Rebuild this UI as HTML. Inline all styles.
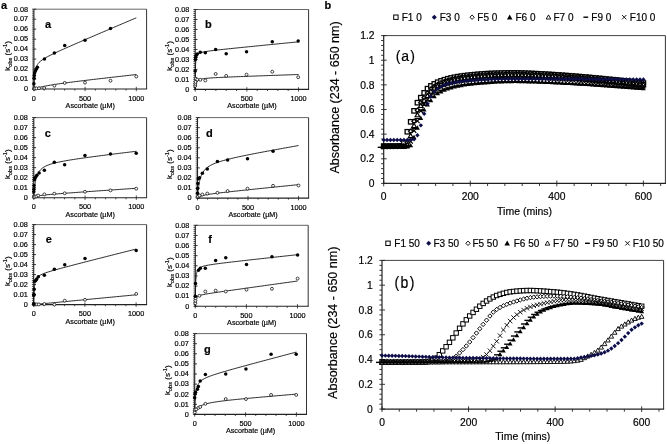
<!DOCTYPE html>
<html><head><meta charset="utf-8"><style>
html,body{margin:0;padding:0;background:#fff;}
svg{display:block;font-family:"Liberation Sans", sans-serif;filter:blur(0.35px);}
text{stroke:#000;stroke-width:0.18px;}
</style></head><body>
<svg width="667" height="444" viewBox="0 0 667 444">
<rect width="667" height="444" fill="#fff"/>
<line x1="33.9" y1="9.2" x2="146.6" y2="9.2" stroke="#666" stroke-width="1"/>
<line x1="146.6" y1="9.2" x2="146.6" y2="89" stroke="#333" stroke-width="1"/>
<line x1="32.1" y1="89" x2="36.2" y2="89" stroke="#222" stroke-width="0.9"/>
<line x1="32.1" y1="87" x2="33.9" y2="87" stroke="#333" stroke-width="0.85"/>
<line x1="32.1" y1="85.01" x2="33.9" y2="85.01" stroke="#333" stroke-width="0.85"/>
<line x1="32.1" y1="83.02" x2="33.9" y2="83.02" stroke="#333" stroke-width="0.85"/>
<line x1="32.1" y1="81.02" x2="33.9" y2="81.02" stroke="#333" stroke-width="0.85"/>
<line x1="32.1" y1="79.03" x2="36.2" y2="79.03" stroke="#222" stroke-width="0.9"/>
<line x1="32.1" y1="77.03" x2="33.9" y2="77.03" stroke="#333" stroke-width="0.85"/>
<line x1="32.1" y1="75.03" x2="33.9" y2="75.03" stroke="#333" stroke-width="0.85"/>
<line x1="32.1" y1="73.04" x2="33.9" y2="73.04" stroke="#333" stroke-width="0.85"/>
<line x1="32.1" y1="71.05" x2="33.9" y2="71.05" stroke="#333" stroke-width="0.85"/>
<line x1="32.1" y1="69.05" x2="36.2" y2="69.05" stroke="#222" stroke-width="0.9"/>
<line x1="32.1" y1="67.06" x2="33.9" y2="67.06" stroke="#333" stroke-width="0.85"/>
<line x1="32.1" y1="65.06" x2="33.9" y2="65.06" stroke="#333" stroke-width="0.85"/>
<line x1="32.1" y1="63.06" x2="33.9" y2="63.06" stroke="#333" stroke-width="0.85"/>
<line x1="32.1" y1="61.07" x2="33.9" y2="61.07" stroke="#333" stroke-width="0.85"/>
<line x1="32.1" y1="59.08" x2="36.2" y2="59.08" stroke="#222" stroke-width="0.9"/>
<line x1="32.1" y1="57.08" x2="33.9" y2="57.08" stroke="#333" stroke-width="0.85"/>
<line x1="32.1" y1="55.09" x2="33.9" y2="55.09" stroke="#333" stroke-width="0.85"/>
<line x1="32.1" y1="53.09" x2="33.9" y2="53.09" stroke="#333" stroke-width="0.85"/>
<line x1="32.1" y1="51.09" x2="33.9" y2="51.09" stroke="#333" stroke-width="0.85"/>
<line x1="32.1" y1="49.1" x2="36.2" y2="49.1" stroke="#222" stroke-width="0.9"/>
<line x1="32.1" y1="47.1" x2="33.9" y2="47.1" stroke="#333" stroke-width="0.85"/>
<line x1="32.1" y1="45.11" x2="33.9" y2="45.11" stroke="#333" stroke-width="0.85"/>
<line x1="32.1" y1="43.12" x2="33.9" y2="43.12" stroke="#333" stroke-width="0.85"/>
<line x1="32.1" y1="41.12" x2="33.9" y2="41.12" stroke="#333" stroke-width="0.85"/>
<line x1="32.1" y1="39.12" x2="36.2" y2="39.12" stroke="#222" stroke-width="0.9"/>
<line x1="32.1" y1="37.13" x2="33.9" y2="37.13" stroke="#333" stroke-width="0.85"/>
<line x1="32.1" y1="35.13" x2="33.9" y2="35.13" stroke="#333" stroke-width="0.85"/>
<line x1="32.1" y1="33.14" x2="33.9" y2="33.14" stroke="#333" stroke-width="0.85"/>
<line x1="32.1" y1="31.14" x2="33.9" y2="31.14" stroke="#333" stroke-width="0.85"/>
<line x1="32.1" y1="29.15" x2="36.2" y2="29.15" stroke="#222" stroke-width="0.9"/>
<line x1="32.1" y1="27.16" x2="33.9" y2="27.16" stroke="#333" stroke-width="0.85"/>
<line x1="32.1" y1="25.16" x2="33.9" y2="25.16" stroke="#333" stroke-width="0.85"/>
<line x1="32.1" y1="23.16" x2="33.9" y2="23.16" stroke="#333" stroke-width="0.85"/>
<line x1="32.1" y1="21.17" x2="33.9" y2="21.17" stroke="#333" stroke-width="0.85"/>
<line x1="32.1" y1="19.17" x2="36.2" y2="19.17" stroke="#222" stroke-width="0.9"/>
<line x1="32.1" y1="17.18" x2="33.9" y2="17.18" stroke="#333" stroke-width="0.85"/>
<line x1="32.1" y1="15.19" x2="33.9" y2="15.19" stroke="#333" stroke-width="0.85"/>
<line x1="32.1" y1="13.19" x2="33.9" y2="13.19" stroke="#333" stroke-width="0.85"/>
<line x1="32.1" y1="11.19" x2="33.9" y2="11.19" stroke="#333" stroke-width="0.85"/>
<line x1="32.1" y1="9.2" x2="36.2" y2="9.2" stroke="#222" stroke-width="0.9"/>
<line x1="33.9" y1="86.8" x2="33.9" y2="91.2" stroke="#222" stroke-width="0.8"/>
<line x1="44.14" y1="89" x2="44.14" y2="90.6" stroke="#222" stroke-width="0.8"/>
<line x1="54.38" y1="89" x2="54.38" y2="90.6" stroke="#222" stroke-width="0.8"/>
<line x1="64.62" y1="89" x2="64.62" y2="90.6" stroke="#222" stroke-width="0.8"/>
<line x1="74.86" y1="89" x2="74.86" y2="90.6" stroke="#222" stroke-width="0.8"/>
<line x1="85.1" y1="86.8" x2="85.1" y2="91.2" stroke="#222" stroke-width="0.8"/>
<line x1="95.34" y1="89" x2="95.34" y2="90.6" stroke="#222" stroke-width="0.8"/>
<line x1="105.58" y1="89" x2="105.58" y2="90.6" stroke="#222" stroke-width="0.8"/>
<line x1="115.82" y1="89" x2="115.82" y2="90.6" stroke="#222" stroke-width="0.8"/>
<line x1="126.06" y1="89" x2="126.06" y2="90.6" stroke="#222" stroke-width="0.8"/>
<line x1="136.3" y1="86.8" x2="136.3" y2="91.2" stroke="#222" stroke-width="0.8"/>
<line x1="33.9" y1="9.2" x2="33.9" y2="89.5" stroke="#222" stroke-width="1.1"/>
<line x1="33.4" y1="89" x2="147.1" y2="89" stroke="#222" stroke-width="1.1"/>
<text x="28" y="91.3" font-size="7.3" text-anchor="end" font-weight="normal" fill="#000">0</text>
<text x="28" y="81.33" font-size="7.3" text-anchor="end" font-weight="normal" fill="#000">0.01</text>
<text x="28" y="71.35" font-size="7.3" text-anchor="end" font-weight="normal" fill="#000">0.02</text>
<text x="28" y="61.38" font-size="7.3" text-anchor="end" font-weight="normal" fill="#000">0.03</text>
<text x="28" y="51.4" font-size="7.3" text-anchor="end" font-weight="normal" fill="#000">0.04</text>
<text x="28" y="41.42" font-size="7.3" text-anchor="end" font-weight="normal" fill="#000">0.05</text>
<text x="28" y="31.45" font-size="7.3" text-anchor="end" font-weight="normal" fill="#000">0.06</text>
<text x="28" y="21.47" font-size="7.3" text-anchor="end" font-weight="normal" fill="#000">0.07</text>
<text x="28" y="11.5" font-size="7.3" text-anchor="end" font-weight="normal" fill="#000">0.08</text>
<text x="33.9" y="100.7" font-size="7.3" text-anchor="middle" font-weight="normal" fill="#000">0</text>
<text x="85.1" y="100.7" font-size="7.3" text-anchor="middle" font-weight="normal" fill="#000">500</text>
<text x="136.3" y="100.7" font-size="7.3" text-anchor="middle" font-weight="normal" fill="#000">1000</text>
<text x="90.25" y="108" font-size="7.2" text-anchor="middle" font-weight="normal" fill="#000">Ascorbate (µM)</text>
<text transform="translate(10.3 70.7) rotate(-90)" font-size="8" fill="#000">k<tspan font-size="5.6" dy="1.8">obs</tspan><tspan dy="-1.8"> (s</tspan><tspan font-size="5.6" dy="-3">-1</tspan><tspan dy="3">)</tspan></text>
<text x="44.9" y="27.8" font-size="11" text-anchor="start" font-weight="bold" fill="#000">a</text>
<path d="M33.9 89 L33.99 86.27 L34.07 84.01 L34.16 82.11 L34.25 80.48 L34.33 79.08 L34.42 77.85 L34.51 76.77 L34.59 75.8 L34.68 74.94 L34.77 74.16 L34.85 73.46 L34.94 72.82 L35.03 72.23 L35.11 71.69 L35.2 71.19 L35.29 70.72 L35.38 70.29 L35.46 69.89 L35.55 69.51 L35.64 69.16 L35.72 68.82 L35.81 68.51 L35.9 68.21 L35.98 67.93 L36.07 67.66 L36.16 67.41 L36.24 67.17 L36.33 66.94 L36.42 66.71 L36.5 66.5 L36.59 66.3 L36.68 66.1 L36.76 65.92 L36.85 65.74 L36.94 65.56 L37.02 65.39 L37.11 65.23 L37.2 65.07 L37.28 64.92 L37.37 64.77 L37.46 64.63 L37.54 64.49 L37.63 64.36 L37.72 64.23 L37.81 64.1 L37.89 63.97 L37.98 63.85 L38.07 63.73 L38.15 63.62 L38.24 63.5 L38.33 63.39 L38.41 63.28 L38.5 63.18 L38.59 63.08 L38.67 62.97 L38.76 62.87 L38.85 62.78 L38.93 62.68 L39.02 62.59 L39.02 62.59 L40.67 61.05 L42.32 59.81 L43.97 58.73 L45.62 57.76 L47.26 56.85 L48.91 55.98 L50.56 55.14 L52.21 54.33 L53.86 53.54 L55.51 52.76 L57.16 52 L58.81 51.24 L60.45 50.49 L62.1 49.74 L63.75 49 L65.4 48.27 L67.05 47.53 L68.7 46.81 L70.35 46.08 L72 45.36 L73.65 44.64 L75.29 43.92 L76.94 43.2 L78.59 42.48 L80.24 41.77 L81.89 41.05 L83.54 40.34 L85.19 39.63 L86.84 38.92 L88.48 38.21 L90.13 37.5 L91.78 36.79 L93.43 36.08 L95.08 35.38 L96.73 34.67 L98.38 33.96 L100.03 33.26 L101.67 32.55 L103.32 31.85 L104.97 31.14 L106.62 30.44 L108.27 29.74 L109.92 29.03 L111.57 28.33 L113.22 27.63 L114.87 26.92 L116.51 26.22 L118.16 25.52 L119.81 24.82 L121.46 24.11 L123.11 23.41 L124.76 22.71 L126.41 22.01 L128.06 21.31 L129.7 20.61 L131.35 19.9 L133 19.2 L134.65 18.5 L136.3 17.8" stroke="#111" stroke-width="0.9" fill="none"/>
<path d="M33.9 89 L33.99 88.97 L34.07 88.94 L34.16 88.91 L34.25 88.87 L34.33 88.84 L34.42 88.81 L34.51 88.78 L34.59 88.75 L34.68 88.72 L34.77 88.69 L34.85 88.66 L34.94 88.64 L35.03 88.61 L35.11 88.58 L35.2 88.55 L35.29 88.52 L35.38 88.49 L35.46 88.46 L35.55 88.44 L35.64 88.41 L35.72 88.38 L35.81 88.35 L35.9 88.33 L35.98 88.3 L36.07 88.27 L36.16 88.25 L36.24 88.22 L36.33 88.19 L36.42 88.17 L36.5 88.14 L36.59 88.12 L36.68 88.09 L36.76 88.07 L36.85 88.04 L36.94 88.02 L37.02 87.99 L37.11 87.97 L37.2 87.94 L37.28 87.92 L37.37 87.89 L37.46 87.87 L37.54 87.84 L37.63 87.82 L37.72 87.8 L37.81 87.77 L37.89 87.75 L37.98 87.73 L38.07 87.7 L38.15 87.68 L38.24 87.66 L38.33 87.63 L38.41 87.61 L38.5 87.59 L38.59 87.57 L38.67 87.54 L38.76 87.52 L38.85 87.5 L38.93 87.48 L39.02 87.45 L39.02 87.45 L40.67 87.05 L42.32 86.69 L43.97 86.34 L45.62 86.02 L47.26 85.71 L48.91 85.42 L50.56 85.14 L52.21 84.87 L53.86 84.61 L55.51 84.35 L57.16 84.1 L58.81 83.86 L60.45 83.63 L62.1 83.39 L63.75 83.17 L65.4 82.94 L67.05 82.72 L68.7 82.5 L70.35 82.29 L72 82.07 L73.65 81.86 L75.29 81.65 L76.94 81.45 L78.59 81.24 L80.24 81.04 L81.89 80.84 L83.54 80.63 L85.19 80.43 L86.84 80.24 L88.48 80.04 L90.13 79.84 L91.78 79.64 L93.43 79.45 L95.08 79.26 L96.73 79.06 L98.38 78.87 L100.03 78.68 L101.67 78.48 L103.32 78.29 L104.97 78.1 L106.62 77.91 L108.27 77.72 L109.92 77.53 L111.57 77.35 L113.22 77.16 L114.87 76.97 L116.51 76.78 L118.16 76.6 L119.81 76.41 L121.46 76.22 L123.11 76.04 L124.76 75.85 L126.41 75.67 L128.06 75.48 L129.7 75.3 L131.35 75.11 L133 74.93 L134.65 74.74 L136.3 74.56" stroke="#111" stroke-width="0.9" fill="none"/>
<circle cx="33.9" cy="88.7" r="1.45" fill="#fff" stroke="#111" stroke-width="0.8"/>
<circle cx="34.41" cy="88.6" r="1.45" fill="#fff" stroke="#111" stroke-width="0.8"/>
<circle cx="34.92" cy="88.5" r="1.45" fill="#fff" stroke="#111" stroke-width="0.8"/>
<circle cx="36.46" cy="88.4" r="1.45" fill="#fff" stroke="#111" stroke-width="0.8"/>
<circle cx="39.02" cy="88.2" r="1.45" fill="#fff" stroke="#111" stroke-width="0.8"/>
<circle cx="44.14" cy="88" r="1.45" fill="#fff" stroke="#111" stroke-width="0.8"/>
<circle cx="54.38" cy="85.71" r="1.45" fill="#fff" stroke="#111" stroke-width="0.8"/>
<circle cx="64.72" cy="82.92" r="1.45" fill="#fff" stroke="#111" stroke-width="0.8"/>
<circle cx="85" cy="82.62" r="1.45" fill="#fff" stroke="#111" stroke-width="0.8"/>
<circle cx="110.5" cy="80.72" r="1.45" fill="#fff" stroke="#111" stroke-width="0.8"/>
<circle cx="136.3" cy="76.53" r="1.45" fill="#fff" stroke="#111" stroke-width="0.8"/>
<circle cx="33.9" cy="83.81" r="1.75" fill="#000"/>
<circle cx="34.1" cy="78.33" r="1.75" fill="#000"/>
<circle cx="34.31" cy="75.53" r="1.75" fill="#000"/>
<circle cx="34.72" cy="72.84" r="1.75" fill="#000"/>
<circle cx="35.44" cy="70.65" r="1.75" fill="#000"/>
<circle cx="36.46" cy="69.05" r="1.75" fill="#000"/>
<circle cx="37.38" cy="67.25" r="1.75" fill="#000"/>
<circle cx="44.45" cy="58.98" r="1.75" fill="#000"/>
<circle cx="54.38" cy="52.89" r="1.75" fill="#000"/>
<circle cx="64.72" cy="45.51" r="1.75" fill="#000"/>
<circle cx="85" cy="40.22" r="1.75" fill="#000"/>
<circle cx="110.5" cy="28.45" r="1.75" fill="#000"/>
<line x1="195.2" y1="9.5" x2="308.6" y2="9.5" stroke="#666" stroke-width="1"/>
<line x1="308.6" y1="9.5" x2="308.6" y2="89.4" stroke="#333" stroke-width="1"/>
<line x1="193.4" y1="89.4" x2="197.5" y2="89.4" stroke="#222" stroke-width="0.9"/>
<line x1="193.4" y1="87.4" x2="195.2" y2="87.4" stroke="#333" stroke-width="0.85"/>
<line x1="193.4" y1="85.41" x2="195.2" y2="85.41" stroke="#333" stroke-width="0.85"/>
<line x1="193.4" y1="83.41" x2="195.2" y2="83.41" stroke="#333" stroke-width="0.85"/>
<line x1="193.4" y1="81.41" x2="195.2" y2="81.41" stroke="#333" stroke-width="0.85"/>
<line x1="193.4" y1="79.41" x2="197.5" y2="79.41" stroke="#222" stroke-width="0.9"/>
<line x1="193.4" y1="77.42" x2="195.2" y2="77.42" stroke="#333" stroke-width="0.85"/>
<line x1="193.4" y1="75.42" x2="195.2" y2="75.42" stroke="#333" stroke-width="0.85"/>
<line x1="193.4" y1="73.42" x2="195.2" y2="73.42" stroke="#333" stroke-width="0.85"/>
<line x1="193.4" y1="71.42" x2="195.2" y2="71.42" stroke="#333" stroke-width="0.85"/>
<line x1="193.4" y1="69.43" x2="197.5" y2="69.43" stroke="#222" stroke-width="0.9"/>
<line x1="193.4" y1="67.43" x2="195.2" y2="67.43" stroke="#333" stroke-width="0.85"/>
<line x1="193.4" y1="65.43" x2="195.2" y2="65.43" stroke="#333" stroke-width="0.85"/>
<line x1="193.4" y1="63.43" x2="195.2" y2="63.43" stroke="#333" stroke-width="0.85"/>
<line x1="193.4" y1="61.44" x2="195.2" y2="61.44" stroke="#333" stroke-width="0.85"/>
<line x1="193.4" y1="59.44" x2="197.5" y2="59.44" stroke="#222" stroke-width="0.9"/>
<line x1="193.4" y1="57.44" x2="195.2" y2="57.44" stroke="#333" stroke-width="0.85"/>
<line x1="193.4" y1="55.44" x2="195.2" y2="55.44" stroke="#333" stroke-width="0.85"/>
<line x1="193.4" y1="53.45" x2="195.2" y2="53.45" stroke="#333" stroke-width="0.85"/>
<line x1="193.4" y1="51.45" x2="195.2" y2="51.45" stroke="#333" stroke-width="0.85"/>
<line x1="193.4" y1="49.45" x2="197.5" y2="49.45" stroke="#222" stroke-width="0.9"/>
<line x1="193.4" y1="47.45" x2="195.2" y2="47.45" stroke="#333" stroke-width="0.85"/>
<line x1="193.4" y1="45.46" x2="195.2" y2="45.46" stroke="#333" stroke-width="0.85"/>
<line x1="193.4" y1="43.46" x2="195.2" y2="43.46" stroke="#333" stroke-width="0.85"/>
<line x1="193.4" y1="41.46" x2="195.2" y2="41.46" stroke="#333" stroke-width="0.85"/>
<line x1="193.4" y1="39.46" x2="197.5" y2="39.46" stroke="#222" stroke-width="0.9"/>
<line x1="193.4" y1="37.47" x2="195.2" y2="37.47" stroke="#333" stroke-width="0.85"/>
<line x1="193.4" y1="35.47" x2="195.2" y2="35.47" stroke="#333" stroke-width="0.85"/>
<line x1="193.4" y1="33.47" x2="195.2" y2="33.47" stroke="#333" stroke-width="0.85"/>
<line x1="193.4" y1="31.47" x2="195.2" y2="31.47" stroke="#333" stroke-width="0.85"/>
<line x1="193.4" y1="29.48" x2="197.5" y2="29.48" stroke="#222" stroke-width="0.9"/>
<line x1="193.4" y1="27.48" x2="195.2" y2="27.48" stroke="#333" stroke-width="0.85"/>
<line x1="193.4" y1="25.48" x2="195.2" y2="25.48" stroke="#333" stroke-width="0.85"/>
<line x1="193.4" y1="23.48" x2="195.2" y2="23.48" stroke="#333" stroke-width="0.85"/>
<line x1="193.4" y1="21.48" x2="195.2" y2="21.48" stroke="#333" stroke-width="0.85"/>
<line x1="193.4" y1="19.49" x2="197.5" y2="19.49" stroke="#222" stroke-width="0.9"/>
<line x1="193.4" y1="17.49" x2="195.2" y2="17.49" stroke="#333" stroke-width="0.85"/>
<line x1="193.4" y1="15.49" x2="195.2" y2="15.49" stroke="#333" stroke-width="0.85"/>
<line x1="193.4" y1="13.5" x2="195.2" y2="13.5" stroke="#333" stroke-width="0.85"/>
<line x1="193.4" y1="11.5" x2="195.2" y2="11.5" stroke="#333" stroke-width="0.85"/>
<line x1="193.4" y1="9.5" x2="197.5" y2="9.5" stroke="#222" stroke-width="0.9"/>
<line x1="195.2" y1="87.2" x2="195.2" y2="91.6" stroke="#222" stroke-width="0.8"/>
<line x1="205.53" y1="89.4" x2="205.53" y2="91" stroke="#222" stroke-width="0.8"/>
<line x1="215.86" y1="89.4" x2="215.86" y2="91" stroke="#222" stroke-width="0.8"/>
<line x1="226.19" y1="89.4" x2="226.19" y2="91" stroke="#222" stroke-width="0.8"/>
<line x1="236.52" y1="89.4" x2="236.52" y2="91" stroke="#222" stroke-width="0.8"/>
<line x1="246.85" y1="87.2" x2="246.85" y2="91.6" stroke="#222" stroke-width="0.8"/>
<line x1="257.18" y1="89.4" x2="257.18" y2="91" stroke="#222" stroke-width="0.8"/>
<line x1="267.51" y1="89.4" x2="267.51" y2="91" stroke="#222" stroke-width="0.8"/>
<line x1="277.84" y1="89.4" x2="277.84" y2="91" stroke="#222" stroke-width="0.8"/>
<line x1="288.17" y1="89.4" x2="288.17" y2="91" stroke="#222" stroke-width="0.8"/>
<line x1="298.5" y1="87.2" x2="298.5" y2="91.6" stroke="#222" stroke-width="0.8"/>
<line x1="195.2" y1="9.5" x2="195.2" y2="89.9" stroke="#222" stroke-width="1.1"/>
<line x1="194.7" y1="89.4" x2="309.1" y2="89.4" stroke="#222" stroke-width="1.1"/>
<text x="189.3" y="91.7" font-size="7.3" text-anchor="end" font-weight="normal" fill="#000">0</text>
<text x="189.3" y="81.71" font-size="7.3" text-anchor="end" font-weight="normal" fill="#000">0.01</text>
<text x="189.3" y="71.73" font-size="7.3" text-anchor="end" font-weight="normal" fill="#000">0.02</text>
<text x="189.3" y="61.74" font-size="7.3" text-anchor="end" font-weight="normal" fill="#000">0.03</text>
<text x="189.3" y="51.75" font-size="7.3" text-anchor="end" font-weight="normal" fill="#000">0.04</text>
<text x="189.3" y="41.76" font-size="7.3" text-anchor="end" font-weight="normal" fill="#000">0.05</text>
<text x="189.3" y="31.78" font-size="7.3" text-anchor="end" font-weight="normal" fill="#000">0.06</text>
<text x="189.3" y="21.79" font-size="7.3" text-anchor="end" font-weight="normal" fill="#000">0.07</text>
<text x="189.3" y="11.8" font-size="7.3" text-anchor="end" font-weight="normal" fill="#000">0.08</text>
<text x="195.2" y="101.1" font-size="7.3" text-anchor="middle" font-weight="normal" fill="#000">0</text>
<text x="246.85" y="101.1" font-size="7.3" text-anchor="middle" font-weight="normal" fill="#000">500</text>
<text x="298.5" y="101.1" font-size="7.3" text-anchor="middle" font-weight="normal" fill="#000">1000</text>
<text x="251.9" y="108.4" font-size="7.2" text-anchor="middle" font-weight="normal" fill="#000">Ascorbate (µM)</text>
<text transform="translate(172 70.7) rotate(-90)" font-size="8" fill="#000">k<tspan font-size="5.6" dy="1.8">obs</tspan><tspan dy="-1.8"> (s</tspan><tspan font-size="5.6" dy="-3">-1</tspan><tspan dy="3">)</tspan></text>
<text x="204.9" y="28.1" font-size="11" text-anchor="start" font-weight="bold" fill="#000">b</text>
<path d="M195.2 89.4 L195.29 78.21 L195.38 72.16 L195.46 68.36 L195.55 65.75 L195.64 63.85 L195.73 62.4 L195.81 61.26 L195.9 60.33 L195.99 59.57 L196.08 58.93 L196.16 58.39 L196.25 57.92 L196.34 57.51 L196.43 57.14 L196.51 56.82 L196.6 56.54 L196.69 56.28 L196.78 56.05 L196.86 55.83 L196.95 55.64 L197.04 55.46 L197.13 55.3 L197.21 55.15 L197.3 55 L197.39 54.87 L197.48 54.75 L197.56 54.63 L197.65 54.53 L197.74 54.43 L197.83 54.33 L197.91 54.24 L198 54.15 L198.09 54.07 L198.18 53.99 L198.26 53.92 L198.35 53.85 L198.44 53.78 L198.53 53.72 L198.61 53.66 L198.7 53.6 L198.79 53.54 L198.88 53.49 L198.96 53.43 L199.05 53.38 L199.14 53.33 L199.23 53.29 L199.31 53.24 L199.4 53.2 L199.49 53.15 L199.58 53.11 L199.66 53.07 L199.75 53.03 L199.84 52.99 L199.93 52.96 L200.01 52.92 L200.1 52.89 L200.19 52.85 L200.28 52.82 L200.36 52.79 L200.36 52.79 L202.03 52.28 L203.69 51.91 L205.35 51.6 L207.02 51.34 L208.68 51.1 L210.34 50.87 L212.01 50.66 L213.67 50.46 L215.33 50.26 L217 50.07 L218.66 49.88 L220.32 49.7 L221.99 49.52 L223.65 49.34 L225.31 49.16 L226.98 48.99 L228.64 48.81 L230.3 48.64 L231.97 48.47 L233.63 48.29 L235.29 48.12 L236.96 47.95 L238.62 47.78 L240.28 47.62 L241.95 47.45 L243.61 47.28 L245.27 47.11 L246.94 46.94 L248.6 46.78 L250.26 46.61 L251.93 46.44 L253.59 46.28 L255.25 46.11 L256.92 45.95 L258.58 45.78 L260.24 45.61 L261.91 45.45 L263.57 45.28 L265.23 45.12 L266.9 44.95 L268.56 44.79 L270.22 44.62 L271.89 44.46 L273.55 44.29 L275.21 44.13 L276.88 43.97 L278.54 43.8 L280.2 43.64 L281.87 43.47 L283.53 43.31 L285.19 43.15 L286.86 42.98 L288.52 42.82 L290.18 42.65 L291.85 42.49 L293.51 42.33 L295.17 42.16 L296.84 42 L298.5 41.83" stroke="#111" stroke-width="0.9" fill="none"/>
<path d="M195.2 89.4 L195.29 88.3 L195.38 87.39 L195.46 86.62 L195.55 85.97 L195.64 85.41 L195.73 84.92 L195.81 84.49 L195.9 84.11 L195.99 83.77 L196.08 83.46 L196.16 83.19 L196.25 82.94 L196.34 82.71 L196.43 82.5 L196.51 82.31 L196.6 82.13 L196.69 81.96 L196.78 81.81 L196.86 81.67 L196.95 81.54 L197.04 81.41 L197.13 81.3 L197.21 81.19 L197.3 81.09 L197.39 80.99 L197.48 80.9 L197.56 80.81 L197.65 80.73 L197.74 80.65 L197.83 80.57 L197.91 80.5 L198 80.44 L198.09 80.37 L198.18 80.31 L198.26 80.25 L198.35 80.19 L198.44 80.14 L198.53 80.09 L198.61 80.04 L198.7 79.99 L198.79 79.94 L198.88 79.9 L198.96 79.85 L199.05 79.81 L199.14 79.77 L199.23 79.73 L199.31 79.7 L199.4 79.66 L199.49 79.62 L199.58 79.59 L199.66 79.56 L199.75 79.53 L199.84 79.49 L199.93 79.46 L200.01 79.43 L200.1 79.41 L200.19 79.38 L200.28 79.35 L200.36 79.32 L200.36 79.32 L202.03 78.92 L203.69 78.65 L205.35 78.44 L207.02 78.27 L208.68 78.12 L210.34 78 L212.01 77.88 L213.67 77.78 L215.33 77.69 L217 77.6 L218.66 77.51 L220.32 77.43 L221.99 77.35 L223.65 77.28 L225.31 77.2 L226.98 77.13 L228.64 77.06 L230.3 76.99 L231.97 76.92 L233.63 76.86 L235.29 76.79 L236.96 76.72 L238.62 76.66 L240.28 76.6 L241.95 76.53 L243.61 76.47 L245.27 76.41 L246.94 76.34 L248.6 76.28 L250.26 76.22 L251.93 76.16 L253.59 76.1 L255.25 76.04 L256.92 75.98 L258.58 75.92 L260.24 75.86 L261.91 75.8 L263.57 75.74 L265.23 75.68 L266.9 75.62 L268.56 75.56 L270.22 75.5 L271.89 75.44 L273.55 75.38 L275.21 75.32 L276.88 75.27 L278.54 75.21 L280.2 75.15 L281.87 75.09 L283.53 75.03 L285.19 74.97 L286.86 74.92 L288.52 74.86 L290.18 74.8 L291.85 74.74 L293.51 74.68 L295.17 74.63 L296.84 74.57 L298.5 74.51" stroke="#111" stroke-width="0.9" fill="none"/>
<circle cx="195.2" cy="85.9" r="1.45" fill="#fff" stroke="#111" stroke-width="0.8"/>
<circle cx="195.3" cy="83.81" r="1.45" fill="#fff" stroke="#111" stroke-width="0.8"/>
<circle cx="195.51" cy="81.91" r="1.45" fill="#fff" stroke="#111" stroke-width="0.8"/>
<circle cx="195.82" cy="78.71" r="1.45" fill="#fff" stroke="#111" stroke-width="0.8"/>
<circle cx="197.27" cy="79.61" r="1.45" fill="#fff" stroke="#111" stroke-width="0.8"/>
<circle cx="200.26" cy="79.81" r="1.45" fill="#fff" stroke="#111" stroke-width="0.8"/>
<circle cx="205.32" cy="80.51" r="1.45" fill="#fff" stroke="#111" stroke-width="0.8"/>
<circle cx="215.65" cy="73.92" r="1.45" fill="#fff" stroke="#111" stroke-width="0.8"/>
<circle cx="226.19" cy="75.92" r="1.45" fill="#fff" stroke="#111" stroke-width="0.8"/>
<circle cx="246.54" cy="74.62" r="1.45" fill="#fff" stroke="#111" stroke-width="0.8"/>
<circle cx="272.26" cy="71.72" r="1.45" fill="#fff" stroke="#111" stroke-width="0.8"/>
<circle cx="298.19" cy="77.22" r="1.45" fill="#fff" stroke="#111" stroke-width="0.8"/>
<circle cx="195.2" cy="70.92" r="1.75" fill="#000"/>
<circle cx="195.41" cy="59.54" r="1.75" fill="#000"/>
<circle cx="195.72" cy="57.14" r="1.75" fill="#000"/>
<circle cx="196.23" cy="55.24" r="1.75" fill="#000"/>
<circle cx="197.27" cy="53.94" r="1.75" fill="#000"/>
<circle cx="200.26" cy="52.15" r="1.75" fill="#000"/>
<circle cx="205.32" cy="52.85" r="1.75" fill="#000"/>
<circle cx="215.65" cy="49.55" r="1.75" fill="#000"/>
<circle cx="226.19" cy="53.84" r="1.75" fill="#000"/>
<circle cx="246.54" cy="51.75" r="1.75" fill="#000"/>
<circle cx="272.26" cy="41.86" r="1.75" fill="#000"/>
<circle cx="298.19" cy="41.06" r="1.75" fill="#000"/>
<line x1="33.8" y1="117.6" x2="146.6" y2="117.6" stroke="#666" stroke-width="1"/>
<line x1="146.6" y1="117.6" x2="146.6" y2="197.7" stroke="#333" stroke-width="1"/>
<line x1="32" y1="197.7" x2="36.1" y2="197.7" stroke="#222" stroke-width="0.9"/>
<line x1="32" y1="195.7" x2="33.8" y2="195.7" stroke="#333" stroke-width="0.85"/>
<line x1="32" y1="193.69" x2="33.8" y2="193.69" stroke="#333" stroke-width="0.85"/>
<line x1="32" y1="191.69" x2="33.8" y2="191.69" stroke="#333" stroke-width="0.85"/>
<line x1="32" y1="189.69" x2="33.8" y2="189.69" stroke="#333" stroke-width="0.85"/>
<line x1="32" y1="187.69" x2="36.1" y2="187.69" stroke="#222" stroke-width="0.9"/>
<line x1="32" y1="185.69" x2="33.8" y2="185.69" stroke="#333" stroke-width="0.85"/>
<line x1="32" y1="183.68" x2="33.8" y2="183.68" stroke="#333" stroke-width="0.85"/>
<line x1="32" y1="181.68" x2="33.8" y2="181.68" stroke="#333" stroke-width="0.85"/>
<line x1="32" y1="179.68" x2="33.8" y2="179.68" stroke="#333" stroke-width="0.85"/>
<line x1="32" y1="177.67" x2="36.1" y2="177.67" stroke="#222" stroke-width="0.9"/>
<line x1="32" y1="175.67" x2="33.8" y2="175.67" stroke="#333" stroke-width="0.85"/>
<line x1="32" y1="173.67" x2="33.8" y2="173.67" stroke="#333" stroke-width="0.85"/>
<line x1="32" y1="171.67" x2="33.8" y2="171.67" stroke="#333" stroke-width="0.85"/>
<line x1="32" y1="169.66" x2="33.8" y2="169.66" stroke="#333" stroke-width="0.85"/>
<line x1="32" y1="167.66" x2="36.1" y2="167.66" stroke="#222" stroke-width="0.9"/>
<line x1="32" y1="165.66" x2="33.8" y2="165.66" stroke="#333" stroke-width="0.85"/>
<line x1="32" y1="163.66" x2="33.8" y2="163.66" stroke="#333" stroke-width="0.85"/>
<line x1="32" y1="161.65" x2="33.8" y2="161.65" stroke="#333" stroke-width="0.85"/>
<line x1="32" y1="159.65" x2="33.8" y2="159.65" stroke="#333" stroke-width="0.85"/>
<line x1="32" y1="157.65" x2="36.1" y2="157.65" stroke="#222" stroke-width="0.9"/>
<line x1="32" y1="155.65" x2="33.8" y2="155.65" stroke="#333" stroke-width="0.85"/>
<line x1="32" y1="153.64" x2="33.8" y2="153.64" stroke="#333" stroke-width="0.85"/>
<line x1="32" y1="151.64" x2="33.8" y2="151.64" stroke="#333" stroke-width="0.85"/>
<line x1="32" y1="149.64" x2="33.8" y2="149.64" stroke="#333" stroke-width="0.85"/>
<line x1="32" y1="147.64" x2="36.1" y2="147.64" stroke="#222" stroke-width="0.9"/>
<line x1="32" y1="145.63" x2="33.8" y2="145.63" stroke="#333" stroke-width="0.85"/>
<line x1="32" y1="143.63" x2="33.8" y2="143.63" stroke="#333" stroke-width="0.85"/>
<line x1="32" y1="141.63" x2="33.8" y2="141.63" stroke="#333" stroke-width="0.85"/>
<line x1="32" y1="139.63" x2="33.8" y2="139.63" stroke="#333" stroke-width="0.85"/>
<line x1="32" y1="137.62" x2="36.1" y2="137.62" stroke="#222" stroke-width="0.9"/>
<line x1="32" y1="135.62" x2="33.8" y2="135.62" stroke="#333" stroke-width="0.85"/>
<line x1="32" y1="133.62" x2="33.8" y2="133.62" stroke="#333" stroke-width="0.85"/>
<line x1="32" y1="131.62" x2="33.8" y2="131.62" stroke="#333" stroke-width="0.85"/>
<line x1="32" y1="129.62" x2="33.8" y2="129.62" stroke="#333" stroke-width="0.85"/>
<line x1="32" y1="127.61" x2="36.1" y2="127.61" stroke="#222" stroke-width="0.9"/>
<line x1="32" y1="125.61" x2="33.8" y2="125.61" stroke="#333" stroke-width="0.85"/>
<line x1="32" y1="123.61" x2="33.8" y2="123.61" stroke="#333" stroke-width="0.85"/>
<line x1="32" y1="121.61" x2="33.8" y2="121.61" stroke="#333" stroke-width="0.85"/>
<line x1="32" y1="119.6" x2="33.8" y2="119.6" stroke="#333" stroke-width="0.85"/>
<line x1="32" y1="117.6" x2="36.1" y2="117.6" stroke="#222" stroke-width="0.9"/>
<line x1="33.8" y1="195.5" x2="33.8" y2="199.9" stroke="#222" stroke-width="0.8"/>
<line x1="44.05" y1="197.7" x2="44.05" y2="199.3" stroke="#222" stroke-width="0.8"/>
<line x1="54.3" y1="197.7" x2="54.3" y2="199.3" stroke="#222" stroke-width="0.8"/>
<line x1="64.55" y1="197.7" x2="64.55" y2="199.3" stroke="#222" stroke-width="0.8"/>
<line x1="74.8" y1="197.7" x2="74.8" y2="199.3" stroke="#222" stroke-width="0.8"/>
<line x1="85.05" y1="195.5" x2="85.05" y2="199.9" stroke="#222" stroke-width="0.8"/>
<line x1="95.3" y1="197.7" x2="95.3" y2="199.3" stroke="#222" stroke-width="0.8"/>
<line x1="105.55" y1="197.7" x2="105.55" y2="199.3" stroke="#222" stroke-width="0.8"/>
<line x1="115.8" y1="197.7" x2="115.8" y2="199.3" stroke="#222" stroke-width="0.8"/>
<line x1="126.05" y1="197.7" x2="126.05" y2="199.3" stroke="#222" stroke-width="0.8"/>
<line x1="136.3" y1="195.5" x2="136.3" y2="199.9" stroke="#222" stroke-width="0.8"/>
<line x1="33.8" y1="117.6" x2="33.8" y2="198.2" stroke="#222" stroke-width="1.1"/>
<line x1="33.3" y1="197.7" x2="147.1" y2="197.7" stroke="#222" stroke-width="1.1"/>
<text x="27.9" y="200" font-size="7.3" text-anchor="end" font-weight="normal" fill="#000">0</text>
<text x="27.9" y="189.99" font-size="7.3" text-anchor="end" font-weight="normal" fill="#000">0.01</text>
<text x="27.9" y="179.97" font-size="7.3" text-anchor="end" font-weight="normal" fill="#000">0.02</text>
<text x="27.9" y="169.96" font-size="7.3" text-anchor="end" font-weight="normal" fill="#000">0.03</text>
<text x="27.9" y="159.95" font-size="7.3" text-anchor="end" font-weight="normal" fill="#000">0.04</text>
<text x="27.9" y="149.94" font-size="7.3" text-anchor="end" font-weight="normal" fill="#000">0.05</text>
<text x="27.9" y="139.93" font-size="7.3" text-anchor="end" font-weight="normal" fill="#000">0.06</text>
<text x="27.9" y="129.91" font-size="7.3" text-anchor="end" font-weight="normal" fill="#000">0.07</text>
<text x="27.9" y="119.9" font-size="7.3" text-anchor="end" font-weight="normal" fill="#000">0.08</text>
<text x="33.8" y="209.4" font-size="7.3" text-anchor="middle" font-weight="normal" fill="#000">0</text>
<text x="85.05" y="209.4" font-size="7.3" text-anchor="middle" font-weight="normal" fill="#000">500</text>
<text x="136.3" y="209.4" font-size="7.3" text-anchor="middle" font-weight="normal" fill="#000">1000</text>
<text x="90.2" y="216.7" font-size="7.2" text-anchor="middle" font-weight="normal" fill="#000">Ascorbate (µM)</text>
<text transform="translate(10.4 179) rotate(-90)" font-size="8" fill="#000">k<tspan font-size="5.6" dy="1.8">obs</tspan><tspan dy="-1.8"> (s</tspan><tspan font-size="5.6" dy="-3">-1</tspan><tspan dy="3">)</tspan></text>
<text x="44.7" y="137.4" font-size="11" text-anchor="start" font-weight="bold" fill="#000">c</text>
<path d="M33.8 197.7 L33.89 196.25 L33.97 194.91 L34.06 193.67 L34.15 192.52 L34.23 191.45 L34.32 190.46 L34.41 189.52 L34.49 188.65 L34.58 187.83 L34.67 187.05 L34.76 186.32 L34.84 185.63 L34.93 184.98 L35.02 184.36 L35.1 183.78 L35.19 183.22 L35.28 182.69 L35.36 182.19 L35.45 181.7 L35.54 181.24 L35.62 180.8 L35.71 180.38 L35.8 179.98 L35.88 179.59 L35.97 179.22 L36.06 178.86 L36.15 178.52 L36.23 178.19 L36.32 177.87 L36.41 177.57 L36.49 177.27 L36.58 176.98 L36.67 176.71 L36.75 176.44 L36.84 176.18 L36.93 175.93 L37.01 175.69 L37.1 175.46 L37.19 175.23 L37.27 175.01 L37.36 174.8 L37.45 174.59 L37.54 174.39 L37.62 174.19 L37.71 174 L37.8 173.82 L37.88 173.64 L37.97 173.46 L38.06 173.29 L38.14 173.13 L38.23 172.96 L38.32 172.81 L38.4 172.65 L38.49 172.5 L38.58 172.35 L38.66 172.21 L38.75 172.07 L38.84 171.93 L38.92 171.8 L38.92 171.8 L40.58 169.72 L42.23 168.23 L43.88 167.1 L45.53 166.2 L47.18 165.44 L48.83 164.8 L50.48 164.24 L52.13 163.74 L53.78 163.28 L55.43 162.86 L57.08 162.48 L58.73 162.11 L60.38 161.77 L62.03 161.44 L63.68 161.13 L65.33 160.83 L66.98 160.54 L68.63 160.26 L70.28 159.99 L71.93 159.72 L73.58 159.47 L75.23 159.21 L76.88 158.96 L78.54 158.72 L80.19 158.48 L81.84 158.24 L83.49 158.01 L85.14 157.77 L86.79 157.55 L88.44 157.32 L90.09 157.1 L91.74 156.87 L93.39 156.65 L95.04 156.43 L96.69 156.22 L98.34 156 L99.99 155.79 L101.64 155.58 L103.29 155.36 L104.94 155.15 L106.59 154.94 L108.24 154.73 L109.89 154.53 L111.54 154.32 L113.19 154.11 L114.84 153.91 L116.49 153.7 L118.15 153.5 L119.8 153.29 L121.45 153.09 L123.1 152.89 L124.75 152.69 L126.4 152.49 L128.05 152.28 L129.7 152.08 L131.35 151.88 L133 151.68 L134.65 151.49 L136.3 151.29" stroke="#111" stroke-width="0.9" fill="none"/>
<path d="M33.8 197.7 L33.89 197.63 L33.97 197.55 L34.06 197.49 L34.15 197.42 L34.23 197.36 L34.32 197.3 L34.41 197.25 L34.49 197.19 L34.58 197.14 L34.67 197.09 L34.76 197.04 L34.84 197 L34.93 196.95 L35.02 196.91 L35.1 196.87 L35.19 196.83 L35.28 196.79 L35.36 196.75 L35.45 196.71 L35.54 196.68 L35.62 196.64 L35.71 196.61 L35.8 196.58 L35.88 196.55 L35.97 196.52 L36.06 196.49 L36.15 196.46 L36.23 196.43 L36.32 196.4 L36.41 196.37 L36.49 196.35 L36.58 196.32 L36.67 196.3 L36.75 196.27 L36.84 196.25 L36.93 196.22 L37.01 196.2 L37.1 196.18 L37.19 196.16 L37.27 196.13 L37.36 196.11 L37.45 196.09 L37.54 196.07 L37.62 196.05 L37.71 196.03 L37.8 196.01 L37.88 195.99 L37.97 195.97 L38.06 195.96 L38.14 195.94 L38.23 195.92 L38.32 195.9 L38.4 195.88 L38.49 195.87 L38.58 195.85 L38.66 195.83 L38.75 195.82 L38.84 195.8 L38.92 195.79 L38.92 195.79 L40.58 195.51 L42.23 195.29 L43.88 195.09 L45.53 194.92 L47.18 194.75 L48.83 194.59 L50.48 194.45 L52.13 194.3 L53.78 194.16 L55.43 194.03 L57.08 193.9 L58.73 193.77 L60.38 193.64 L62.03 193.51 L63.68 193.39 L65.33 193.26 L66.98 193.14 L68.63 193.02 L70.28 192.9 L71.93 192.78 L73.58 192.66 L75.23 192.54 L76.88 192.42 L78.54 192.3 L80.19 192.18 L81.84 192.06 L83.49 191.95 L85.14 191.83 L86.79 191.71 L88.44 191.59 L90.09 191.48 L91.74 191.36 L93.39 191.25 L95.04 191.13 L96.69 191.01 L98.34 190.9 L99.99 190.78 L101.64 190.67 L103.29 190.55 L104.94 190.44 L106.59 190.32 L108.24 190.21 L109.89 190.09 L111.54 189.98 L113.19 189.86 L114.84 189.75 L116.49 189.63 L118.15 189.52 L119.8 189.4 L121.45 189.29 L123.1 189.17 L124.75 189.06 L126.4 188.95 L128.05 188.83 L129.7 188.72 L131.35 188.6 L133 188.49 L134.65 188.38 L136.3 188.26" stroke="#111" stroke-width="0.9" fill="none"/>
<circle cx="33.8" cy="197.2" r="1.45" fill="#fff" stroke="#111" stroke-width="0.8"/>
<circle cx="34.82" cy="196.7" r="1.45" fill="#fff" stroke="#111" stroke-width="0.8"/>
<circle cx="36.36" cy="196.2" r="1.45" fill="#fff" stroke="#111" stroke-width="0.8"/>
<circle cx="38.21" cy="195.5" r="1.45" fill="#fff" stroke="#111" stroke-width="0.8"/>
<circle cx="44.36" cy="194.4" r="1.45" fill="#fff" stroke="#111" stroke-width="0.8"/>
<circle cx="54.3" cy="193.69" r="1.45" fill="#fff" stroke="#111" stroke-width="0.8"/>
<circle cx="64.65" cy="193.29" r="1.45" fill="#fff" stroke="#111" stroke-width="0.8"/>
<circle cx="84.95" cy="191.79" r="1.45" fill="#fff" stroke="#111" stroke-width="0.8"/>
<circle cx="110.47" cy="190.39" r="1.45" fill="#fff" stroke="#111" stroke-width="0.8"/>
<circle cx="136.2" cy="188.69" r="1.45" fill="#fff" stroke="#111" stroke-width="0.8"/>
<circle cx="33.8" cy="191.79" r="1.75" fill="#000"/>
<circle cx="33.9" cy="189.19" r="1.75" fill="#000"/>
<circle cx="34" cy="185.38" r="1.75" fill="#000"/>
<circle cx="34.31" cy="179.78" r="1.75" fill="#000"/>
<circle cx="34.82" cy="177.98" r="1.75" fill="#000"/>
<circle cx="35.85" cy="176.67" r="1.75" fill="#000"/>
<circle cx="36.88" cy="175.27" r="1.75" fill="#000"/>
<circle cx="39.13" cy="173.07" r="1.75" fill="#000"/>
<circle cx="44.36" cy="170.27" r="1.75" fill="#000"/>
<circle cx="54.3" cy="162.36" r="1.75" fill="#000"/>
<circle cx="64.65" cy="164.76" r="1.75" fill="#000"/>
<circle cx="84.95" cy="155.55" r="1.75" fill="#000"/>
<circle cx="110.47" cy="154.05" r="1.75" fill="#000"/>
<circle cx="136.2" cy="153.14" r="1.75" fill="#000"/>
<line x1="197.5" y1="117.6" x2="308.6" y2="117.6" stroke="#666" stroke-width="1"/>
<line x1="308.6" y1="117.6" x2="308.6" y2="198.1" stroke="#333" stroke-width="1"/>
<line x1="195.7" y1="198.1" x2="199.8" y2="198.1" stroke="#222" stroke-width="0.9"/>
<line x1="195.7" y1="196.09" x2="197.5" y2="196.09" stroke="#333" stroke-width="0.85"/>
<line x1="195.7" y1="194.07" x2="197.5" y2="194.07" stroke="#333" stroke-width="0.85"/>
<line x1="195.7" y1="192.06" x2="197.5" y2="192.06" stroke="#333" stroke-width="0.85"/>
<line x1="195.7" y1="190.05" x2="197.5" y2="190.05" stroke="#333" stroke-width="0.85"/>
<line x1="195.7" y1="188.04" x2="199.8" y2="188.04" stroke="#222" stroke-width="0.9"/>
<line x1="195.7" y1="186.03" x2="197.5" y2="186.03" stroke="#333" stroke-width="0.85"/>
<line x1="195.7" y1="184.01" x2="197.5" y2="184.01" stroke="#333" stroke-width="0.85"/>
<line x1="195.7" y1="182" x2="197.5" y2="182" stroke="#333" stroke-width="0.85"/>
<line x1="195.7" y1="179.99" x2="197.5" y2="179.99" stroke="#333" stroke-width="0.85"/>
<line x1="195.7" y1="177.97" x2="199.8" y2="177.97" stroke="#222" stroke-width="0.9"/>
<line x1="195.7" y1="175.96" x2="197.5" y2="175.96" stroke="#333" stroke-width="0.85"/>
<line x1="195.7" y1="173.95" x2="197.5" y2="173.95" stroke="#333" stroke-width="0.85"/>
<line x1="195.7" y1="171.94" x2="197.5" y2="171.94" stroke="#333" stroke-width="0.85"/>
<line x1="195.7" y1="169.92" x2="197.5" y2="169.92" stroke="#333" stroke-width="0.85"/>
<line x1="195.7" y1="167.91" x2="199.8" y2="167.91" stroke="#222" stroke-width="0.9"/>
<line x1="195.7" y1="165.9" x2="197.5" y2="165.9" stroke="#333" stroke-width="0.85"/>
<line x1="195.7" y1="163.89" x2="197.5" y2="163.89" stroke="#333" stroke-width="0.85"/>
<line x1="195.7" y1="161.88" x2="197.5" y2="161.88" stroke="#333" stroke-width="0.85"/>
<line x1="195.7" y1="159.86" x2="197.5" y2="159.86" stroke="#333" stroke-width="0.85"/>
<line x1="195.7" y1="157.85" x2="199.8" y2="157.85" stroke="#222" stroke-width="0.9"/>
<line x1="195.7" y1="155.84" x2="197.5" y2="155.84" stroke="#333" stroke-width="0.85"/>
<line x1="195.7" y1="153.82" x2="197.5" y2="153.82" stroke="#333" stroke-width="0.85"/>
<line x1="195.7" y1="151.81" x2="197.5" y2="151.81" stroke="#333" stroke-width="0.85"/>
<line x1="195.7" y1="149.8" x2="197.5" y2="149.8" stroke="#333" stroke-width="0.85"/>
<line x1="195.7" y1="147.79" x2="199.8" y2="147.79" stroke="#222" stroke-width="0.9"/>
<line x1="195.7" y1="145.77" x2="197.5" y2="145.77" stroke="#333" stroke-width="0.85"/>
<line x1="195.7" y1="143.76" x2="197.5" y2="143.76" stroke="#333" stroke-width="0.85"/>
<line x1="195.7" y1="141.75" x2="197.5" y2="141.75" stroke="#333" stroke-width="0.85"/>
<line x1="195.7" y1="139.74" x2="197.5" y2="139.74" stroke="#333" stroke-width="0.85"/>
<line x1="195.7" y1="137.72" x2="199.8" y2="137.72" stroke="#222" stroke-width="0.9"/>
<line x1="195.7" y1="135.71" x2="197.5" y2="135.71" stroke="#333" stroke-width="0.85"/>
<line x1="195.7" y1="133.7" x2="197.5" y2="133.7" stroke="#333" stroke-width="0.85"/>
<line x1="195.7" y1="131.69" x2="197.5" y2="131.69" stroke="#333" stroke-width="0.85"/>
<line x1="195.7" y1="129.67" x2="197.5" y2="129.67" stroke="#333" stroke-width="0.85"/>
<line x1="195.7" y1="127.66" x2="199.8" y2="127.66" stroke="#222" stroke-width="0.9"/>
<line x1="195.7" y1="125.65" x2="197.5" y2="125.65" stroke="#333" stroke-width="0.85"/>
<line x1="195.7" y1="123.64" x2="197.5" y2="123.64" stroke="#333" stroke-width="0.85"/>
<line x1="195.7" y1="121.62" x2="197.5" y2="121.62" stroke="#333" stroke-width="0.85"/>
<line x1="195.7" y1="119.61" x2="197.5" y2="119.61" stroke="#333" stroke-width="0.85"/>
<line x1="195.7" y1="117.6" x2="199.8" y2="117.6" stroke="#222" stroke-width="0.9"/>
<line x1="197.5" y1="195.9" x2="197.5" y2="200.3" stroke="#222" stroke-width="0.8"/>
<line x1="207.6" y1="198.1" x2="207.6" y2="199.7" stroke="#222" stroke-width="0.8"/>
<line x1="217.7" y1="198.1" x2="217.7" y2="199.7" stroke="#222" stroke-width="0.8"/>
<line x1="227.8" y1="198.1" x2="227.8" y2="199.7" stroke="#222" stroke-width="0.8"/>
<line x1="237.9" y1="198.1" x2="237.9" y2="199.7" stroke="#222" stroke-width="0.8"/>
<line x1="248" y1="195.9" x2="248" y2="200.3" stroke="#222" stroke-width="0.8"/>
<line x1="258.1" y1="198.1" x2="258.1" y2="199.7" stroke="#222" stroke-width="0.8"/>
<line x1="268.2" y1="198.1" x2="268.2" y2="199.7" stroke="#222" stroke-width="0.8"/>
<line x1="278.3" y1="198.1" x2="278.3" y2="199.7" stroke="#222" stroke-width="0.8"/>
<line x1="288.4" y1="198.1" x2="288.4" y2="199.7" stroke="#222" stroke-width="0.8"/>
<line x1="298.5" y1="195.9" x2="298.5" y2="200.3" stroke="#222" stroke-width="0.8"/>
<line x1="197.5" y1="117.6" x2="197.5" y2="198.6" stroke="#222" stroke-width="1.1"/>
<line x1="197" y1="198.1" x2="309.1" y2="198.1" stroke="#222" stroke-width="1.1"/>
<text x="191.6" y="200.4" font-size="7.3" text-anchor="end" font-weight="normal" fill="#000">0</text>
<text x="191.6" y="190.34" font-size="7.3" text-anchor="end" font-weight="normal" fill="#000">0.01</text>
<text x="191.6" y="180.28" font-size="7.3" text-anchor="end" font-weight="normal" fill="#000">0.02</text>
<text x="191.6" y="170.21" font-size="7.3" text-anchor="end" font-weight="normal" fill="#000">0.03</text>
<text x="191.6" y="160.15" font-size="7.3" text-anchor="end" font-weight="normal" fill="#000">0.04</text>
<text x="191.6" y="150.09" font-size="7.3" text-anchor="end" font-weight="normal" fill="#000">0.05</text>
<text x="191.6" y="140.03" font-size="7.3" text-anchor="end" font-weight="normal" fill="#000">0.06</text>
<text x="191.6" y="129.96" font-size="7.3" text-anchor="end" font-weight="normal" fill="#000">0.07</text>
<text x="191.6" y="119.9" font-size="7.3" text-anchor="end" font-weight="normal" fill="#000">0.08</text>
<text x="197.5" y="209.8" font-size="7.3" text-anchor="middle" font-weight="normal" fill="#000">0</text>
<text x="248" y="209.8" font-size="7.3" text-anchor="middle" font-weight="normal" fill="#000">500</text>
<text x="298.5" y="209.8" font-size="7.3" text-anchor="middle" font-weight="normal" fill="#000">1000</text>
<text x="253.05" y="217.1" font-size="7.2" text-anchor="middle" font-weight="normal" fill="#000">Ascorbate (µM)</text>
<text transform="translate(172 179) rotate(-90)" font-size="8" fill="#000">k<tspan font-size="5.6" dy="1.8">obs</tspan><tspan dy="-1.8"> (s</tspan><tspan font-size="5.6" dy="-3">-1</tspan><tspan dy="3">)</tspan></text>
<text x="206" y="137.4" font-size="11" text-anchor="start" font-weight="bold" fill="#000">d</text>
<path d="M197.5 198.1 L197.59 196.89 L197.67 195.76 L197.76 194.69 L197.84 193.69 L197.93 192.75 L198.01 191.86 L198.1 191.01 L198.18 190.21 L198.27 189.46 L198.36 188.73 L198.44 188.05 L198.53 187.39 L198.61 186.77 L198.7 186.17 L198.78 185.61 L198.87 185.06 L198.96 184.54 L199.04 184.04 L199.13 183.56 L199.21 183.09 L199.3 182.65 L199.38 182.22 L199.47 181.81 L199.55 181.41 L199.64 181.03 L199.73 180.66 L199.81 180.3 L199.9 179.96 L199.98 179.62 L200.07 179.3 L200.15 178.99 L200.24 178.69 L200.32 178.39 L200.41 178.11 L200.5 177.83 L200.58 177.56 L200.67 177.3 L200.75 177.05 L200.84 176.8 L200.92 176.56 L201.01 176.33 L201.09 176.1 L201.18 175.88 L201.27 175.66 L201.35 175.45 L201.44 175.24 L201.52 175.04 L201.61 174.85 L201.69 174.66 L201.78 174.47 L201.87 174.29 L201.95 174.11 L202.04 173.94 L202.12 173.76 L202.21 173.6 L202.29 173.43 L202.38 173.28 L202.46 173.12 L202.55 172.97 L202.55 172.97 L204.18 170.55 L205.8 168.77 L207.43 167.39 L209.06 166.26 L210.68 165.31 L212.31 164.49 L213.93 163.76 L215.56 163.1 L217.19 162.5 L218.81 161.94 L220.44 161.42 L222.07 160.93 L223.69 160.47 L225.32 160.02 L226.94 159.59 L228.57 159.18 L230.2 158.78 L231.82 158.39 L233.45 158.01 L235.08 157.64 L236.7 157.28 L238.33 156.92 L239.95 156.57 L241.58 156.23 L243.21 155.88 L244.83 155.55 L246.46 155.22 L248.09 154.89 L249.71 154.56 L251.34 154.24 L252.96 153.92 L254.59 153.6 L256.22 153.29 L257.84 152.98 L259.47 152.67 L261.1 152.36 L262.72 152.05 L264.35 151.74 L265.97 151.44 L267.6 151.14 L269.23 150.84 L270.85 150.54 L272.48 150.24 L274.11 149.94 L275.73 149.64 L277.36 149.34 L278.98 149.05 L280.61 148.75 L282.24 148.46 L283.86 148.17 L285.49 147.87 L287.12 147.58 L288.74 147.29 L290.37 147 L291.99 146.71 L293.62 146.42 L295.25 146.13 L296.87 145.84 L298.5 145.56" stroke="#111" stroke-width="0.9" fill="none"/>
<path d="M197.5 198.1 L197.59 198.02 L197.67 197.94 L197.76 197.86 L197.84 197.79 L197.93 197.72 L198.01 197.65 L198.1 197.59 L198.18 197.52 L198.27 197.46 L198.36 197.4 L198.44 197.34 L198.53 197.28 L198.61 197.23 L198.7 197.17 L198.78 197.12 L198.87 197.07 L198.96 197.02 L199.04 196.97 L199.13 196.93 L199.21 196.88 L199.3 196.84 L199.38 196.79 L199.47 196.75 L199.55 196.71 L199.64 196.67 L199.73 196.63 L199.81 196.59 L199.9 196.55 L199.98 196.51 L200.07 196.48 L200.15 196.44 L200.24 196.4 L200.32 196.37 L200.41 196.34 L200.5 196.3 L200.58 196.27 L200.67 196.24 L200.75 196.21 L200.84 196.17 L200.92 196.14 L201.01 196.11 L201.09 196.08 L201.18 196.05 L201.27 196.03 L201.35 196 L201.44 195.97 L201.52 195.94 L201.61 195.91 L201.69 195.89 L201.78 195.86 L201.87 195.84 L201.95 195.81 L202.04 195.79 L202.12 195.76 L202.21 195.74 L202.29 195.71 L202.38 195.69 L202.46 195.66 L202.55 195.64 L202.55 195.64 L204.18 195.24 L205.8 194.9 L207.43 194.61 L209.06 194.34 L210.68 194.09 L212.31 193.86 L213.93 193.64 L215.56 193.42 L217.19 193.22 L218.81 193.02 L220.44 192.82 L222.07 192.63 L223.69 192.44 L225.32 192.25 L226.94 192.07 L228.57 191.89 L230.2 191.71 L231.82 191.53 L233.45 191.35 L235.08 191.18 L236.7 191 L238.33 190.83 L239.95 190.65 L241.58 190.48 L243.21 190.31 L244.83 190.14 L246.46 189.97 L248.09 189.8 L249.71 189.63 L251.34 189.46 L252.96 189.29 L254.59 189.12 L256.22 188.95 L257.84 188.79 L259.47 188.62 L261.1 188.45 L262.72 188.29 L264.35 188.12 L265.97 187.95 L267.6 187.79 L269.23 187.62 L270.85 187.45 L272.48 187.29 L274.11 187.12 L275.73 186.96 L277.36 186.79 L278.98 186.63 L280.61 186.46 L282.24 186.3 L283.86 186.13 L285.49 185.97 L287.12 185.8 L288.74 185.64 L290.37 185.47 L291.99 185.31 L293.62 185.14 L295.25 184.98 L296.87 184.82 L298.5 184.65" stroke="#111" stroke-width="0.9" fill="none"/>
<circle cx="197.5" cy="197.09" r="1.45" fill="#fff" stroke="#111" stroke-width="0.8"/>
<circle cx="198" cy="196.59" r="1.45" fill="#fff" stroke="#111" stroke-width="0.8"/>
<circle cx="199.52" cy="195.58" r="1.45" fill="#fff" stroke="#111" stroke-width="0.8"/>
<circle cx="202.35" cy="194.48" r="1.45" fill="#fff" stroke="#111" stroke-width="0.8"/>
<circle cx="207.3" cy="193.57" r="1.45" fill="#fff" stroke="#111" stroke-width="0.8"/>
<circle cx="217.4" cy="192.77" r="1.45" fill="#fff" stroke="#111" stroke-width="0.8"/>
<circle cx="227.6" cy="191.06" r="1.45" fill="#fff" stroke="#111" stroke-width="0.8"/>
<circle cx="247.5" cy="188.64" r="1.45" fill="#fff" stroke="#111" stroke-width="0.8"/>
<circle cx="273.05" cy="185.82" r="1.45" fill="#fff" stroke="#111" stroke-width="0.8"/>
<circle cx="298.5" cy="185.52" r="1.45" fill="#fff" stroke="#111" stroke-width="0.8"/>
<circle cx="197.5" cy="193.27" r="1.75" fill="#000"/>
<circle cx="197.6" cy="188.44" r="1.75" fill="#000"/>
<circle cx="197.8" cy="183.41" r="1.75" fill="#000"/>
<circle cx="198.31" cy="178.78" r="1.75" fill="#000"/>
<circle cx="199.52" cy="177.87" r="1.75" fill="#000"/>
<circle cx="202.35" cy="173.35" r="1.75" fill="#000"/>
<circle cx="207.3" cy="169.02" r="1.75" fill="#000"/>
<circle cx="217.4" cy="161.47" r="1.75" fill="#000"/>
<circle cx="227.6" cy="159.96" r="1.75" fill="#000"/>
<circle cx="247.5" cy="158.86" r="1.75" fill="#000"/>
<circle cx="273.05" cy="151.31" r="1.75" fill="#000"/>
<line x1="33.7" y1="224.6" x2="146.6" y2="224.6" stroke="#666" stroke-width="1"/>
<line x1="146.6" y1="224.6" x2="146.6" y2="304.6" stroke="#333" stroke-width="1"/>
<line x1="31.9" y1="304.6" x2="36" y2="304.6" stroke="#222" stroke-width="0.9"/>
<line x1="31.9" y1="302.6" x2="33.7" y2="302.6" stroke="#333" stroke-width="0.85"/>
<line x1="31.9" y1="300.6" x2="33.7" y2="300.6" stroke="#333" stroke-width="0.85"/>
<line x1="31.9" y1="298.6" x2="33.7" y2="298.6" stroke="#333" stroke-width="0.85"/>
<line x1="31.9" y1="296.6" x2="33.7" y2="296.6" stroke="#333" stroke-width="0.85"/>
<line x1="31.9" y1="294.6" x2="36" y2="294.6" stroke="#222" stroke-width="0.9"/>
<line x1="31.9" y1="292.6" x2="33.7" y2="292.6" stroke="#333" stroke-width="0.85"/>
<line x1="31.9" y1="290.6" x2="33.7" y2="290.6" stroke="#333" stroke-width="0.85"/>
<line x1="31.9" y1="288.6" x2="33.7" y2="288.6" stroke="#333" stroke-width="0.85"/>
<line x1="31.9" y1="286.6" x2="33.7" y2="286.6" stroke="#333" stroke-width="0.85"/>
<line x1="31.9" y1="284.6" x2="36" y2="284.6" stroke="#222" stroke-width="0.9"/>
<line x1="31.9" y1="282.6" x2="33.7" y2="282.6" stroke="#333" stroke-width="0.85"/>
<line x1="31.9" y1="280.6" x2="33.7" y2="280.6" stroke="#333" stroke-width="0.85"/>
<line x1="31.9" y1="278.6" x2="33.7" y2="278.6" stroke="#333" stroke-width="0.85"/>
<line x1="31.9" y1="276.6" x2="33.7" y2="276.6" stroke="#333" stroke-width="0.85"/>
<line x1="31.9" y1="274.6" x2="36" y2="274.6" stroke="#222" stroke-width="0.9"/>
<line x1="31.9" y1="272.6" x2="33.7" y2="272.6" stroke="#333" stroke-width="0.85"/>
<line x1="31.9" y1="270.6" x2="33.7" y2="270.6" stroke="#333" stroke-width="0.85"/>
<line x1="31.9" y1="268.6" x2="33.7" y2="268.6" stroke="#333" stroke-width="0.85"/>
<line x1="31.9" y1="266.6" x2="33.7" y2="266.6" stroke="#333" stroke-width="0.85"/>
<line x1="31.9" y1="264.6" x2="36" y2="264.6" stroke="#222" stroke-width="0.9"/>
<line x1="31.9" y1="262.6" x2="33.7" y2="262.6" stroke="#333" stroke-width="0.85"/>
<line x1="31.9" y1="260.6" x2="33.7" y2="260.6" stroke="#333" stroke-width="0.85"/>
<line x1="31.9" y1="258.6" x2="33.7" y2="258.6" stroke="#333" stroke-width="0.85"/>
<line x1="31.9" y1="256.6" x2="33.7" y2="256.6" stroke="#333" stroke-width="0.85"/>
<line x1="31.9" y1="254.6" x2="36" y2="254.6" stroke="#222" stroke-width="0.9"/>
<line x1="31.9" y1="252.6" x2="33.7" y2="252.6" stroke="#333" stroke-width="0.85"/>
<line x1="31.9" y1="250.6" x2="33.7" y2="250.6" stroke="#333" stroke-width="0.85"/>
<line x1="31.9" y1="248.6" x2="33.7" y2="248.6" stroke="#333" stroke-width="0.85"/>
<line x1="31.9" y1="246.6" x2="33.7" y2="246.6" stroke="#333" stroke-width="0.85"/>
<line x1="31.9" y1="244.6" x2="36" y2="244.6" stroke="#222" stroke-width="0.9"/>
<line x1="31.9" y1="242.6" x2="33.7" y2="242.6" stroke="#333" stroke-width="0.85"/>
<line x1="31.9" y1="240.6" x2="33.7" y2="240.6" stroke="#333" stroke-width="0.85"/>
<line x1="31.9" y1="238.6" x2="33.7" y2="238.6" stroke="#333" stroke-width="0.85"/>
<line x1="31.9" y1="236.6" x2="33.7" y2="236.6" stroke="#333" stroke-width="0.85"/>
<line x1="31.9" y1="234.6" x2="36" y2="234.6" stroke="#222" stroke-width="0.9"/>
<line x1="31.9" y1="232.6" x2="33.7" y2="232.6" stroke="#333" stroke-width="0.85"/>
<line x1="31.9" y1="230.6" x2="33.7" y2="230.6" stroke="#333" stroke-width="0.85"/>
<line x1="31.9" y1="228.6" x2="33.7" y2="228.6" stroke="#333" stroke-width="0.85"/>
<line x1="31.9" y1="226.6" x2="33.7" y2="226.6" stroke="#333" stroke-width="0.85"/>
<line x1="31.9" y1="224.6" x2="36" y2="224.6" stroke="#222" stroke-width="0.9"/>
<line x1="33.7" y1="302.4" x2="33.7" y2="306.8" stroke="#222" stroke-width="0.8"/>
<line x1="43.94" y1="304.6" x2="43.94" y2="306.2" stroke="#222" stroke-width="0.8"/>
<line x1="54.18" y1="304.6" x2="54.18" y2="306.2" stroke="#222" stroke-width="0.8"/>
<line x1="64.42" y1="304.6" x2="64.42" y2="306.2" stroke="#222" stroke-width="0.8"/>
<line x1="74.66" y1="304.6" x2="74.66" y2="306.2" stroke="#222" stroke-width="0.8"/>
<line x1="84.9" y1="302.4" x2="84.9" y2="306.8" stroke="#222" stroke-width="0.8"/>
<line x1="95.14" y1="304.6" x2="95.14" y2="306.2" stroke="#222" stroke-width="0.8"/>
<line x1="105.38" y1="304.6" x2="105.38" y2="306.2" stroke="#222" stroke-width="0.8"/>
<line x1="115.62" y1="304.6" x2="115.62" y2="306.2" stroke="#222" stroke-width="0.8"/>
<line x1="125.86" y1="304.6" x2="125.86" y2="306.2" stroke="#222" stroke-width="0.8"/>
<line x1="136.1" y1="302.4" x2="136.1" y2="306.8" stroke="#222" stroke-width="0.8"/>
<line x1="33.7" y1="224.6" x2="33.7" y2="305.1" stroke="#222" stroke-width="1.1"/>
<line x1="33.2" y1="304.6" x2="147.1" y2="304.6" stroke="#222" stroke-width="1.1"/>
<text x="27.8" y="306.9" font-size="7.3" text-anchor="end" font-weight="normal" fill="#000">0</text>
<text x="27.8" y="296.9" font-size="7.3" text-anchor="end" font-weight="normal" fill="#000">0.01</text>
<text x="27.8" y="286.9" font-size="7.3" text-anchor="end" font-weight="normal" fill="#000">0.02</text>
<text x="27.8" y="276.9" font-size="7.3" text-anchor="end" font-weight="normal" fill="#000">0.03</text>
<text x="27.8" y="266.9" font-size="7.3" text-anchor="end" font-weight="normal" fill="#000">0.04</text>
<text x="27.8" y="256.9" font-size="7.3" text-anchor="end" font-weight="normal" fill="#000">0.05</text>
<text x="27.8" y="246.9" font-size="7.3" text-anchor="end" font-weight="normal" fill="#000">0.06</text>
<text x="27.8" y="236.9" font-size="7.3" text-anchor="end" font-weight="normal" fill="#000">0.07</text>
<text x="27.8" y="226.9" font-size="7.3" text-anchor="end" font-weight="normal" fill="#000">0.08</text>
<text x="33.7" y="316.3" font-size="7.3" text-anchor="middle" font-weight="normal" fill="#000">0</text>
<text x="84.9" y="316.3" font-size="7.3" text-anchor="middle" font-weight="normal" fill="#000">500</text>
<text x="136.1" y="316.3" font-size="7.3" text-anchor="middle" font-weight="normal" fill="#000">1000</text>
<text x="90.15" y="323.6" font-size="7.2" text-anchor="middle" font-weight="normal" fill="#000">Ascorbate (µM)</text>
<text transform="translate(9.8 286) rotate(-90)" font-size="8" fill="#000">k<tspan font-size="5.6" dy="1.8">obs</tspan><tspan dy="-1.8"> (s</tspan><tspan font-size="5.6" dy="-3">-1</tspan><tspan dy="3">)</tspan></text>
<text x="45.7" y="243.1" font-size="11" text-anchor="start" font-weight="bold" fill="#000">e</text>
<path d="M33.7 304.6 L33.79 300.23 L33.87 296.96 L33.96 294.42 L34.05 292.39 L34.13 290.73 L34.22 289.34 L34.31 288.17 L34.39 287.16 L34.48 286.28 L34.57 285.51 L34.65 284.83 L34.74 284.23 L34.83 283.68 L34.91 283.19 L35 282.74 L35.09 282.33 L35.18 281.96 L35.26 281.61 L35.35 281.29 L35.44 281 L35.52 280.72 L35.61 280.46 L35.7 280.22 L35.78 280 L35.87 279.78 L35.96 279.58 L36.04 279.39 L36.13 279.21 L36.22 279.04 L36.3 278.88 L36.39 278.72 L36.48 278.57 L36.56 278.43 L36.65 278.3 L36.74 278.17 L36.82 278.04 L36.91 277.92 L37 277.8 L37.08 277.69 L37.17 277.59 L37.26 277.48 L37.34 277.38 L37.43 277.28 L37.52 277.19 L37.61 277.1 L37.69 277.01 L37.78 276.92 L37.87 276.84 L37.95 276.76 L38.04 276.68 L38.13 276.6 L38.21 276.52 L38.3 276.45 L38.39 276.38 L38.47 276.31 L38.56 276.24 L38.65 276.17 L38.73 276.11 L38.82 276.04 L38.82 276.04 L40.47 275.01 L42.12 274.21 L43.77 273.53 L45.42 272.92 L47.06 272.35 L48.71 271.82 L50.36 271.31 L52.01 270.82 L53.66 270.34 L55.31 269.87 L56.96 269.41 L58.61 268.95 L60.25 268.5 L61.9 268.06 L63.55 267.61 L65.2 267.17 L66.85 266.74 L68.5 266.3 L70.15 265.87 L71.8 265.44 L73.45 265.01 L75.09 264.58 L76.74 264.15 L78.39 263.72 L80.04 263.3 L81.69 262.87 L83.34 262.45 L84.99 262.02 L86.64 261.6 L88.28 261.18 L89.93 260.76 L91.58 260.34 L93.23 259.91 L94.88 259.49 L96.53 259.07 L98.18 258.65 L99.83 258.23 L101.47 257.82 L103.12 257.4 L104.77 256.98 L106.42 256.56 L108.07 256.14 L109.72 255.72 L111.37 255.3 L113.02 254.89 L114.67 254.47 L116.31 254.05 L117.96 253.63 L119.61 253.22 L121.26 252.8 L122.91 252.38 L124.56 251.96 L126.21 251.55 L127.86 251.13 L129.5 250.71 L131.15 250.3 L132.8 249.88 L134.45 249.47 L136.1 249.05" stroke="#111" stroke-width="0.9" fill="none"/>
<path d="M33.7 304.6 L33.79 304.59 L33.87 304.58 L33.96 304.58 L34.05 304.57 L34.13 304.56 L34.22 304.55 L34.31 304.54 L34.39 304.53 L34.48 304.53 L34.57 304.52 L34.65 304.51 L34.74 304.5 L34.83 304.49 L34.91 304.48 L35 304.48 L35.09 304.47 L35.18 304.46 L35.26 304.45 L35.35 304.44 L35.44 304.43 L35.52 304.43 L35.61 304.42 L35.7 304.41 L35.78 304.4 L35.87 304.39 L35.96 304.38 L36.04 304.38 L36.13 304.37 L36.22 304.36 L36.3 304.35 L36.39 304.34 L36.48 304.33 L36.56 304.33 L36.65 304.32 L36.74 304.31 L36.82 304.3 L36.91 304.29 L37 304.28 L37.08 304.28 L37.17 304.27 L37.26 304.26 L37.34 304.25 L37.43 304.24 L37.52 304.23 L37.61 304.23 L37.69 304.22 L37.78 304.21 L37.87 304.2 L37.95 304.19 L38.04 304.18 L38.13 304.18 L38.21 304.17 L38.3 304.16 L38.39 304.15 L38.47 304.14 L38.56 304.13 L38.65 304.13 L38.73 304.12 L38.82 304.11 L38.82 304.11 L40.47 303.95 L42.12 303.79 L43.77 303.64 L45.42 303.48 L47.06 303.32 L48.71 303.16 L50.36 303.01 L52.01 302.85 L53.66 302.69 L55.31 302.53 L56.96 302.37 L58.61 302.22 L60.25 302.06 L61.9 301.9 L63.55 301.74 L65.2 301.59 L66.85 301.43 L68.5 301.27 L70.15 301.11 L71.8 300.95 L73.45 300.8 L75.09 300.64 L76.74 300.48 L78.39 300.32 L80.04 300.17 L81.69 300.01 L83.34 299.85 L84.99 299.69 L86.64 299.53 L88.28 299.38 L89.93 299.22 L91.58 299.06 L93.23 298.9 L94.88 298.74 L96.53 298.59 L98.18 298.43 L99.83 298.27 L101.47 298.11 L103.12 297.96 L104.77 297.8 L106.42 297.64 L108.07 297.48 L109.72 297.32 L111.37 297.17 L113.02 297.01 L114.67 296.85 L116.31 296.69 L117.96 296.54 L119.61 296.38 L121.26 296.22 L122.91 296.06 L124.56 295.9 L126.21 295.75 L127.86 295.59 L129.5 295.43 L131.15 295.27 L132.8 295.12 L134.45 294.96 L136.1 294.8" stroke="#111" stroke-width="0.9" fill="none"/>
<circle cx="33.7" cy="304.4" r="1.45" fill="#fff" stroke="#111" stroke-width="0.8"/>
<circle cx="34.21" cy="304.4" r="1.45" fill="#fff" stroke="#111" stroke-width="0.8"/>
<circle cx="35.24" cy="304.4" r="1.45" fill="#fff" stroke="#111" stroke-width="0.8"/>
<circle cx="36.77" cy="304.4" r="1.45" fill="#fff" stroke="#111" stroke-width="0.8"/>
<circle cx="38.82" cy="304.4" r="1.45" fill="#fff" stroke="#111" stroke-width="0.8"/>
<circle cx="44.35" cy="304" r="1.45" fill="#fff" stroke="#111" stroke-width="0.8"/>
<circle cx="54.38" cy="304.6" r="1.45" fill="#fff" stroke="#111" stroke-width="0.8"/>
<circle cx="64.73" cy="300.7" r="1.45" fill="#fff" stroke="#111" stroke-width="0.8"/>
<circle cx="85" cy="299.8" r="1.45" fill="#fff" stroke="#111" stroke-width="0.8"/>
<circle cx="136.2" cy="293.9" r="1.45" fill="#fff" stroke="#111" stroke-width="0.8"/>
<circle cx="33.7" cy="304" r="1.75" fill="#000"/>
<circle cx="33.8" cy="295.2" r="1.75" fill="#000"/>
<circle cx="33.9" cy="294.2" r="1.75" fill="#000"/>
<circle cx="34.21" cy="289.2" r="1.75" fill="#000"/>
<circle cx="34.72" cy="281.3" r="1.75" fill="#000"/>
<circle cx="35.75" cy="280.4" r="1.75" fill="#000"/>
<circle cx="36.77" cy="278.9" r="1.75" fill="#000"/>
<circle cx="38.31" cy="276.7" r="1.75" fill="#000"/>
<circle cx="44.35" cy="275.2" r="1.75" fill="#000"/>
<circle cx="54.38" cy="269.3" r="1.75" fill="#000"/>
<circle cx="64.73" cy="264.7" r="1.75" fill="#000"/>
<circle cx="85" cy="258.6" r="1.75" fill="#000"/>
<circle cx="136.2" cy="250.5" r="1.75" fill="#000"/>
<line x1="195.3" y1="225.3" x2="308.2" y2="225.3" stroke="#666" stroke-width="1"/>
<line x1="308.2" y1="225.3" x2="308.2" y2="306.3" stroke="#333" stroke-width="1"/>
<line x1="193.5" y1="306.3" x2="197.6" y2="306.3" stroke="#222" stroke-width="0.9"/>
<line x1="193.5" y1="304.28" x2="195.3" y2="304.28" stroke="#333" stroke-width="0.85"/>
<line x1="193.5" y1="302.25" x2="195.3" y2="302.25" stroke="#333" stroke-width="0.85"/>
<line x1="193.5" y1="300.23" x2="195.3" y2="300.23" stroke="#333" stroke-width="0.85"/>
<line x1="193.5" y1="298.2" x2="195.3" y2="298.2" stroke="#333" stroke-width="0.85"/>
<line x1="193.5" y1="296.18" x2="197.6" y2="296.18" stroke="#222" stroke-width="0.9"/>
<line x1="193.5" y1="294.15" x2="195.3" y2="294.15" stroke="#333" stroke-width="0.85"/>
<line x1="193.5" y1="292.12" x2="195.3" y2="292.12" stroke="#333" stroke-width="0.85"/>
<line x1="193.5" y1="290.1" x2="195.3" y2="290.1" stroke="#333" stroke-width="0.85"/>
<line x1="193.5" y1="288.07" x2="195.3" y2="288.07" stroke="#333" stroke-width="0.85"/>
<line x1="193.5" y1="286.05" x2="197.6" y2="286.05" stroke="#222" stroke-width="0.9"/>
<line x1="193.5" y1="284.03" x2="195.3" y2="284.03" stroke="#333" stroke-width="0.85"/>
<line x1="193.5" y1="282" x2="195.3" y2="282" stroke="#333" stroke-width="0.85"/>
<line x1="193.5" y1="279.98" x2="195.3" y2="279.98" stroke="#333" stroke-width="0.85"/>
<line x1="193.5" y1="277.95" x2="195.3" y2="277.95" stroke="#333" stroke-width="0.85"/>
<line x1="193.5" y1="275.93" x2="197.6" y2="275.93" stroke="#222" stroke-width="0.9"/>
<line x1="193.5" y1="273.9" x2="195.3" y2="273.9" stroke="#333" stroke-width="0.85"/>
<line x1="193.5" y1="271.88" x2="195.3" y2="271.88" stroke="#333" stroke-width="0.85"/>
<line x1="193.5" y1="269.85" x2="195.3" y2="269.85" stroke="#333" stroke-width="0.85"/>
<line x1="193.5" y1="267.82" x2="195.3" y2="267.82" stroke="#333" stroke-width="0.85"/>
<line x1="193.5" y1="265.8" x2="197.6" y2="265.8" stroke="#222" stroke-width="0.9"/>
<line x1="193.5" y1="263.77" x2="195.3" y2="263.77" stroke="#333" stroke-width="0.85"/>
<line x1="193.5" y1="261.75" x2="195.3" y2="261.75" stroke="#333" stroke-width="0.85"/>
<line x1="193.5" y1="259.73" x2="195.3" y2="259.73" stroke="#333" stroke-width="0.85"/>
<line x1="193.5" y1="257.7" x2="195.3" y2="257.7" stroke="#333" stroke-width="0.85"/>
<line x1="193.5" y1="255.68" x2="197.6" y2="255.68" stroke="#222" stroke-width="0.9"/>
<line x1="193.5" y1="253.65" x2="195.3" y2="253.65" stroke="#333" stroke-width="0.85"/>
<line x1="193.5" y1="251.62" x2="195.3" y2="251.62" stroke="#333" stroke-width="0.85"/>
<line x1="193.5" y1="249.6" x2="195.3" y2="249.6" stroke="#333" stroke-width="0.85"/>
<line x1="193.5" y1="247.58" x2="195.3" y2="247.58" stroke="#333" stroke-width="0.85"/>
<line x1="193.5" y1="245.55" x2="197.6" y2="245.55" stroke="#222" stroke-width="0.9"/>
<line x1="193.5" y1="243.53" x2="195.3" y2="243.53" stroke="#333" stroke-width="0.85"/>
<line x1="193.5" y1="241.5" x2="195.3" y2="241.5" stroke="#333" stroke-width="0.85"/>
<line x1="193.5" y1="239.48" x2="195.3" y2="239.48" stroke="#333" stroke-width="0.85"/>
<line x1="193.5" y1="237.45" x2="195.3" y2="237.45" stroke="#333" stroke-width="0.85"/>
<line x1="193.5" y1="235.43" x2="197.6" y2="235.43" stroke="#222" stroke-width="0.9"/>
<line x1="193.5" y1="233.4" x2="195.3" y2="233.4" stroke="#333" stroke-width="0.85"/>
<line x1="193.5" y1="231.38" x2="195.3" y2="231.38" stroke="#333" stroke-width="0.85"/>
<line x1="193.5" y1="229.35" x2="195.3" y2="229.35" stroke="#333" stroke-width="0.85"/>
<line x1="193.5" y1="227.33" x2="195.3" y2="227.33" stroke="#333" stroke-width="0.85"/>
<line x1="193.5" y1="225.3" x2="197.6" y2="225.3" stroke="#222" stroke-width="0.9"/>
<line x1="195.3" y1="304.1" x2="195.3" y2="308.5" stroke="#222" stroke-width="0.8"/>
<line x1="205.52" y1="306.3" x2="205.52" y2="307.9" stroke="#222" stroke-width="0.8"/>
<line x1="215.74" y1="306.3" x2="215.74" y2="307.9" stroke="#222" stroke-width="0.8"/>
<line x1="225.96" y1="306.3" x2="225.96" y2="307.9" stroke="#222" stroke-width="0.8"/>
<line x1="236.18" y1="306.3" x2="236.18" y2="307.9" stroke="#222" stroke-width="0.8"/>
<line x1="246.4" y1="304.1" x2="246.4" y2="308.5" stroke="#222" stroke-width="0.8"/>
<line x1="256.62" y1="306.3" x2="256.62" y2="307.9" stroke="#222" stroke-width="0.8"/>
<line x1="266.84" y1="306.3" x2="266.84" y2="307.9" stroke="#222" stroke-width="0.8"/>
<line x1="277.06" y1="306.3" x2="277.06" y2="307.9" stroke="#222" stroke-width="0.8"/>
<line x1="287.28" y1="306.3" x2="287.28" y2="307.9" stroke="#222" stroke-width="0.8"/>
<line x1="297.5" y1="304.1" x2="297.5" y2="308.5" stroke="#222" stroke-width="0.8"/>
<line x1="195.3" y1="225.3" x2="195.3" y2="306.8" stroke="#222" stroke-width="1.1"/>
<line x1="194.8" y1="306.3" x2="308.7" y2="306.3" stroke="#222" stroke-width="1.1"/>
<text x="189.4" y="308.6" font-size="7.3" text-anchor="end" font-weight="normal" fill="#000">0</text>
<text x="189.4" y="298.48" font-size="7.3" text-anchor="end" font-weight="normal" fill="#000">0.01</text>
<text x="189.4" y="288.35" font-size="7.3" text-anchor="end" font-weight="normal" fill="#000">0.02</text>
<text x="189.4" y="278.23" font-size="7.3" text-anchor="end" font-weight="normal" fill="#000">0.03</text>
<text x="189.4" y="268.1" font-size="7.3" text-anchor="end" font-weight="normal" fill="#000">0.04</text>
<text x="189.4" y="257.98" font-size="7.3" text-anchor="end" font-weight="normal" fill="#000">0.05</text>
<text x="189.4" y="247.85" font-size="7.3" text-anchor="end" font-weight="normal" fill="#000">0.06</text>
<text x="189.4" y="237.73" font-size="7.3" text-anchor="end" font-weight="normal" fill="#000">0.07</text>
<text x="189.4" y="227.6" font-size="7.3" text-anchor="end" font-weight="normal" fill="#000">0.08</text>
<text x="195.3" y="318" font-size="7.3" text-anchor="middle" font-weight="normal" fill="#000">0</text>
<text x="246.4" y="318" font-size="7.3" text-anchor="middle" font-weight="normal" fill="#000">500</text>
<text x="297.5" y="318" font-size="7.3" text-anchor="middle" font-weight="normal" fill="#000">1000</text>
<text x="251.75" y="325.3" font-size="7.2" text-anchor="middle" font-weight="normal" fill="#000">Ascorbate (µM)</text>
<text transform="translate(172 287) rotate(-90)" font-size="8" fill="#000">k<tspan font-size="5.6" dy="1.8">obs</tspan><tspan dy="-1.8"> (s</tspan><tspan font-size="5.6" dy="-3">-1</tspan><tspan dy="3">)</tspan></text>
<text x="208.2" y="243" font-size="11" text-anchor="start" font-weight="bold" fill="#000">f</text>
<path d="M195.3 306.3 L195.39 297.33 L195.47 291.59 L195.56 287.6 L195.65 284.67 L195.73 282.42 L195.82 280.64 L195.91 279.2 L195.99 278.01 L196.08 277 L196.17 276.15 L196.25 275.4 L196.34 274.76 L196.43 274.19 L196.51 273.68 L196.6 273.23 L196.69 272.82 L196.77 272.45 L196.86 272.12 L196.95 271.81 L197.03 271.53 L197.12 271.27 L197.21 271.03 L197.29 270.81 L197.38 270.6 L197.47 270.41 L197.55 270.23 L197.64 270.06 L197.73 269.9 L197.81 269.75 L197.9 269.61 L197.98 269.48 L198.07 269.35 L198.16 269.23 L198.24 269.12 L198.33 269.01 L198.42 268.9 L198.5 268.81 L198.59 268.71 L198.68 268.62 L198.76 268.53 L198.85 268.45 L198.94 268.37 L199.02 268.29 L199.11 268.22 L199.2 268.15 L199.28 268.08 L199.37 268.01 L199.46 267.94 L199.54 267.88 L199.63 267.82 L199.72 267.76 L199.8 267.71 L199.89 267.65 L199.98 267.6 L200.06 267.54 L200.15 267.49 L200.24 267.44 L200.32 267.4 L200.41 267.35 L200.41 267.35 L202.06 266.64 L203.7 266.12 L205.35 265.72 L206.99 265.37 L208.64 265.07 L210.28 264.8 L211.93 264.54 L213.57 264.3 L215.22 264.06 L216.87 263.84 L218.51 263.62 L220.16 263.41 L221.8 263.2 L223.45 263 L225.09 262.79 L226.74 262.6 L228.39 262.4 L230.03 262.2 L231.68 262.01 L233.32 261.82 L234.97 261.63 L236.61 261.44 L238.26 261.25 L239.9 261.06 L241.55 260.87 L243.2 260.68 L244.84 260.5 L246.49 260.31 L248.13 260.13 L249.78 259.94 L251.42 259.76 L253.07 259.57 L254.71 259.39 L256.36 259.21 L258.01 259.02 L259.65 258.84 L261.3 258.66 L262.94 258.48 L264.59 258.29 L266.23 258.11 L267.88 257.93 L269.52 257.75 L271.17 257.57 L272.82 257.39 L274.46 257.21 L276.11 257.03 L277.75 256.84 L279.4 256.66 L281.04 256.48 L282.69 256.3 L284.34 256.12 L285.98 255.94 L287.63 255.76 L289.27 255.58 L290.92 255.4 L292.56 255.22 L294.21 255.04 L295.85 254.86 L297.5 254.68" stroke="#111" stroke-width="0.9" fill="none"/>
<path d="M195.3 306.3 L195.39 304.34 L195.47 302.96 L195.56 301.94 L195.65 301.14 L195.73 300.51 L195.82 299.99 L195.91 299.56 L195.99 299.2 L196.08 298.89 L196.17 298.61 L196.25 298.37 L196.34 298.16 L196.43 297.97 L196.51 297.8 L196.6 297.65 L196.69 297.51 L196.77 297.38 L196.86 297.26 L196.95 297.15 L197.03 297.05 L197.12 296.95 L197.21 296.87 L197.29 296.78 L197.38 296.7 L197.47 296.63 L197.55 296.56 L197.64 296.5 L197.73 296.43 L197.81 296.37 L197.9 296.32 L197.98 296.26 L198.07 296.21 L198.16 296.16 L198.24 296.11 L198.33 296.07 L198.42 296.02 L198.5 295.98 L198.59 295.94 L198.68 295.9 L198.76 295.86 L198.85 295.82 L198.94 295.78 L199.02 295.75 L199.11 295.71 L199.2 295.68 L199.28 295.65 L199.37 295.61 L199.46 295.58 L199.54 295.55 L199.63 295.52 L199.72 295.49 L199.8 295.46 L199.89 295.44 L199.98 295.41 L200.06 295.38 L200.15 295.36 L200.24 295.33 L200.32 295.3 L200.41 295.28 L200.41 295.28 L202.06 294.86 L203.7 294.51 L205.35 294.2 L206.99 293.92 L208.64 293.64 L210.28 293.38 L211.93 293.12 L213.57 292.87 L215.22 292.62 L216.87 292.38 L218.51 292.14 L220.16 291.9 L221.8 291.66 L223.45 291.42 L225.09 291.18 L226.74 290.94 L228.39 290.71 L230.03 290.47 L231.68 290.24 L233.32 290.01 L234.97 289.77 L236.61 289.54 L238.26 289.31 L239.9 289.08 L241.55 288.85 L243.2 288.61 L244.84 288.38 L246.49 288.15 L248.13 287.92 L249.78 287.69 L251.42 287.46 L253.07 287.23 L254.71 287 L256.36 286.77 L258.01 286.54 L259.65 286.31 L261.3 286.08 L262.94 285.85 L264.59 285.62 L266.23 285.39 L267.88 285.16 L269.52 284.93 L271.17 284.7 L272.82 284.47 L274.46 284.24 L276.11 284.01 L277.75 283.78 L279.4 283.55 L281.04 283.32 L282.69 283.09 L284.34 282.86 L285.98 282.64 L287.63 282.41 L289.27 282.18 L290.92 281.95 L292.56 281.72 L294.21 281.49 L295.85 281.26 L297.5 281.03" stroke="#111" stroke-width="0.9" fill="none"/>
<circle cx="195.3" cy="303.26" r="1.45" fill="#fff" stroke="#111" stroke-width="0.8"/>
<circle cx="195.4" cy="300.73" r="1.45" fill="#fff" stroke="#111" stroke-width="0.8"/>
<circle cx="195.61" cy="298.2" r="1.45" fill="#fff" stroke="#111" stroke-width="0.8"/>
<circle cx="199.39" cy="295.77" r="1.45" fill="#fff" stroke="#111" stroke-width="0.8"/>
<circle cx="205.32" cy="291.52" r="1.45" fill="#fff" stroke="#111" stroke-width="0.8"/>
<circle cx="215.64" cy="290.61" r="1.45" fill="#fff" stroke="#111" stroke-width="0.8"/>
<circle cx="225.76" cy="291.52" r="1.45" fill="#fff" stroke="#111" stroke-width="0.8"/>
<circle cx="246.5" cy="289.69" r="1.45" fill="#fff" stroke="#111" stroke-width="0.8"/>
<circle cx="271.95" cy="288.78" r="1.45" fill="#fff" stroke="#111" stroke-width="0.8"/>
<circle cx="297.6" cy="278.56" r="1.45" fill="#fff" stroke="#111" stroke-width="0.8"/>
<circle cx="195.3" cy="296.18" r="1.75" fill="#000"/>
<circle cx="195.5" cy="283.62" r="1.75" fill="#000"/>
<circle cx="198.47" cy="270.25" r="1.75" fill="#000"/>
<circle cx="200.31" cy="268.13" r="1.75" fill="#000"/>
<circle cx="205.32" cy="268.13" r="1.75" fill="#000"/>
<circle cx="215.64" cy="260.54" r="1.75" fill="#000"/>
<circle cx="225.76" cy="257.7" r="1.75" fill="#000"/>
<circle cx="246.5" cy="264.38" r="1.75" fill="#000"/>
<circle cx="271.95" cy="256.79" r="1.75" fill="#000"/>
<circle cx="297.6" cy="254.97" r="1.75" fill="#000"/>
<line x1="194.7" y1="333.6" x2="306.5" y2="333.6" stroke="#666" stroke-width="1"/>
<line x1="306.5" y1="333.6" x2="306.5" y2="414.4" stroke="#333" stroke-width="1"/>
<line x1="192.9" y1="414.4" x2="197" y2="414.4" stroke="#222" stroke-width="0.9"/>
<line x1="192.9" y1="412.38" x2="194.7" y2="412.38" stroke="#333" stroke-width="0.85"/>
<line x1="192.9" y1="410.36" x2="194.7" y2="410.36" stroke="#333" stroke-width="0.85"/>
<line x1="192.9" y1="408.34" x2="194.7" y2="408.34" stroke="#333" stroke-width="0.85"/>
<line x1="192.9" y1="406.32" x2="194.7" y2="406.32" stroke="#333" stroke-width="0.85"/>
<line x1="192.9" y1="404.3" x2="197" y2="404.3" stroke="#222" stroke-width="0.9"/>
<line x1="192.9" y1="402.28" x2="194.7" y2="402.28" stroke="#333" stroke-width="0.85"/>
<line x1="192.9" y1="400.26" x2="194.7" y2="400.26" stroke="#333" stroke-width="0.85"/>
<line x1="192.9" y1="398.24" x2="194.7" y2="398.24" stroke="#333" stroke-width="0.85"/>
<line x1="192.9" y1="396.22" x2="194.7" y2="396.22" stroke="#333" stroke-width="0.85"/>
<line x1="192.9" y1="394.2" x2="197" y2="394.2" stroke="#222" stroke-width="0.9"/>
<line x1="192.9" y1="392.18" x2="194.7" y2="392.18" stroke="#333" stroke-width="0.85"/>
<line x1="192.9" y1="390.16" x2="194.7" y2="390.16" stroke="#333" stroke-width="0.85"/>
<line x1="192.9" y1="388.14" x2="194.7" y2="388.14" stroke="#333" stroke-width="0.85"/>
<line x1="192.9" y1="386.12" x2="194.7" y2="386.12" stroke="#333" stroke-width="0.85"/>
<line x1="192.9" y1="384.1" x2="197" y2="384.1" stroke="#222" stroke-width="0.9"/>
<line x1="192.9" y1="382.08" x2="194.7" y2="382.08" stroke="#333" stroke-width="0.85"/>
<line x1="192.9" y1="380.06" x2="194.7" y2="380.06" stroke="#333" stroke-width="0.85"/>
<line x1="192.9" y1="378.04" x2="194.7" y2="378.04" stroke="#333" stroke-width="0.85"/>
<line x1="192.9" y1="376.02" x2="194.7" y2="376.02" stroke="#333" stroke-width="0.85"/>
<line x1="192.9" y1="374" x2="197" y2="374" stroke="#222" stroke-width="0.9"/>
<line x1="192.9" y1="371.98" x2="194.7" y2="371.98" stroke="#333" stroke-width="0.85"/>
<line x1="192.9" y1="369.96" x2="194.7" y2="369.96" stroke="#333" stroke-width="0.85"/>
<line x1="192.9" y1="367.94" x2="194.7" y2="367.94" stroke="#333" stroke-width="0.85"/>
<line x1="192.9" y1="365.92" x2="194.7" y2="365.92" stroke="#333" stroke-width="0.85"/>
<line x1="192.9" y1="363.9" x2="197" y2="363.9" stroke="#222" stroke-width="0.9"/>
<line x1="192.9" y1="361.88" x2="194.7" y2="361.88" stroke="#333" stroke-width="0.85"/>
<line x1="192.9" y1="359.86" x2="194.7" y2="359.86" stroke="#333" stroke-width="0.85"/>
<line x1="192.9" y1="357.84" x2="194.7" y2="357.84" stroke="#333" stroke-width="0.85"/>
<line x1="192.9" y1="355.82" x2="194.7" y2="355.82" stroke="#333" stroke-width="0.85"/>
<line x1="192.9" y1="353.8" x2="197" y2="353.8" stroke="#222" stroke-width="0.9"/>
<line x1="192.9" y1="351.78" x2="194.7" y2="351.78" stroke="#333" stroke-width="0.85"/>
<line x1="192.9" y1="349.76" x2="194.7" y2="349.76" stroke="#333" stroke-width="0.85"/>
<line x1="192.9" y1="347.74" x2="194.7" y2="347.74" stroke="#333" stroke-width="0.85"/>
<line x1="192.9" y1="345.72" x2="194.7" y2="345.72" stroke="#333" stroke-width="0.85"/>
<line x1="192.9" y1="343.7" x2="197" y2="343.7" stroke="#222" stroke-width="0.9"/>
<line x1="192.9" y1="341.68" x2="194.7" y2="341.68" stroke="#333" stroke-width="0.85"/>
<line x1="192.9" y1="339.66" x2="194.7" y2="339.66" stroke="#333" stroke-width="0.85"/>
<line x1="192.9" y1="337.64" x2="194.7" y2="337.64" stroke="#333" stroke-width="0.85"/>
<line x1="192.9" y1="335.62" x2="194.7" y2="335.62" stroke="#333" stroke-width="0.85"/>
<line x1="192.9" y1="333.6" x2="197" y2="333.6" stroke="#222" stroke-width="0.9"/>
<line x1="194.7" y1="412.2" x2="194.7" y2="416.6" stroke="#222" stroke-width="0.8"/>
<line x1="204.87" y1="414.4" x2="204.87" y2="416" stroke="#222" stroke-width="0.8"/>
<line x1="215.04" y1="414.4" x2="215.04" y2="416" stroke="#222" stroke-width="0.8"/>
<line x1="225.21" y1="414.4" x2="225.21" y2="416" stroke="#222" stroke-width="0.8"/>
<line x1="235.38" y1="414.4" x2="235.38" y2="416" stroke="#222" stroke-width="0.8"/>
<line x1="245.55" y1="412.2" x2="245.55" y2="416.6" stroke="#222" stroke-width="0.8"/>
<line x1="255.72" y1="414.4" x2="255.72" y2="416" stroke="#222" stroke-width="0.8"/>
<line x1="265.89" y1="414.4" x2="265.89" y2="416" stroke="#222" stroke-width="0.8"/>
<line x1="276.06" y1="414.4" x2="276.06" y2="416" stroke="#222" stroke-width="0.8"/>
<line x1="286.23" y1="414.4" x2="286.23" y2="416" stroke="#222" stroke-width="0.8"/>
<line x1="296.4" y1="412.2" x2="296.4" y2="416.6" stroke="#222" stroke-width="0.8"/>
<line x1="194.7" y1="333.6" x2="194.7" y2="414.9" stroke="#222" stroke-width="1.1"/>
<line x1="194.2" y1="414.4" x2="307" y2="414.4" stroke="#222" stroke-width="1.1"/>
<text x="188.8" y="416.7" font-size="7.3" text-anchor="end" font-weight="normal" fill="#000">0</text>
<text x="188.8" y="406.6" font-size="7.3" text-anchor="end" font-weight="normal" fill="#000">0.01</text>
<text x="188.8" y="396.5" font-size="7.3" text-anchor="end" font-weight="normal" fill="#000">0.02</text>
<text x="188.8" y="386.4" font-size="7.3" text-anchor="end" font-weight="normal" fill="#000">0.03</text>
<text x="188.8" y="376.3" font-size="7.3" text-anchor="end" font-weight="normal" fill="#000">0.04</text>
<text x="188.8" y="366.2" font-size="7.3" text-anchor="end" font-weight="normal" fill="#000">0.05</text>
<text x="188.8" y="356.1" font-size="7.3" text-anchor="end" font-weight="normal" fill="#000">0.06</text>
<text x="188.8" y="346" font-size="7.3" text-anchor="end" font-weight="normal" fill="#000">0.07</text>
<text x="188.8" y="335.9" font-size="7.3" text-anchor="end" font-weight="normal" fill="#000">0.08</text>
<text x="194.7" y="426.1" font-size="7.3" text-anchor="middle" font-weight="normal" fill="#000">0</text>
<text x="245.55" y="426.1" font-size="7.3" text-anchor="middle" font-weight="normal" fill="#000">500</text>
<text x="296.4" y="426.1" font-size="7.3" text-anchor="middle" font-weight="normal" fill="#000">1000</text>
<text x="250.6" y="433.4" font-size="7.2" text-anchor="middle" font-weight="normal" fill="#000">Ascorbate (µM)</text>
<text transform="translate(170.2 395) rotate(-90)" font-size="8" fill="#000">k<tspan font-size="5.6" dy="1.8">obs</tspan><tspan dy="-1.8"> (s</tspan><tspan font-size="5.6" dy="-3">-1</tspan><tspan dy="3">)</tspan></text>
<text x="203.9" y="352.9" font-size="11" text-anchor="start" font-weight="bold" fill="#000">g</text>
<path d="M194.7 414.4 L194.79 410.92 L194.87 408.05 L194.96 405.64 L195.04 403.58 L195.13 401.8 L195.22 400.25 L195.3 398.89 L195.39 397.68 L195.48 396.6 L195.56 395.63 L195.65 394.75 L195.73 393.95 L195.82 393.22 L195.91 392.55 L195.99 391.93 L196.08 391.36 L196.17 390.83 L196.25 390.34 L196.34 389.88 L196.42 389.45 L196.51 389.05 L196.6 388.67 L196.68 388.32 L196.77 387.98 L196.85 387.66 L196.94 387.36 L197.03 387.08 L197.11 386.8 L197.2 386.54 L197.29 386.3 L197.37 386.06 L197.46 385.84 L197.54 385.62 L197.63 385.41 L197.72 385.21 L197.8 385.02 L197.89 384.84 L197.98 384.66 L198.06 384.49 L198.15 384.33 L198.23 384.17 L198.32 384.01 L198.41 383.87 L198.49 383.72 L198.58 383.58 L198.66 383.45 L198.75 383.32 L198.84 383.19 L198.92 383.06 L199.01 382.94 L199.1 382.83 L199.18 382.71 L199.27 382.6 L199.35 382.49 L199.44 382.39 L199.53 382.28 L199.61 382.18 L199.7 382.08 L199.78 381.99 L199.78 381.99 L201.42 380.48 L203.06 379.36 L204.7 378.45 L206.34 377.66 L207.97 376.96 L209.61 376.31 L211.25 375.71 L212.89 375.14 L214.52 374.59 L216.16 374.05 L217.8 373.54 L219.44 373.03 L221.07 372.53 L222.71 372.04 L224.35 371.56 L225.99 371.09 L227.62 370.61 L229.26 370.15 L230.9 369.68 L232.54 369.22 L234.17 368.76 L235.81 368.3 L237.45 367.85 L239.09 367.4 L240.72 366.95 L242.36 366.5 L244 366.05 L245.64 365.61 L247.27 365.16 L248.91 364.72 L250.55 364.27 L252.19 363.83 L253.82 363.39 L255.46 362.95 L257.1 362.51 L258.74 362.07 L260.37 361.63 L262.01 361.19 L263.65 360.75 L265.29 360.32 L266.92 359.88 L268.56 359.44 L270.2 359.01 L271.84 358.57 L273.47 358.14 L275.11 357.7 L276.75 357.27 L278.39 356.83 L280.02 356.4 L281.66 355.96 L283.3 355.53 L284.94 355.1 L286.57 354.66 L288.21 354.23 L289.85 353.8 L291.49 353.36 L293.12 352.93 L294.76 352.5 L296.4 352.07" stroke="#111" stroke-width="0.9" fill="none"/>
<path d="M194.7 414.4 L194.79 414.09 L194.87 413.8 L194.96 413.52 L195.04 413.26 L195.13 413 L195.22 412.76 L195.3 412.52 L195.39 412.3 L195.48 412.08 L195.56 411.87 L195.65 411.67 L195.73 411.48 L195.82 411.29 L195.91 411.11 L195.99 410.93 L196.08 410.77 L196.17 410.6 L196.25 410.44 L196.34 410.29 L196.42 410.14 L196.51 410 L196.6 409.86 L196.68 409.73 L196.77 409.6 L196.85 409.47 L196.94 409.34 L197.03 409.22 L197.11 409.11 L197.2 408.99 L197.29 408.88 L197.37 408.77 L197.46 408.67 L197.54 408.57 L197.63 408.47 L197.72 408.37 L197.8 408.27 L197.89 408.18 L197.98 408.09 L198.06 408 L198.15 407.91 L198.23 407.83 L198.32 407.75 L198.41 407.67 L198.49 407.59 L198.58 407.51 L198.66 407.43 L198.75 407.36 L198.84 407.29 L198.92 407.21 L199.01 407.14 L199.1 407.07 L199.18 407.01 L199.27 406.94 L199.35 406.88 L199.44 406.81 L199.53 406.75 L199.61 406.69 L199.7 406.63 L199.78 406.57 L199.78 406.57 L201.42 405.61 L203.06 404.88 L204.7 404.3 L206.34 403.81 L207.97 403.39 L209.61 403.02 L211.25 402.7 L212.89 402.4 L214.52 402.12 L216.16 401.87 L217.8 401.63 L219.44 401.4 L221.07 401.18 L222.71 400.97 L224.35 400.77 L225.99 400.58 L227.62 400.39 L229.26 400.21 L230.9 400.03 L232.54 399.85 L234.17 399.68 L235.81 399.51 L237.45 399.35 L239.09 399.19 L240.72 399.02 L242.36 398.87 L244 398.71 L245.64 398.55 L247.27 398.4 L248.91 398.25 L250.55 398.09 L252.19 397.94 L253.82 397.79 L255.46 397.65 L257.1 397.5 L258.74 397.35 L260.37 397.21 L262.01 397.06 L263.65 396.92 L265.29 396.77 L266.92 396.63 L268.56 396.49 L270.2 396.35 L271.84 396.2 L273.47 396.06 L275.11 395.92 L276.75 395.78 L278.39 395.64 L280.02 395.5 L281.66 395.36 L283.3 395.22 L284.94 395.08 L286.57 394.95 L288.21 394.81 L289.85 394.67 L291.49 394.53 L293.12 394.4 L294.76 394.26 L296.4 394.12" stroke="#111" stroke-width="0.9" fill="none"/>
<circle cx="194.7" cy="412.38" r="1.45" fill="#fff" stroke="#111" stroke-width="0.8"/>
<circle cx="195.01" cy="409.65" r="1.45" fill="#fff" stroke="#111" stroke-width="0.8"/>
<circle cx="196.23" cy="409.35" r="1.45" fill="#fff" stroke="#111" stroke-width="0.8"/>
<circle cx="198.36" cy="407.83" r="1.45" fill="#fff" stroke="#111" stroke-width="0.8"/>
<circle cx="200.19" cy="406.93" r="1.45" fill="#fff" stroke="#111" stroke-width="0.8"/>
<circle cx="205.38" cy="403.79" r="1.45" fill="#fff" stroke="#111" stroke-width="0.8"/>
<circle cx="225.72" cy="399.05" r="1.45" fill="#fff" stroke="#111" stroke-width="0.8"/>
<circle cx="245.96" cy="399.05" r="1.45" fill="#fff" stroke="#111" stroke-width="0.8"/>
<circle cx="271.08" cy="394.91" r="1.45" fill="#fff" stroke="#111" stroke-width="0.8"/>
<circle cx="296.2" cy="394.91" r="1.45" fill="#fff" stroke="#111" stroke-width="0.8"/>
<circle cx="194.7" cy="397.74" r="1.75" fill="#000"/>
<circle cx="195.01" cy="394" r="1.75" fill="#000"/>
<circle cx="195.51" cy="392.18" r="1.75" fill="#000"/>
<circle cx="197.45" cy="389.35" r="1.75" fill="#000"/>
<circle cx="198.36" cy="386.62" r="1.75" fill="#000"/>
<circle cx="200.19" cy="381.07" r="1.75" fill="#000"/>
<circle cx="205.38" cy="374.61" r="1.75" fill="#000"/>
<circle cx="225.72" cy="374.1" r="1.75" fill="#000"/>
<circle cx="245.96" cy="369.05" r="1.75" fill="#000"/>
<circle cx="271.08" cy="354.31" r="1.75" fill="#000"/>
<circle cx="296.2" cy="354.31" r="1.75" fill="#000"/>
<text x="1" y="8.6" font-size="11" text-anchor="start" font-weight="bold" fill="#000">a</text>
<text x="324.6" y="9.3" font-size="11" text-anchor="start" font-weight="bold" fill="#000">b</text>
<line x1="383.7" y1="35.6" x2="665.4" y2="35.6" stroke="#444" stroke-width="1"/>
<line x1="665.4" y1="35.6" x2="665.4" y2="183.4" stroke="#333" stroke-width="1"/>
<line x1="381.1" y1="183.4" x2="386.7" y2="183.4" stroke="#222" stroke-width="0.9"/>
<line x1="381.1" y1="178.47" x2="383.7" y2="178.47" stroke="#222" stroke-width="0.9"/>
<line x1="381.1" y1="173.55" x2="383.7" y2="173.55" stroke="#222" stroke-width="0.9"/>
<line x1="381.1" y1="168.62" x2="383.7" y2="168.62" stroke="#222" stroke-width="0.9"/>
<line x1="381.1" y1="163.69" x2="383.7" y2="163.69" stroke="#222" stroke-width="0.9"/>
<line x1="381.1" y1="158.77" x2="386.7" y2="158.77" stroke="#222" stroke-width="0.9"/>
<line x1="381.1" y1="153.84" x2="383.7" y2="153.84" stroke="#222" stroke-width="0.9"/>
<line x1="381.1" y1="148.91" x2="383.7" y2="148.91" stroke="#222" stroke-width="0.9"/>
<line x1="381.1" y1="143.99" x2="383.7" y2="143.99" stroke="#222" stroke-width="0.9"/>
<line x1="381.1" y1="139.06" x2="383.7" y2="139.06" stroke="#222" stroke-width="0.9"/>
<line x1="381.1" y1="134.13" x2="386.7" y2="134.13" stroke="#222" stroke-width="0.9"/>
<line x1="381.1" y1="129.21" x2="383.7" y2="129.21" stroke="#222" stroke-width="0.9"/>
<line x1="381.1" y1="124.28" x2="383.7" y2="124.28" stroke="#222" stroke-width="0.9"/>
<line x1="381.1" y1="119.35" x2="383.7" y2="119.35" stroke="#222" stroke-width="0.9"/>
<line x1="381.1" y1="114.43" x2="383.7" y2="114.43" stroke="#222" stroke-width="0.9"/>
<line x1="381.1" y1="109.5" x2="386.7" y2="109.5" stroke="#222" stroke-width="0.9"/>
<line x1="381.1" y1="104.57" x2="383.7" y2="104.57" stroke="#222" stroke-width="0.9"/>
<line x1="381.1" y1="99.65" x2="383.7" y2="99.65" stroke="#222" stroke-width="0.9"/>
<line x1="381.1" y1="94.72" x2="383.7" y2="94.72" stroke="#222" stroke-width="0.9"/>
<line x1="381.1" y1="89.79" x2="383.7" y2="89.79" stroke="#222" stroke-width="0.9"/>
<line x1="381.1" y1="84.87" x2="386.7" y2="84.87" stroke="#222" stroke-width="0.9"/>
<line x1="381.1" y1="79.94" x2="383.7" y2="79.94" stroke="#222" stroke-width="0.9"/>
<line x1="381.1" y1="75.01" x2="383.7" y2="75.01" stroke="#222" stroke-width="0.9"/>
<line x1="381.1" y1="70.09" x2="383.7" y2="70.09" stroke="#222" stroke-width="0.9"/>
<line x1="381.1" y1="65.16" x2="383.7" y2="65.16" stroke="#222" stroke-width="0.9"/>
<line x1="381.1" y1="60.23" x2="386.7" y2="60.23" stroke="#222" stroke-width="0.9"/>
<line x1="381.1" y1="55.31" x2="383.7" y2="55.31" stroke="#222" stroke-width="0.9"/>
<line x1="381.1" y1="50.38" x2="383.7" y2="50.38" stroke="#222" stroke-width="0.9"/>
<line x1="381.1" y1="45.45" x2="383.7" y2="45.45" stroke="#222" stroke-width="0.9"/>
<line x1="381.1" y1="40.53" x2="383.7" y2="40.53" stroke="#222" stroke-width="0.9"/>
<line x1="381.1" y1="35.6" x2="386.7" y2="35.6" stroke="#222" stroke-width="0.9"/>
<line x1="383.7" y1="180.6" x2="383.7" y2="186.3" stroke="#222" stroke-width="0.9"/>
<line x1="401.01" y1="183.4" x2="401.01" y2="186" stroke="#222" stroke-width="0.9"/>
<line x1="418.32" y1="183.4" x2="418.32" y2="186" stroke="#222" stroke-width="0.9"/>
<line x1="435.64" y1="183.4" x2="435.64" y2="186" stroke="#222" stroke-width="0.9"/>
<line x1="452.95" y1="183.4" x2="452.95" y2="186" stroke="#222" stroke-width="0.9"/>
<line x1="470.26" y1="180.6" x2="470.26" y2="186.3" stroke="#222" stroke-width="0.9"/>
<line x1="487.57" y1="183.4" x2="487.57" y2="186" stroke="#222" stroke-width="0.9"/>
<line x1="504.88" y1="183.4" x2="504.88" y2="186" stroke="#222" stroke-width="0.9"/>
<line x1="522.2" y1="183.4" x2="522.2" y2="186" stroke="#222" stroke-width="0.9"/>
<line x1="539.51" y1="183.4" x2="539.51" y2="186" stroke="#222" stroke-width="0.9"/>
<line x1="556.82" y1="180.6" x2="556.82" y2="186.3" stroke="#222" stroke-width="0.9"/>
<line x1="574.13" y1="183.4" x2="574.13" y2="186" stroke="#222" stroke-width="0.9"/>
<line x1="591.44" y1="183.4" x2="591.44" y2="186" stroke="#222" stroke-width="0.9"/>
<line x1="608.76" y1="183.4" x2="608.76" y2="186" stroke="#222" stroke-width="0.9"/>
<line x1="626.07" y1="183.4" x2="626.07" y2="186" stroke="#222" stroke-width="0.9"/>
<line x1="643.38" y1="180.6" x2="643.38" y2="186.3" stroke="#222" stroke-width="0.9"/>
<line x1="660.69" y1="183.4" x2="660.69" y2="186" stroke="#222" stroke-width="0.9"/>
<line x1="383.7" y1="35.1" x2="383.7" y2="183.9" stroke="#222" stroke-width="1.2"/>
<line x1="383.2" y1="183.4" x2="665.9" y2="183.4" stroke="#222" stroke-width="1.2"/>
<text x="374.5" y="187.1" font-size="10.3" text-anchor="end" font-weight="normal" fill="#000">0</text>
<text x="374.5" y="162.47" font-size="10.3" text-anchor="end" font-weight="normal" fill="#000">0.2</text>
<text x="374.5" y="137.83" font-size="10.3" text-anchor="end" font-weight="normal" fill="#000">0.4</text>
<text x="374.5" y="113.2" font-size="10.3" text-anchor="end" font-weight="normal" fill="#000">0.6</text>
<text x="374.5" y="88.57" font-size="10.3" text-anchor="end" font-weight="normal" fill="#000">0.8</text>
<text x="374.5" y="63.93" font-size="10.3" text-anchor="end" font-weight="normal" fill="#000">1</text>
<text x="374.5" y="39.3" font-size="10.3" text-anchor="end" font-weight="normal" fill="#000">1.2</text>
<text x="383.7" y="199.8" font-size="10.3" text-anchor="middle" font-weight="normal" fill="#000">0</text>
<text x="470.26" y="199.8" font-size="10.3" text-anchor="middle" font-weight="normal" fill="#000">200</text>
<text x="556.82" y="199.8" font-size="10.3" text-anchor="middle" font-weight="normal" fill="#000">400</text>
<text x="643.38" y="199.8" font-size="10.3" text-anchor="middle" font-weight="normal" fill="#000">600</text>
<text x="524.55" y="214.6" font-size="10.5" text-anchor="middle" font-weight="normal" fill="#000">Time (mins)</text>
<text transform="translate(338.9 97.5) rotate(-90)" font-size="12.5" text-anchor="middle" fill="#000">Absorbance (234 - 650 nm)</text>
<rect x="381.5" y="144" width="4.4" height="4.4" fill="#fff" stroke="#000" stroke-width="1.3"/>
<rect x="384.87" y="144" width="4.4" height="4.4" fill="#fff" stroke="#000" stroke-width="1.3"/>
<rect x="388.24" y="143.98" width="4.4" height="4.4" fill="#fff" stroke="#000" stroke-width="1.3"/>
<rect x="391.62" y="143.94" width="4.4" height="4.4" fill="#fff" stroke="#000" stroke-width="1.3"/>
<rect x="394.99" y="143.87" width="4.4" height="4.4" fill="#fff" stroke="#000" stroke-width="1.3"/>
<rect x="398.36" y="143.78" width="4.4" height="4.4" fill="#fff" stroke="#000" stroke-width="1.3"/>
<rect x="401.73" y="140.64" width="4.4" height="4.4" fill="#fff" stroke="#000" stroke-width="1.3"/>
<rect x="405.11" y="129.56" width="4.4" height="4.4" fill="#fff" stroke="#000" stroke-width="1.3"/>
<rect x="408.48" y="119.6" width="4.4" height="4.4" fill="#fff" stroke="#000" stroke-width="1.3"/>
<rect x="411.85" y="108.65" width="4.4" height="4.4" fill="#fff" stroke="#000" stroke-width="1.3"/>
<rect x="415.22" y="100.5" width="4.4" height="4.4" fill="#fff" stroke="#000" stroke-width="1.3"/>
<rect x="418.6" y="95.46" width="4.4" height="4.4" fill="#fff" stroke="#000" stroke-width="1.3"/>
<rect x="421.97" y="90.64" width="4.4" height="4.4" fill="#fff" stroke="#000" stroke-width="1.3"/>
<rect x="425.34" y="86.45" width="4.4" height="4.4" fill="#fff" stroke="#000" stroke-width="1.3"/>
<rect x="428.71" y="83.72" width="4.4" height="4.4" fill="#fff" stroke="#000" stroke-width="1.3"/>
<rect x="432.09" y="81.69" width="4.4" height="4.4" fill="#fff" stroke="#000" stroke-width="1.3"/>
<rect x="435.46" y="80.02" width="4.4" height="4.4" fill="#fff" stroke="#000" stroke-width="1.3"/>
<rect x="438.83" y="78.69" width="4.4" height="4.4" fill="#fff" stroke="#000" stroke-width="1.3"/>
<rect x="442.2" y="77.55" width="4.4" height="4.4" fill="#fff" stroke="#000" stroke-width="1.3"/>
<rect x="445.58" y="76.55" width="4.4" height="4.4" fill="#fff" stroke="#000" stroke-width="1.3"/>
<rect x="448.95" y="75.72" width="4.4" height="4.4" fill="#fff" stroke="#000" stroke-width="1.3"/>
<rect x="452.32" y="75.04" width="4.4" height="4.4" fill="#fff" stroke="#000" stroke-width="1.3"/>
<rect x="455.69" y="74.45" width="4.4" height="4.4" fill="#fff" stroke="#000" stroke-width="1.3"/>
<rect x="459.07" y="73.93" width="4.4" height="4.4" fill="#fff" stroke="#000" stroke-width="1.3"/>
<rect x="462.44" y="73.48" width="4.4" height="4.4" fill="#fff" stroke="#000" stroke-width="1.3"/>
<rect x="465.81" y="73.08" width="4.4" height="4.4" fill="#fff" stroke="#000" stroke-width="1.3"/>
<rect x="469.18" y="72.73" width="4.4" height="4.4" fill="#fff" stroke="#000" stroke-width="1.3"/>
<rect x="472.56" y="72.41" width="4.4" height="4.4" fill="#fff" stroke="#000" stroke-width="1.3"/>
<rect x="475.93" y="72.1" width="4.4" height="4.4" fill="#fff" stroke="#000" stroke-width="1.3"/>
<rect x="479.3" y="71.82" width="4.4" height="4.4" fill="#fff" stroke="#000" stroke-width="1.3"/>
<rect x="482.67" y="71.58" width="4.4" height="4.4" fill="#fff" stroke="#000" stroke-width="1.3"/>
<rect x="486.05" y="71.38" width="4.4" height="4.4" fill="#fff" stroke="#000" stroke-width="1.3"/>
<rect x="489.42" y="71.23" width="4.4" height="4.4" fill="#fff" stroke="#000" stroke-width="1.3"/>
<rect x="492.79" y="71.11" width="4.4" height="4.4" fill="#fff" stroke="#000" stroke-width="1.3"/>
<rect x="496.16" y="71" width="4.4" height="4.4" fill="#fff" stroke="#000" stroke-width="1.3"/>
<rect x="499.54" y="70.9" width="4.4" height="4.4" fill="#fff" stroke="#000" stroke-width="1.3"/>
<rect x="502.91" y="70.82" width="4.4" height="4.4" fill="#fff" stroke="#000" stroke-width="1.3"/>
<rect x="506.28" y="70.76" width="4.4" height="4.4" fill="#fff" stroke="#000" stroke-width="1.3"/>
<rect x="509.65" y="70.72" width="4.4" height="4.4" fill="#fff" stroke="#000" stroke-width="1.3"/>
<rect x="513.03" y="70.73" width="4.4" height="4.4" fill="#fff" stroke="#000" stroke-width="1.3"/>
<rect x="516.4" y="70.8" width="4.4" height="4.4" fill="#fff" stroke="#000" stroke-width="1.3"/>
<rect x="519.77" y="70.89" width="4.4" height="4.4" fill="#fff" stroke="#000" stroke-width="1.3"/>
<rect x="523.14" y="71" width="4.4" height="4.4" fill="#fff" stroke="#000" stroke-width="1.3"/>
<rect x="526.52" y="71.12" width="4.4" height="4.4" fill="#fff" stroke="#000" stroke-width="1.3"/>
<rect x="529.89" y="71.26" width="4.4" height="4.4" fill="#fff" stroke="#000" stroke-width="1.3"/>
<rect x="533.26" y="71.42" width="4.4" height="4.4" fill="#fff" stroke="#000" stroke-width="1.3"/>
<rect x="536.63" y="71.59" width="4.4" height="4.4" fill="#fff" stroke="#000" stroke-width="1.3"/>
<rect x="540.01" y="71.77" width="4.4" height="4.4" fill="#fff" stroke="#000" stroke-width="1.3"/>
<rect x="543.38" y="71.96" width="4.4" height="4.4" fill="#fff" stroke="#000" stroke-width="1.3"/>
<rect x="546.75" y="72.16" width="4.4" height="4.4" fill="#fff" stroke="#000" stroke-width="1.3"/>
<rect x="550.12" y="72.37" width="4.4" height="4.4" fill="#fff" stroke="#000" stroke-width="1.3"/>
<rect x="553.5" y="72.59" width="4.4" height="4.4" fill="#fff" stroke="#000" stroke-width="1.3"/>
<rect x="556.87" y="72.82" width="4.4" height="4.4" fill="#fff" stroke="#000" stroke-width="1.3"/>
<rect x="560.24" y="73.05" width="4.4" height="4.4" fill="#fff" stroke="#000" stroke-width="1.3"/>
<rect x="563.61" y="73.3" width="4.4" height="4.4" fill="#fff" stroke="#000" stroke-width="1.3"/>
<rect x="566.99" y="73.55" width="4.4" height="4.4" fill="#fff" stroke="#000" stroke-width="1.3"/>
<rect x="570.36" y="73.81" width="4.4" height="4.4" fill="#fff" stroke="#000" stroke-width="1.3"/>
<rect x="573.73" y="74.08" width="4.4" height="4.4" fill="#fff" stroke="#000" stroke-width="1.3"/>
<rect x="577.1" y="74.36" width="4.4" height="4.4" fill="#fff" stroke="#000" stroke-width="1.3"/>
<rect x="580.48" y="74.64" width="4.4" height="4.4" fill="#fff" stroke="#000" stroke-width="1.3"/>
<rect x="583.85" y="74.93" width="4.4" height="4.4" fill="#fff" stroke="#000" stroke-width="1.3"/>
<rect x="587.22" y="75.23" width="4.4" height="4.4" fill="#fff" stroke="#000" stroke-width="1.3"/>
<rect x="590.59" y="75.54" width="4.4" height="4.4" fill="#fff" stroke="#000" stroke-width="1.3"/>
<rect x="593.97" y="75.85" width="4.4" height="4.4" fill="#fff" stroke="#000" stroke-width="1.3"/>
<rect x="597.34" y="76.16" width="4.4" height="4.4" fill="#fff" stroke="#000" stroke-width="1.3"/>
<rect x="600.71" y="76.49" width="4.4" height="4.4" fill="#fff" stroke="#000" stroke-width="1.3"/>
<rect x="604.08" y="76.82" width="4.4" height="4.4" fill="#fff" stroke="#000" stroke-width="1.3"/>
<rect x="607.46" y="77.15" width="4.4" height="4.4" fill="#fff" stroke="#000" stroke-width="1.3"/>
<rect x="610.83" y="77.49" width="4.4" height="4.4" fill="#fff" stroke="#000" stroke-width="1.3"/>
<rect x="614.2" y="77.84" width="4.4" height="4.4" fill="#fff" stroke="#000" stroke-width="1.3"/>
<rect x="617.57" y="78.19" width="4.4" height="4.4" fill="#fff" stroke="#000" stroke-width="1.3"/>
<rect x="620.95" y="78.55" width="4.4" height="4.4" fill="#fff" stroke="#000" stroke-width="1.3"/>
<rect x="624.32" y="78.92" width="4.4" height="4.4" fill="#fff" stroke="#000" stroke-width="1.3"/>
<rect x="627.69" y="79.29" width="4.4" height="4.4" fill="#fff" stroke="#000" stroke-width="1.3"/>
<rect x="631.06" y="79.66" width="4.4" height="4.4" fill="#fff" stroke="#000" stroke-width="1.3"/>
<rect x="634.44" y="80.04" width="4.4" height="4.4" fill="#fff" stroke="#000" stroke-width="1.3"/>
<rect x="637.81" y="80.43" width="4.4" height="4.4" fill="#fff" stroke="#000" stroke-width="1.3"/>
<rect x="641.18" y="80.82" width="4.4" height="4.4" fill="#fff" stroke="#000" stroke-width="1.3"/>
<path d="M383.7 144.25L385.9 146.45L383.7 148.65L381.5 146.45Z" fill="#fff" stroke="#000" stroke-width="1.23"/>
<path d="M387.07 144.25L389.27 146.45L387.07 148.65L384.87 146.45Z" fill="#fff" stroke="#000" stroke-width="1.23"/>
<path d="M390.44 144.23L392.64 146.43L390.44 148.63L388.24 146.43Z" fill="#fff" stroke="#000" stroke-width="1.23"/>
<path d="M393.82 144.21L396.02 146.41L393.82 148.61L391.62 146.41Z" fill="#fff" stroke="#000" stroke-width="1.23"/>
<path d="M397.19 144.16L399.39 146.36L397.19 148.56L394.99 146.36Z" fill="#fff" stroke="#000" stroke-width="1.23"/>
<path d="M400.56 144.1L402.76 146.3L400.56 148.5L398.36 146.3Z" fill="#fff" stroke="#000" stroke-width="1.23"/>
<path d="M403.93 143.91L406.13 146.11L403.93 148.31L401.73 146.11Z" fill="#fff" stroke="#000" stroke-width="1.23"/>
<path d="M407.31 140.13L409.51 142.33L407.31 144.53L405.11 142.33Z" fill="#fff" stroke="#000" stroke-width="1.23"/>
<path d="M410.68 129.03L412.88 131.23L410.68 133.43L408.48 131.23Z" fill="#fff" stroke="#000" stroke-width="1.23"/>
<path d="M414.05 119.02L416.25 121.22L414.05 123.42L411.85 121.22Z" fill="#fff" stroke="#000" stroke-width="1.23"/>
<path d="M417.42 108.02L419.62 110.22L417.42 112.42L415.22 110.22Z" fill="#fff" stroke="#000" stroke-width="1.23"/>
<path d="M420.8 100.52L423 102.72L420.8 104.92L418.6 102.72Z" fill="#fff" stroke="#000" stroke-width="1.23"/>
<path d="M424.17 95.6L426.37 97.8L424.17 100L421.97 97.8Z" fill="#fff" stroke="#000" stroke-width="1.23"/>
<path d="M427.54 90.89L429.74 93.09L427.54 95.29L425.34 93.09Z" fill="#fff" stroke="#000" stroke-width="1.23"/>
<path d="M430.91 86.86L433.11 89.06L430.91 91.26L428.71 89.06Z" fill="#fff" stroke="#000" stroke-width="1.23"/>
<path d="M434.29 84.24L436.49 86.44L434.29 88.64L432.09 86.44Z" fill="#fff" stroke="#000" stroke-width="1.23"/>
<path d="M437.66 82.28L439.86 84.48L437.66 86.68L435.46 84.48Z" fill="#fff" stroke="#000" stroke-width="1.23"/>
<path d="M441.03 80.66L443.23 82.86L441.03 85.06L438.83 82.86Z" fill="#fff" stroke="#000" stroke-width="1.23"/>
<path d="M444.4 79.36L446.6 81.56L444.4 83.76L442.2 81.56Z" fill="#fff" stroke="#000" stroke-width="1.23"/>
<path d="M447.78 78.24L449.98 80.44L447.78 82.64L445.58 80.44Z" fill="#fff" stroke="#000" stroke-width="1.23"/>
<path d="M451.15 77.27L453.35 79.47L451.15 81.67L448.95 79.47Z" fill="#fff" stroke="#000" stroke-width="1.23"/>
<path d="M454.52 76.46L456.72 78.66L454.52 80.86L452.32 78.66Z" fill="#fff" stroke="#000" stroke-width="1.23"/>
<path d="M457.89 75.8L460.09 78L457.89 80.2L455.69 78Z" fill="#fff" stroke="#000" stroke-width="1.23"/>
<path d="M461.27 75.23L463.47 77.43L461.27 79.63L459.07 77.43Z" fill="#fff" stroke="#000" stroke-width="1.23"/>
<path d="M464.64 74.72L466.84 76.92L464.64 79.12L462.44 76.92Z" fill="#fff" stroke="#000" stroke-width="1.23"/>
<path d="M468.01 74.27L470.21 76.47L468.01 78.67L465.81 76.47Z" fill="#fff" stroke="#000" stroke-width="1.23"/>
<path d="M471.38 73.88L473.58 76.08L471.38 78.28L469.18 76.08Z" fill="#fff" stroke="#000" stroke-width="1.23"/>
<path d="M474.76 73.54L476.96 75.74L474.76 77.94L472.56 75.74Z" fill="#fff" stroke="#000" stroke-width="1.23"/>
<path d="M478.13 73.22L480.33 75.42L478.13 77.62L475.93 75.42Z" fill="#fff" stroke="#000" stroke-width="1.23"/>
<path d="M481.5 72.92L483.7 75.12L481.5 77.32L479.3 75.12Z" fill="#fff" stroke="#000" stroke-width="1.23"/>
<path d="M484.87 72.65L487.07 74.85L484.87 77.05L482.67 74.85Z" fill="#fff" stroke="#000" stroke-width="1.23"/>
<path d="M488.25 72.41L490.45 74.61L488.25 76.81L486.05 74.61Z" fill="#fff" stroke="#000" stroke-width="1.23"/>
<path d="M491.62 72.22L493.82 74.42L491.62 76.62L489.42 74.42Z" fill="#fff" stroke="#000" stroke-width="1.23"/>
<path d="M494.99 72.07L497.19 74.27L494.99 76.47L492.79 74.27Z" fill="#fff" stroke="#000" stroke-width="1.23"/>
<path d="M498.36 71.96L500.56 74.16L498.36 76.36L496.16 74.16Z" fill="#fff" stroke="#000" stroke-width="1.23"/>
<path d="M501.74 71.85L503.94 74.05L501.74 76.25L499.54 74.05Z" fill="#fff" stroke="#000" stroke-width="1.23"/>
<path d="M505.11 71.75L507.31 73.95L505.11 76.15L502.91 73.95Z" fill="#fff" stroke="#000" stroke-width="1.23"/>
<path d="M508.48 71.67L510.68 73.87L508.48 76.07L506.28 73.87Z" fill="#fff" stroke="#000" stroke-width="1.23"/>
<path d="M511.85 71.61L514.05 73.81L511.85 76.01L509.65 73.81Z" fill="#fff" stroke="#000" stroke-width="1.23"/>
<path d="M515.23 71.6L517.43 73.8L515.23 76L513.03 73.8Z" fill="#fff" stroke="#000" stroke-width="1.23"/>
<path d="M518.6 71.66L520.8 73.86L518.6 76.06L516.4 73.86Z" fill="#fff" stroke="#000" stroke-width="1.23"/>
<path d="M521.97 71.74L524.17 73.94L521.97 76.14L519.77 73.94Z" fill="#fff" stroke="#000" stroke-width="1.23"/>
<path d="M525.34 71.85L527.54 74.05L525.34 76.25L523.14 74.05Z" fill="#fff" stroke="#000" stroke-width="1.23"/>
<path d="M528.72 71.98L530.92 74.18L528.72 76.38L526.52 74.18Z" fill="#fff" stroke="#000" stroke-width="1.23"/>
<path d="M532.09 72.11L534.29 74.31L532.09 76.51L529.89 74.31Z" fill="#fff" stroke="#000" stroke-width="1.23"/>
<path d="M535.46 72.27L537.66 74.47L535.46 76.67L533.26 74.47Z" fill="#fff" stroke="#000" stroke-width="1.23"/>
<path d="M538.83 72.43L541.03 74.63L538.83 76.83L536.63 74.63Z" fill="#fff" stroke="#000" stroke-width="1.23"/>
<path d="M542.21 72.6L544.41 74.8L542.21 77L540.01 74.8Z" fill="#fff" stroke="#000" stroke-width="1.23"/>
<path d="M545.58 72.79L547.78 74.99L545.58 77.19L543.38 74.99Z" fill="#fff" stroke="#000" stroke-width="1.23"/>
<path d="M548.95 72.99L551.15 75.19L548.95 77.39L546.75 75.19Z" fill="#fff" stroke="#000" stroke-width="1.23"/>
<path d="M552.32 73.19L554.52 75.39L552.32 77.59L550.12 75.39Z" fill="#fff" stroke="#000" stroke-width="1.23"/>
<path d="M555.7 73.4L557.9 75.6L555.7 77.8L553.5 75.6Z" fill="#fff" stroke="#000" stroke-width="1.23"/>
<path d="M559.07 73.63L561.27 75.83L559.07 78.03L556.87 75.83Z" fill="#fff" stroke="#000" stroke-width="1.23"/>
<path d="M562.44 73.86L564.64 76.06L562.44 78.26L560.24 76.06Z" fill="#fff" stroke="#000" stroke-width="1.23"/>
<path d="M565.81 74.1L568.01 76.3L565.81 78.5L563.61 76.3Z" fill="#fff" stroke="#000" stroke-width="1.23"/>
<path d="M569.19 74.35L571.39 76.55L569.19 78.75L566.99 76.55Z" fill="#fff" stroke="#000" stroke-width="1.23"/>
<path d="M572.56 74.6L574.76 76.8L572.56 79L570.36 76.8Z" fill="#fff" stroke="#000" stroke-width="1.23"/>
<path d="M575.93 74.86L578.13 77.06L575.93 79.26L573.73 77.06Z" fill="#fff" stroke="#000" stroke-width="1.23"/>
<path d="M579.3 75.13L581.5 77.33L579.3 79.53L577.1 77.33Z" fill="#fff" stroke="#000" stroke-width="1.23"/>
<path d="M582.68 75.41L584.88 77.61L582.68 79.81L580.48 77.61Z" fill="#fff" stroke="#000" stroke-width="1.23"/>
<path d="M586.05 75.69L588.25 77.89L586.05 80.09L583.85 77.89Z" fill="#fff" stroke="#000" stroke-width="1.23"/>
<path d="M589.42 75.98L591.62 78.18L589.42 80.38L587.22 78.18Z" fill="#fff" stroke="#000" stroke-width="1.23"/>
<path d="M592.79 76.28L594.99 78.48L592.79 80.68L590.59 78.48Z" fill="#fff" stroke="#000" stroke-width="1.23"/>
<path d="M596.17 76.58L598.37 78.78L596.17 80.98L593.97 78.78Z" fill="#fff" stroke="#000" stroke-width="1.23"/>
<path d="M599.54 76.89L601.74 79.09L599.54 81.29L597.34 79.09Z" fill="#fff" stroke="#000" stroke-width="1.23"/>
<path d="M602.91 77.21L605.11 79.41L602.91 81.61L600.71 79.41Z" fill="#fff" stroke="#000" stroke-width="1.23"/>
<path d="M606.28 77.53L608.48 79.73L606.28 81.93L604.08 79.73Z" fill="#fff" stroke="#000" stroke-width="1.23"/>
<path d="M609.66 77.86L611.86 80.06L609.66 82.26L607.46 80.06Z" fill="#fff" stroke="#000" stroke-width="1.23"/>
<path d="M613.03 78.19L615.23 80.39L613.03 82.59L610.83 80.39Z" fill="#fff" stroke="#000" stroke-width="1.23"/>
<path d="M616.4 78.53L618.6 80.73L616.4 82.93L614.2 80.73Z" fill="#fff" stroke="#000" stroke-width="1.23"/>
<path d="M619.77 78.87L621.97 81.07L619.77 83.27L617.57 81.07Z" fill="#fff" stroke="#000" stroke-width="1.23"/>
<path d="M623.15 79.22L625.35 81.42L623.15 83.62L620.95 81.42Z" fill="#fff" stroke="#000" stroke-width="1.23"/>
<path d="M626.52 79.58L628.72 81.78L626.52 83.98L624.32 81.78Z" fill="#fff" stroke="#000" stroke-width="1.23"/>
<path d="M629.89 79.94L632.09 82.14L629.89 84.34L627.69 82.14Z" fill="#fff" stroke="#000" stroke-width="1.23"/>
<path d="M633.26 80.31L635.46 82.51L633.26 84.71L631.06 82.51Z" fill="#fff" stroke="#000" stroke-width="1.23"/>
<path d="M636.64 80.68L638.84 82.88L636.64 85.08L634.44 82.88Z" fill="#fff" stroke="#000" stroke-width="1.23"/>
<path d="M640.01 81.05L642.21 83.25L640.01 85.45L637.81 83.25Z" fill="#fff" stroke="#000" stroke-width="1.23"/>
<path d="M643.38 81.43L645.58 83.63L643.38 85.83L641.18 83.63Z" fill="#fff" stroke="#000" stroke-width="1.23"/>
<path d="M383.7 144.3L386.1 148.62L381.3 148.62Z" fill="#000"/>
<path d="M387.07 144.29L389.47 148.61L384.67 148.61Z" fill="#000"/>
<path d="M390.44 144.29L392.84 148.61L388.04 148.61Z" fill="#000"/>
<path d="M393.82 144.27L396.22 148.59L391.42 148.59Z" fill="#000"/>
<path d="M397.19 144.25L399.59 148.57L394.79 148.57Z" fill="#000"/>
<path d="M400.56 144.22L402.96 148.54L398.16 148.54Z" fill="#000"/>
<path d="M403.93 144.17L406.33 148.49L401.53 148.49Z" fill="#000"/>
<path d="M407.31 144.11L409.71 148.43L404.91 148.43Z" fill="#000"/>
<path d="M410.68 143L413.08 147.32L408.28 147.32Z" fill="#000"/>
<path d="M414.05 134.65L416.45 138.97L411.65 138.97Z" fill="#000"/>
<path d="M417.42 125.34L419.82 129.66L415.02 129.66Z" fill="#000"/>
<path d="M420.8 115.6L423.2 119.92L418.4 119.92Z" fill="#000"/>
<path d="M424.17 107.14L426.57 111.46L421.77 111.46Z" fill="#000"/>
<path d="M427.54 102.26L429.94 106.58L425.14 106.58Z" fill="#000"/>
<path d="M430.91 97.9L433.31 102.22L428.51 102.22Z" fill="#000"/>
<path d="M434.29 93.88L436.69 98.2L431.89 98.2Z" fill="#000"/>
<path d="M437.66 91.05L440.06 95.37L435.26 95.37Z" fill="#000"/>
<path d="M441.03 89.11L443.43 93.43L438.63 93.43Z" fill="#000"/>
<path d="M444.4 87.52L446.8 91.84L442 91.84Z" fill="#000"/>
<path d="M447.78 86.24L450.18 90.56L445.38 90.56Z" fill="#000"/>
<path d="M451.15 85.18L453.55 89.5L448.75 89.5Z" fill="#000"/>
<path d="M454.52 84.25L456.92 88.57L452.12 88.57Z" fill="#000"/>
<path d="M457.89 83.45L460.29 87.77L455.49 87.77Z" fill="#000"/>
<path d="M461.27 82.81L463.67 87.13L458.87 87.13Z" fill="#000"/>
<path d="M464.64 82.26L467.04 86.58L462.24 86.58Z" fill="#000"/>
<path d="M468.01 81.78L470.41 86.1L465.61 86.1Z" fill="#000"/>
<path d="M471.38 81.36L473.78 85.68L468.98 85.68Z" fill="#000"/>
<path d="M474.76 80.99L477.16 85.31L472.36 85.31Z" fill="#000"/>
<path d="M478.13 80.66L480.53 84.98L475.73 84.98Z" fill="#000"/>
<path d="M481.5 80.37L483.9 84.69L479.1 84.69Z" fill="#000"/>
<path d="M484.87 80.09L487.27 84.41L482.47 84.41Z" fill="#000"/>
<path d="M488.25 79.83L490.65 84.15L485.85 84.15Z" fill="#000"/>
<path d="M491.62 79.6L494.02 83.92L489.22 83.92Z" fill="#000"/>
<path d="M494.99 79.41L497.39 83.73L492.59 83.73Z" fill="#000"/>
<path d="M498.36 79.26L500.76 83.58L495.96 83.58Z" fill="#000"/>
<path d="M501.74 79.15L504.14 83.47L499.34 83.47Z" fill="#000"/>
<path d="M505.11 79.05L507.51 83.37L502.71 83.37Z" fill="#000"/>
<path d="M508.48 78.96L510.88 83.28L506.08 83.28Z" fill="#000"/>
<path d="M511.85 78.88L514.25 83.2L509.45 83.2Z" fill="#000"/>
<path d="M515.23 78.79L517.63 83.11L512.83 83.11Z" fill="#000"/>
<path d="M518.6 78.83L521 83.15L516.2 83.15Z" fill="#000"/>
<path d="M521.97 78.89L524.37 83.21L519.57 83.21Z" fill="#000"/>
<path d="M525.34 78.97L527.74 83.29L522.94 83.29Z" fill="#000"/>
<path d="M528.72 79.06L531.12 83.38L526.32 83.38Z" fill="#000"/>
<path d="M532.09 79.16L534.49 83.48L529.69 83.48Z" fill="#000"/>
<path d="M535.46 79.27L537.86 83.59L533.06 83.59Z" fill="#000"/>
<path d="M538.83 79.39L541.23 83.71L536.43 83.71Z" fill="#000"/>
<path d="M542.21 79.51L544.61 83.83L539.81 83.83Z" fill="#000"/>
<path d="M545.58 79.65L547.98 83.97L543.18 83.97Z" fill="#000"/>
<path d="M548.95 79.79L551.35 84.11L546.55 84.11Z" fill="#000"/>
<path d="M552.32 79.94L554.72 84.26L549.92 84.26Z" fill="#000"/>
<path d="M555.7 80.09L558.1 84.41L553.3 84.41Z" fill="#000"/>
<path d="M559.07 80.25L561.47 84.57L556.67 84.57Z" fill="#000"/>
<path d="M562.44 80.42L564.84 84.74L560.04 84.74Z" fill="#000"/>
<path d="M565.81 80.6L568.21 84.92L563.41 84.92Z" fill="#000"/>
<path d="M569.19 80.78L571.59 85.1L566.79 85.1Z" fill="#000"/>
<path d="M572.56 80.96L574.96 85.28L570.16 85.28Z" fill="#000"/>
<path d="M575.93 81.15L578.33 85.47L573.53 85.47Z" fill="#000"/>
<path d="M579.3 81.35L581.7 85.67L576.9 85.67Z" fill="#000"/>
<path d="M582.68 81.55L585.08 85.87L580.28 85.87Z" fill="#000"/>
<path d="M586.05 81.75L588.45 86.07L583.65 86.07Z" fill="#000"/>
<path d="M589.42 81.96L591.82 86.28L587.02 86.28Z" fill="#000"/>
<path d="M592.79 82.18L595.19 86.5L590.39 86.5Z" fill="#000"/>
<path d="M596.17 82.4L598.57 86.72L593.77 86.72Z" fill="#000"/>
<path d="M599.54 82.62L601.94 86.94L597.14 86.94Z" fill="#000"/>
<path d="M602.91 82.85L605.31 87.17L600.51 87.17Z" fill="#000"/>
<path d="M606.28 83.08L608.68 87.4L603.88 87.4Z" fill="#000"/>
<path d="M609.66 83.32L612.06 87.64L607.26 87.64Z" fill="#000"/>
<path d="M613.03 83.56L615.43 87.88L610.63 87.88Z" fill="#000"/>
<path d="M616.4 83.81L618.8 88.13L614 88.13Z" fill="#000"/>
<path d="M619.77 84.06L622.17 88.38L617.37 88.38Z" fill="#000"/>
<path d="M623.15 84.31L625.55 88.63L620.75 88.63Z" fill="#000"/>
<path d="M626.52 84.57L628.92 88.89L624.12 88.89Z" fill="#000"/>
<path d="M629.89 84.83L632.29 89.15L627.49 89.15Z" fill="#000"/>
<path d="M633.26 85.1L635.66 89.42L630.86 89.42Z" fill="#000"/>
<path d="M636.64 85.37L639.04 89.69L634.24 89.69Z" fill="#000"/>
<path d="M640.01 85.64L642.41 89.96L637.61 89.96Z" fill="#000"/>
<path d="M643.38 85.92L645.78 90.24L640.98 90.24Z" fill="#000"/>
<path d="M383.7 144.15L386 148.29L381.4 148.29Z" fill="#fff" stroke="#000" stroke-width="1.17"/>
<path d="M387.07 144.15L389.37 148.29L384.77 148.29Z" fill="#fff" stroke="#000" stroke-width="1.17"/>
<path d="M390.44 144.14L392.74 148.28L388.14 148.28Z" fill="#fff" stroke="#000" stroke-width="1.17"/>
<path d="M393.82 144.12L396.12 148.26L391.52 148.26Z" fill="#fff" stroke="#000" stroke-width="1.17"/>
<path d="M397.19 144.08L399.49 148.22L394.89 148.22Z" fill="#fff" stroke="#000" stroke-width="1.17"/>
<path d="M400.56 144.02L402.86 148.16L398.26 148.16Z" fill="#fff" stroke="#000" stroke-width="1.17"/>
<path d="M403.93 143.95L406.23 148.09L401.63 148.09Z" fill="#fff" stroke="#000" stroke-width="1.17"/>
<path d="M407.31 142.51L409.61 146.65L405.01 146.65Z" fill="#fff" stroke="#000" stroke-width="1.17"/>
<path d="M410.68 133.44L412.98 137.58L408.38 137.58Z" fill="#fff" stroke="#000" stroke-width="1.17"/>
<path d="M414.05 123.34L416.35 127.48L411.75 127.48Z" fill="#fff" stroke="#000" stroke-width="1.17"/>
<path d="M417.42 112.61L419.72 116.75L415.12 116.75Z" fill="#fff" stroke="#000" stroke-width="1.17"/>
<path d="M420.8 103.38L423.1 107.52L418.5 107.52Z" fill="#fff" stroke="#000" stroke-width="1.17"/>
<path d="M424.17 98.18L426.47 102.32L421.87 102.32Z" fill="#fff" stroke="#000" stroke-width="1.17"/>
<path d="M427.54 93.43L429.84 97.57L425.24 97.57Z" fill="#fff" stroke="#000" stroke-width="1.17"/>
<path d="M430.91 89.04L433.21 93.18L428.61 93.18Z" fill="#fff" stroke="#000" stroke-width="1.17"/>
<path d="M434.29 86.04L436.59 90.18L431.99 90.18Z" fill="#fff" stroke="#000" stroke-width="1.17"/>
<path d="M437.66 83.93L439.96 88.07L435.36 88.07Z" fill="#fff" stroke="#000" stroke-width="1.17"/>
<path d="M441.03 82.21L443.33 86.35L438.73 86.35Z" fill="#fff" stroke="#000" stroke-width="1.17"/>
<path d="M444.4 80.83L446.7 84.97L442.1 84.97Z" fill="#fff" stroke="#000" stroke-width="1.17"/>
<path d="M447.78 79.67L450.08 83.81L445.48 83.81Z" fill="#fff" stroke="#000" stroke-width="1.17"/>
<path d="M451.15 78.66L453.45 82.8L448.85 82.8Z" fill="#fff" stroke="#000" stroke-width="1.17"/>
<path d="M454.52 77.8L456.82 81.94L452.22 81.94Z" fill="#fff" stroke="#000" stroke-width="1.17"/>
<path d="M457.89 77.1L460.19 81.24L455.59 81.24Z" fill="#fff" stroke="#000" stroke-width="1.17"/>
<path d="M461.27 76.51L463.57 80.65L458.97 80.65Z" fill="#fff" stroke="#000" stroke-width="1.17"/>
<path d="M464.64 75.98L466.94 80.12L462.34 80.12Z" fill="#fff" stroke="#000" stroke-width="1.17"/>
<path d="M468.01 75.52L470.31 79.66L465.71 79.66Z" fill="#fff" stroke="#000" stroke-width="1.17"/>
<path d="M471.38 75.12L473.68 79.26L469.08 79.26Z" fill="#fff" stroke="#000" stroke-width="1.17"/>
<path d="M474.76 74.77L477.06 78.91L472.46 78.91Z" fill="#fff" stroke="#000" stroke-width="1.17"/>
<path d="M478.13 74.44L480.43 78.58L475.83 78.58Z" fill="#fff" stroke="#000" stroke-width="1.17"/>
<path d="M481.5 74.14L483.8 78.28L479.2 78.28Z" fill="#fff" stroke="#000" stroke-width="1.17"/>
<path d="M484.87 73.86L487.17 78L482.57 78Z" fill="#fff" stroke="#000" stroke-width="1.17"/>
<path d="M488.25 73.62L490.55 77.76L485.95 77.76Z" fill="#fff" stroke="#000" stroke-width="1.17"/>
<path d="M491.62 73.41L493.92 77.55L489.32 77.55Z" fill="#fff" stroke="#000" stroke-width="1.17"/>
<path d="M494.99 73.25L497.29 77.39L492.69 77.39Z" fill="#fff" stroke="#000" stroke-width="1.17"/>
<path d="M498.36 73.13L500.66 77.27L496.06 77.27Z" fill="#fff" stroke="#000" stroke-width="1.17"/>
<path d="M501.74 73.02L504.04 77.16L499.44 77.16Z" fill="#fff" stroke="#000" stroke-width="1.17"/>
<path d="M505.11 72.92L507.41 77.06L502.81 77.06Z" fill="#fff" stroke="#000" stroke-width="1.17"/>
<path d="M508.48 72.83L510.78 76.97L506.18 76.97Z" fill="#fff" stroke="#000" stroke-width="1.17"/>
<path d="M511.85 72.76L514.15 76.9L509.55 76.9Z" fill="#fff" stroke="#000" stroke-width="1.17"/>
<path d="M515.23 72.73L517.53 76.87L512.93 76.87Z" fill="#fff" stroke="#000" stroke-width="1.17"/>
<path d="M518.6 72.79L520.9 76.93L516.3 76.93Z" fill="#fff" stroke="#000" stroke-width="1.17"/>
<path d="M521.97 72.88L524.27 77.02L519.67 77.02Z" fill="#fff" stroke="#000" stroke-width="1.17"/>
<path d="M525.34 72.98L527.64 77.12L523.04 77.12Z" fill="#fff" stroke="#000" stroke-width="1.17"/>
<path d="M528.72 73.11L531.02 77.25L526.42 77.25Z" fill="#fff" stroke="#000" stroke-width="1.17"/>
<path d="M532.09 73.25L534.39 77.39L529.79 77.39Z" fill="#fff" stroke="#000" stroke-width="1.17"/>
<path d="M535.46 73.4L537.76 77.54L533.16 77.54Z" fill="#fff" stroke="#000" stroke-width="1.17"/>
<path d="M538.83 73.56L541.13 77.7L536.53 77.7Z" fill="#fff" stroke="#000" stroke-width="1.17"/>
<path d="M542.21 73.74L544.51 77.88L539.91 77.88Z" fill="#fff" stroke="#000" stroke-width="1.17"/>
<path d="M545.58 73.92L547.88 78.06L543.28 78.06Z" fill="#fff" stroke="#000" stroke-width="1.17"/>
<path d="M548.95 74.12L551.25 78.26L546.65 78.26Z" fill="#fff" stroke="#000" stroke-width="1.17"/>
<path d="M552.32 74.32L554.62 78.46L550.02 78.46Z" fill="#fff" stroke="#000" stroke-width="1.17"/>
<path d="M555.7 74.54L558 78.68L553.4 78.68Z" fill="#fff" stroke="#000" stroke-width="1.17"/>
<path d="M559.07 74.76L561.37 78.9L556.77 78.9Z" fill="#fff" stroke="#000" stroke-width="1.17"/>
<path d="M562.44 74.99L564.74 79.13L560.14 79.13Z" fill="#fff" stroke="#000" stroke-width="1.17"/>
<path d="M565.81 75.23L568.11 79.37L563.51 79.37Z" fill="#fff" stroke="#000" stroke-width="1.17"/>
<path d="M569.19 75.48L571.49 79.62L566.89 79.62Z" fill="#fff" stroke="#000" stroke-width="1.17"/>
<path d="M572.56 75.73L574.86 79.87L570.26 79.87Z" fill="#fff" stroke="#000" stroke-width="1.17"/>
<path d="M575.93 76L578.23 80.14L573.63 80.14Z" fill="#fff" stroke="#000" stroke-width="1.17"/>
<path d="M579.3 76.27L581.6 80.41L577 80.41Z" fill="#fff" stroke="#000" stroke-width="1.17"/>
<path d="M582.68 76.54L584.98 80.68L580.38 80.68Z" fill="#fff" stroke="#000" stroke-width="1.17"/>
<path d="M586.05 76.83L588.35 80.97L583.75 80.97Z" fill="#fff" stroke="#000" stroke-width="1.17"/>
<path d="M589.42 77.12L591.72 81.26L587.12 81.26Z" fill="#fff" stroke="#000" stroke-width="1.17"/>
<path d="M592.79 77.41L595.09 81.55L590.49 81.55Z" fill="#fff" stroke="#000" stroke-width="1.17"/>
<path d="M596.17 77.72L598.47 81.86L593.87 81.86Z" fill="#fff" stroke="#000" stroke-width="1.17"/>
<path d="M599.54 78.02L601.84 82.16L597.24 82.16Z" fill="#fff" stroke="#000" stroke-width="1.17"/>
<path d="M602.91 78.34L605.21 82.48L600.61 82.48Z" fill="#fff" stroke="#000" stroke-width="1.17"/>
<path d="M606.28 78.66L608.58 82.8L603.98 82.8Z" fill="#fff" stroke="#000" stroke-width="1.17"/>
<path d="M609.66 78.99L611.96 83.13L607.36 83.13Z" fill="#fff" stroke="#000" stroke-width="1.17"/>
<path d="M613.03 79.32L615.33 83.46L610.73 83.46Z" fill="#fff" stroke="#000" stroke-width="1.17"/>
<path d="M616.4 79.66L618.7 83.8L614.1 83.8Z" fill="#fff" stroke="#000" stroke-width="1.17"/>
<path d="M619.77 80.01L622.07 84.15L617.47 84.15Z" fill="#fff" stroke="#000" stroke-width="1.17"/>
<path d="M623.15 80.36L625.45 84.5L620.85 84.5Z" fill="#fff" stroke="#000" stroke-width="1.17"/>
<path d="M626.52 80.71L628.82 84.85L624.22 84.85Z" fill="#fff" stroke="#000" stroke-width="1.17"/>
<path d="M629.89 81.07L632.19 85.21L627.59 85.21Z" fill="#fff" stroke="#000" stroke-width="1.17"/>
<path d="M633.26 81.44L635.56 85.58L630.96 85.58Z" fill="#fff" stroke="#000" stroke-width="1.17"/>
<path d="M636.64 81.81L638.94 85.95L634.34 85.95Z" fill="#fff" stroke="#000" stroke-width="1.17"/>
<path d="M640.01 82.19L642.31 86.33L637.71 86.33Z" fill="#fff" stroke="#000" stroke-width="1.17"/>
<path d="M643.38 82.57L645.68 86.71L641.08 86.71Z" fill="#fff" stroke="#000" stroke-width="1.17"/>
<line x1="377.7" y1="147.3" x2="383.7" y2="147.3" stroke="#000" stroke-width="1.4"/>
<line x1="381.07" y1="147.29" x2="387.07" y2="147.29" stroke="#000" stroke-width="1.4"/>
<line x1="384.44" y1="147.29" x2="390.44" y2="147.29" stroke="#000" stroke-width="1.4"/>
<line x1="387.82" y1="147.27" x2="393.82" y2="147.27" stroke="#000" stroke-width="1.4"/>
<line x1="391.19" y1="147.25" x2="397.19" y2="147.25" stroke="#000" stroke-width="1.4"/>
<line x1="394.56" y1="147.22" x2="400.56" y2="147.22" stroke="#000" stroke-width="1.4"/>
<line x1="397.93" y1="147.17" x2="403.93" y2="147.17" stroke="#000" stroke-width="1.4"/>
<line x1="401.31" y1="147.11" x2="407.31" y2="147.11" stroke="#000" stroke-width="1.4"/>
<line x1="404.68" y1="146" x2="410.68" y2="146" stroke="#000" stroke-width="1.4"/>
<line x1="408.05" y1="137.65" x2="414.05" y2="137.65" stroke="#000" stroke-width="1.4"/>
<line x1="411.42" y1="128.34" x2="417.42" y2="128.34" stroke="#000" stroke-width="1.4"/>
<line x1="414.8" y1="118.6" x2="420.8" y2="118.6" stroke="#000" stroke-width="1.4"/>
<line x1="418.17" y1="110.14" x2="424.17" y2="110.14" stroke="#000" stroke-width="1.4"/>
<line x1="421.54" y1="105.26" x2="427.54" y2="105.26" stroke="#000" stroke-width="1.4"/>
<line x1="424.91" y1="100.9" x2="430.91" y2="100.9" stroke="#000" stroke-width="1.4"/>
<line x1="428.29" y1="96.88" x2="434.29" y2="96.88" stroke="#000" stroke-width="1.4"/>
<line x1="431.66" y1="94.05" x2="437.66" y2="94.05" stroke="#000" stroke-width="1.4"/>
<line x1="435.03" y1="92.11" x2="441.03" y2="92.11" stroke="#000" stroke-width="1.4"/>
<line x1="438.4" y1="90.52" x2="444.4" y2="90.52" stroke="#000" stroke-width="1.4"/>
<line x1="441.78" y1="89.24" x2="447.78" y2="89.24" stroke="#000" stroke-width="1.4"/>
<line x1="445.15" y1="88.18" x2="451.15" y2="88.18" stroke="#000" stroke-width="1.4"/>
<line x1="448.52" y1="87.25" x2="454.52" y2="87.25" stroke="#000" stroke-width="1.4"/>
<line x1="451.89" y1="86.45" x2="457.89" y2="86.45" stroke="#000" stroke-width="1.4"/>
<line x1="455.27" y1="85.81" x2="461.27" y2="85.81" stroke="#000" stroke-width="1.4"/>
<line x1="458.64" y1="85.26" x2="464.64" y2="85.26" stroke="#000" stroke-width="1.4"/>
<line x1="462.01" y1="84.78" x2="468.01" y2="84.78" stroke="#000" stroke-width="1.4"/>
<line x1="465.38" y1="84.36" x2="471.38" y2="84.36" stroke="#000" stroke-width="1.4"/>
<line x1="468.76" y1="83.99" x2="474.76" y2="83.99" stroke="#000" stroke-width="1.4"/>
<line x1="472.13" y1="83.66" x2="478.13" y2="83.66" stroke="#000" stroke-width="1.4"/>
<line x1="475.5" y1="83.37" x2="481.5" y2="83.37" stroke="#000" stroke-width="1.4"/>
<line x1="478.87" y1="83.09" x2="484.87" y2="83.09" stroke="#000" stroke-width="1.4"/>
<line x1="482.25" y1="82.83" x2="488.25" y2="82.83" stroke="#000" stroke-width="1.4"/>
<line x1="485.62" y1="82.6" x2="491.62" y2="82.6" stroke="#000" stroke-width="1.4"/>
<line x1="488.99" y1="82.41" x2="494.99" y2="82.41" stroke="#000" stroke-width="1.4"/>
<line x1="492.36" y1="82.26" x2="498.36" y2="82.26" stroke="#000" stroke-width="1.4"/>
<line x1="495.74" y1="82.15" x2="501.74" y2="82.15" stroke="#000" stroke-width="1.4"/>
<line x1="499.11" y1="82.05" x2="505.11" y2="82.05" stroke="#000" stroke-width="1.4"/>
<line x1="502.48" y1="81.96" x2="508.48" y2="81.96" stroke="#000" stroke-width="1.4"/>
<line x1="505.85" y1="81.88" x2="511.85" y2="81.88" stroke="#000" stroke-width="1.4"/>
<line x1="509.23" y1="81.79" x2="515.23" y2="81.79" stroke="#000" stroke-width="1.4"/>
<line x1="512.6" y1="81.83" x2="518.6" y2="81.83" stroke="#000" stroke-width="1.4"/>
<line x1="515.97" y1="81.89" x2="521.97" y2="81.89" stroke="#000" stroke-width="1.4"/>
<line x1="519.34" y1="81.97" x2="525.34" y2="81.97" stroke="#000" stroke-width="1.4"/>
<line x1="522.72" y1="82.06" x2="528.72" y2="82.06" stroke="#000" stroke-width="1.4"/>
<line x1="526.09" y1="82.16" x2="532.09" y2="82.16" stroke="#000" stroke-width="1.4"/>
<line x1="529.46" y1="82.27" x2="535.46" y2="82.27" stroke="#000" stroke-width="1.4"/>
<line x1="532.83" y1="82.39" x2="538.83" y2="82.39" stroke="#000" stroke-width="1.4"/>
<line x1="536.21" y1="82.51" x2="542.21" y2="82.51" stroke="#000" stroke-width="1.4"/>
<line x1="539.58" y1="82.65" x2="545.58" y2="82.65" stroke="#000" stroke-width="1.4"/>
<line x1="542.95" y1="82.79" x2="548.95" y2="82.79" stroke="#000" stroke-width="1.4"/>
<line x1="546.32" y1="82.94" x2="552.32" y2="82.94" stroke="#000" stroke-width="1.4"/>
<line x1="549.7" y1="83.09" x2="555.7" y2="83.09" stroke="#000" stroke-width="1.4"/>
<line x1="553.07" y1="83.25" x2="559.07" y2="83.25" stroke="#000" stroke-width="1.4"/>
<line x1="556.44" y1="83.42" x2="562.44" y2="83.42" stroke="#000" stroke-width="1.4"/>
<line x1="559.81" y1="83.6" x2="565.81" y2="83.6" stroke="#000" stroke-width="1.4"/>
<line x1="563.19" y1="83.78" x2="569.19" y2="83.78" stroke="#000" stroke-width="1.4"/>
<line x1="566.56" y1="83.96" x2="572.56" y2="83.96" stroke="#000" stroke-width="1.4"/>
<line x1="569.93" y1="84.15" x2="575.93" y2="84.15" stroke="#000" stroke-width="1.4"/>
<line x1="573.3" y1="84.35" x2="579.3" y2="84.35" stroke="#000" stroke-width="1.4"/>
<line x1="576.68" y1="84.55" x2="582.68" y2="84.55" stroke="#000" stroke-width="1.4"/>
<line x1="580.05" y1="84.75" x2="586.05" y2="84.75" stroke="#000" stroke-width="1.4"/>
<line x1="583.42" y1="84.96" x2="589.42" y2="84.96" stroke="#000" stroke-width="1.4"/>
<line x1="586.79" y1="85.18" x2="592.79" y2="85.18" stroke="#000" stroke-width="1.4"/>
<line x1="590.17" y1="85.4" x2="596.17" y2="85.4" stroke="#000" stroke-width="1.4"/>
<line x1="593.54" y1="85.62" x2="599.54" y2="85.62" stroke="#000" stroke-width="1.4"/>
<line x1="596.91" y1="85.85" x2="602.91" y2="85.85" stroke="#000" stroke-width="1.4"/>
<line x1="600.28" y1="86.08" x2="606.28" y2="86.08" stroke="#000" stroke-width="1.4"/>
<line x1="603.66" y1="86.32" x2="609.66" y2="86.32" stroke="#000" stroke-width="1.4"/>
<line x1="607.03" y1="86.56" x2="613.03" y2="86.56" stroke="#000" stroke-width="1.4"/>
<line x1="610.4" y1="86.81" x2="616.4" y2="86.81" stroke="#000" stroke-width="1.4"/>
<line x1="613.77" y1="87.06" x2="619.77" y2="87.06" stroke="#000" stroke-width="1.4"/>
<line x1="617.15" y1="87.31" x2="623.15" y2="87.31" stroke="#000" stroke-width="1.4"/>
<line x1="620.52" y1="87.57" x2="626.52" y2="87.57" stroke="#000" stroke-width="1.4"/>
<line x1="623.89" y1="87.83" x2="629.89" y2="87.83" stroke="#000" stroke-width="1.4"/>
<line x1="627.26" y1="88.1" x2="633.26" y2="88.1" stroke="#000" stroke-width="1.4"/>
<line x1="630.64" y1="88.37" x2="636.64" y2="88.37" stroke="#000" stroke-width="1.4"/>
<line x1="634.01" y1="88.64" x2="640.01" y2="88.64" stroke="#000" stroke-width="1.4"/>
<line x1="637.38" y1="88.92" x2="643.38" y2="88.92" stroke="#000" stroke-width="1.4"/>
<line x1="381.5" y1="144" x2="385.9" y2="148.4" stroke="#000" stroke-width="1.17"/>
<line x1="381.5" y1="148.4" x2="385.9" y2="144" stroke="#000" stroke-width="1.17"/>
<line x1="384.87" y1="144" x2="389.27" y2="148.4" stroke="#000" stroke-width="1.17"/>
<line x1="384.87" y1="148.4" x2="389.27" y2="144" stroke="#000" stroke-width="1.17"/>
<line x1="388.24" y1="143.99" x2="392.64" y2="148.39" stroke="#000" stroke-width="1.17"/>
<line x1="388.24" y1="148.39" x2="392.64" y2="143.99" stroke="#000" stroke-width="1.17"/>
<line x1="391.62" y1="143.98" x2="396.02" y2="148.38" stroke="#000" stroke-width="1.17"/>
<line x1="391.62" y1="148.38" x2="396.02" y2="143.98" stroke="#000" stroke-width="1.17"/>
<line x1="394.99" y1="143.95" x2="399.39" y2="148.35" stroke="#000" stroke-width="1.17"/>
<line x1="394.99" y1="148.35" x2="399.39" y2="143.95" stroke="#000" stroke-width="1.17"/>
<line x1="398.36" y1="143.9" x2="402.76" y2="148.3" stroke="#000" stroke-width="1.17"/>
<line x1="398.36" y1="148.3" x2="402.76" y2="143.9" stroke="#000" stroke-width="1.17"/>
<line x1="401.73" y1="143.84" x2="406.13" y2="148.24" stroke="#000" stroke-width="1.17"/>
<line x1="401.73" y1="148.24" x2="406.13" y2="143.84" stroke="#000" stroke-width="1.17"/>
<line x1="405.11" y1="143.7" x2="409.51" y2="148.1" stroke="#000" stroke-width="1.17"/>
<line x1="405.11" y1="148.1" x2="409.51" y2="143.7" stroke="#000" stroke-width="1.17"/>
<line x1="408.48" y1="139.22" x2="412.88" y2="143.62" stroke="#000" stroke-width="1.17"/>
<line x1="408.48" y1="143.62" x2="412.88" y2="139.22" stroke="#000" stroke-width="1.17"/>
<line x1="411.85" y1="128.37" x2="416.25" y2="132.77" stroke="#000" stroke-width="1.17"/>
<line x1="411.85" y1="132.77" x2="416.25" y2="128.37" stroke="#000" stroke-width="1.17"/>
<line x1="415.22" y1="118.8" x2="419.62" y2="123.2" stroke="#000" stroke-width="1.17"/>
<line x1="415.22" y1="123.2" x2="419.62" y2="118.8" stroke="#000" stroke-width="1.17"/>
<line x1="418.6" y1="108.6" x2="423" y2="113" stroke="#000" stroke-width="1.17"/>
<line x1="418.6" y1="113" x2="423" y2="108.6" stroke="#000" stroke-width="1.17"/>
<line x1="421.97" y1="101.82" x2="426.37" y2="106.22" stroke="#000" stroke-width="1.17"/>
<line x1="421.97" y1="106.22" x2="426.37" y2="101.82" stroke="#000" stroke-width="1.17"/>
<line x1="425.34" y1="97.11" x2="429.74" y2="101.51" stroke="#000" stroke-width="1.17"/>
<line x1="425.34" y1="101.51" x2="429.74" y2="97.11" stroke="#000" stroke-width="1.17"/>
<line x1="428.71" y1="92.62" x2="433.11" y2="97.02" stroke="#000" stroke-width="1.17"/>
<line x1="428.71" y1="97.02" x2="433.11" y2="92.62" stroke="#000" stroke-width="1.17"/>
<line x1="432.09" y1="88.93" x2="436.49" y2="93.33" stroke="#000" stroke-width="1.17"/>
<line x1="432.09" y1="93.33" x2="436.49" y2="88.93" stroke="#000" stroke-width="1.17"/>
<line x1="435.46" y1="86.54" x2="439.86" y2="90.94" stroke="#000" stroke-width="1.17"/>
<line x1="435.46" y1="90.94" x2="439.86" y2="86.54" stroke="#000" stroke-width="1.17"/>
<line x1="438.83" y1="84.7" x2="443.23" y2="89.1" stroke="#000" stroke-width="1.17"/>
<line x1="438.83" y1="89.1" x2="443.23" y2="84.7" stroke="#000" stroke-width="1.17"/>
<line x1="442.2" y1="83.19" x2="446.6" y2="87.59" stroke="#000" stroke-width="1.17"/>
<line x1="442.2" y1="87.59" x2="446.6" y2="83.19" stroke="#000" stroke-width="1.17"/>
<line x1="445.58" y1="81.97" x2="449.98" y2="86.37" stroke="#000" stroke-width="1.17"/>
<line x1="445.58" y1="86.37" x2="449.98" y2="81.97" stroke="#000" stroke-width="1.17"/>
<line x1="448.95" y1="80.92" x2="453.35" y2="85.32" stroke="#000" stroke-width="1.17"/>
<line x1="448.95" y1="85.32" x2="453.35" y2="80.92" stroke="#000" stroke-width="1.17"/>
<line x1="452.32" y1="80" x2="456.72" y2="84.4" stroke="#000" stroke-width="1.17"/>
<line x1="452.32" y1="84.4" x2="456.72" y2="80" stroke="#000" stroke-width="1.17"/>
<line x1="455.69" y1="79.25" x2="460.09" y2="83.65" stroke="#000" stroke-width="1.17"/>
<line x1="455.69" y1="83.65" x2="460.09" y2="79.25" stroke="#000" stroke-width="1.17"/>
<line x1="459.07" y1="78.63" x2="463.47" y2="83.03" stroke="#000" stroke-width="1.17"/>
<line x1="459.07" y1="83.03" x2="463.47" y2="78.63" stroke="#000" stroke-width="1.17"/>
<line x1="462.44" y1="78.09" x2="466.84" y2="82.49" stroke="#000" stroke-width="1.17"/>
<line x1="462.44" y1="82.49" x2="466.84" y2="78.09" stroke="#000" stroke-width="1.17"/>
<line x1="465.81" y1="77.61" x2="470.21" y2="82.01" stroke="#000" stroke-width="1.17"/>
<line x1="465.81" y1="82.01" x2="470.21" y2="77.61" stroke="#000" stroke-width="1.17"/>
<line x1="469.18" y1="77.19" x2="473.58" y2="81.59" stroke="#000" stroke-width="1.17"/>
<line x1="469.18" y1="81.59" x2="473.58" y2="77.19" stroke="#000" stroke-width="1.17"/>
<line x1="472.56" y1="76.82" x2="476.96" y2="81.22" stroke="#000" stroke-width="1.17"/>
<line x1="472.56" y1="81.22" x2="476.96" y2="76.82" stroke="#000" stroke-width="1.17"/>
<line x1="475.93" y1="76.5" x2="480.33" y2="80.9" stroke="#000" stroke-width="1.17"/>
<line x1="475.93" y1="80.9" x2="480.33" y2="76.5" stroke="#000" stroke-width="1.17"/>
<line x1="479.3" y1="76.2" x2="483.7" y2="80.6" stroke="#000" stroke-width="1.17"/>
<line x1="479.3" y1="80.6" x2="483.7" y2="76.2" stroke="#000" stroke-width="1.17"/>
<line x1="482.67" y1="75.91" x2="487.07" y2="80.31" stroke="#000" stroke-width="1.17"/>
<line x1="482.67" y1="80.31" x2="487.07" y2="75.91" stroke="#000" stroke-width="1.17"/>
<line x1="486.05" y1="75.66" x2="490.45" y2="80.06" stroke="#000" stroke-width="1.17"/>
<line x1="486.05" y1="80.06" x2="490.45" y2="75.66" stroke="#000" stroke-width="1.17"/>
<line x1="489.42" y1="75.43" x2="493.82" y2="79.83" stroke="#000" stroke-width="1.17"/>
<line x1="489.42" y1="79.83" x2="493.82" y2="75.43" stroke="#000" stroke-width="1.17"/>
<line x1="492.79" y1="75.25" x2="497.19" y2="79.65" stroke="#000" stroke-width="1.17"/>
<line x1="492.79" y1="79.65" x2="497.19" y2="75.25" stroke="#000" stroke-width="1.17"/>
<line x1="496.16" y1="75.12" x2="500.56" y2="79.52" stroke="#000" stroke-width="1.17"/>
<line x1="496.16" y1="79.52" x2="500.56" y2="75.12" stroke="#000" stroke-width="1.17"/>
<line x1="499.54" y1="75.01" x2="503.94" y2="79.41" stroke="#000" stroke-width="1.17"/>
<line x1="499.54" y1="79.41" x2="503.94" y2="75.01" stroke="#000" stroke-width="1.17"/>
<line x1="502.91" y1="74.91" x2="507.31" y2="79.31" stroke="#000" stroke-width="1.17"/>
<line x1="502.91" y1="79.31" x2="507.31" y2="74.91" stroke="#000" stroke-width="1.17"/>
<line x1="506.28" y1="74.81" x2="510.68" y2="79.21" stroke="#000" stroke-width="1.17"/>
<line x1="506.28" y1="79.21" x2="510.68" y2="74.81" stroke="#000" stroke-width="1.17"/>
<line x1="509.65" y1="74.74" x2="514.05" y2="79.14" stroke="#000" stroke-width="1.17"/>
<line x1="509.65" y1="79.14" x2="514.05" y2="74.74" stroke="#000" stroke-width="1.17"/>
<line x1="513.03" y1="74.68" x2="517.43" y2="79.08" stroke="#000" stroke-width="1.17"/>
<line x1="513.03" y1="79.08" x2="517.43" y2="74.68" stroke="#000" stroke-width="1.17"/>
<line x1="516.4" y1="74.73" x2="520.8" y2="79.13" stroke="#000" stroke-width="1.17"/>
<line x1="516.4" y1="79.13" x2="520.8" y2="74.73" stroke="#000" stroke-width="1.17"/>
<line x1="519.77" y1="74.81" x2="524.17" y2="79.21" stroke="#000" stroke-width="1.17"/>
<line x1="519.77" y1="79.21" x2="524.17" y2="74.81" stroke="#000" stroke-width="1.17"/>
<line x1="523.14" y1="74.91" x2="527.54" y2="79.31" stroke="#000" stroke-width="1.17"/>
<line x1="523.14" y1="79.31" x2="527.54" y2="74.91" stroke="#000" stroke-width="1.17"/>
<line x1="526.52" y1="75.03" x2="530.92" y2="79.43" stroke="#000" stroke-width="1.17"/>
<line x1="526.52" y1="79.43" x2="530.92" y2="75.03" stroke="#000" stroke-width="1.17"/>
<line x1="529.89" y1="75.16" x2="534.29" y2="79.56" stroke="#000" stroke-width="1.17"/>
<line x1="529.89" y1="79.56" x2="534.29" y2="75.16" stroke="#000" stroke-width="1.17"/>
<line x1="533.26" y1="75.3" x2="537.66" y2="79.7" stroke="#000" stroke-width="1.17"/>
<line x1="533.26" y1="79.7" x2="537.66" y2="75.3" stroke="#000" stroke-width="1.17"/>
<line x1="536.63" y1="75.46" x2="541.03" y2="79.86" stroke="#000" stroke-width="1.17"/>
<line x1="536.63" y1="79.86" x2="541.03" y2="75.46" stroke="#000" stroke-width="1.17"/>
<line x1="540.01" y1="75.62" x2="544.41" y2="80.02" stroke="#000" stroke-width="1.17"/>
<line x1="540.01" y1="80.02" x2="544.41" y2="75.62" stroke="#000" stroke-width="1.17"/>
<line x1="543.38" y1="75.79" x2="547.78" y2="80.19" stroke="#000" stroke-width="1.17"/>
<line x1="543.38" y1="80.19" x2="547.78" y2="75.79" stroke="#000" stroke-width="1.17"/>
<line x1="546.75" y1="75.98" x2="551.15" y2="80.38" stroke="#000" stroke-width="1.17"/>
<line x1="546.75" y1="80.38" x2="551.15" y2="75.98" stroke="#000" stroke-width="1.17"/>
<line x1="550.12" y1="76.17" x2="554.52" y2="80.57" stroke="#000" stroke-width="1.17"/>
<line x1="550.12" y1="80.57" x2="554.52" y2="76.17" stroke="#000" stroke-width="1.17"/>
<line x1="553.5" y1="76.37" x2="557.9" y2="80.77" stroke="#000" stroke-width="1.17"/>
<line x1="553.5" y1="80.77" x2="557.9" y2="76.37" stroke="#000" stroke-width="1.17"/>
<line x1="556.87" y1="76.58" x2="561.27" y2="80.98" stroke="#000" stroke-width="1.17"/>
<line x1="556.87" y1="80.98" x2="561.27" y2="76.58" stroke="#000" stroke-width="1.17"/>
<line x1="560.24" y1="76.8" x2="564.64" y2="81.2" stroke="#000" stroke-width="1.17"/>
<line x1="560.24" y1="81.2" x2="564.64" y2="76.8" stroke="#000" stroke-width="1.17"/>
<line x1="563.61" y1="77.02" x2="568.01" y2="81.42" stroke="#000" stroke-width="1.17"/>
<line x1="563.61" y1="81.42" x2="568.01" y2="77.02" stroke="#000" stroke-width="1.17"/>
<line x1="566.99" y1="77.25" x2="571.39" y2="81.65" stroke="#000" stroke-width="1.17"/>
<line x1="566.99" y1="81.65" x2="571.39" y2="77.25" stroke="#000" stroke-width="1.17"/>
<line x1="570.36" y1="77.49" x2="574.76" y2="81.89" stroke="#000" stroke-width="1.17"/>
<line x1="570.36" y1="81.89" x2="574.76" y2="77.49" stroke="#000" stroke-width="1.17"/>
<line x1="573.73" y1="77.74" x2="578.13" y2="82.14" stroke="#000" stroke-width="1.17"/>
<line x1="573.73" y1="82.14" x2="578.13" y2="77.74" stroke="#000" stroke-width="1.17"/>
<line x1="577.1" y1="77.99" x2="581.5" y2="82.39" stroke="#000" stroke-width="1.17"/>
<line x1="577.1" y1="82.39" x2="581.5" y2="77.99" stroke="#000" stroke-width="1.17"/>
<line x1="580.48" y1="78.25" x2="584.88" y2="82.65" stroke="#000" stroke-width="1.17"/>
<line x1="580.48" y1="82.65" x2="584.88" y2="78.25" stroke="#000" stroke-width="1.17"/>
<line x1="583.85" y1="78.52" x2="588.25" y2="82.92" stroke="#000" stroke-width="1.17"/>
<line x1="583.85" y1="82.92" x2="588.25" y2="78.52" stroke="#000" stroke-width="1.17"/>
<line x1="587.22" y1="78.79" x2="591.62" y2="83.19" stroke="#000" stroke-width="1.17"/>
<line x1="587.22" y1="83.19" x2="591.62" y2="78.79" stroke="#000" stroke-width="1.17"/>
<line x1="590.59" y1="79.07" x2="594.99" y2="83.47" stroke="#000" stroke-width="1.17"/>
<line x1="590.59" y1="83.47" x2="594.99" y2="79.07" stroke="#000" stroke-width="1.17"/>
<line x1="593.97" y1="79.35" x2="598.37" y2="83.75" stroke="#000" stroke-width="1.17"/>
<line x1="593.97" y1="83.75" x2="598.37" y2="79.35" stroke="#000" stroke-width="1.17"/>
<line x1="597.34" y1="79.64" x2="601.74" y2="84.04" stroke="#000" stroke-width="1.17"/>
<line x1="597.34" y1="84.04" x2="601.74" y2="79.64" stroke="#000" stroke-width="1.17"/>
<line x1="600.71" y1="79.94" x2="605.11" y2="84.34" stroke="#000" stroke-width="1.17"/>
<line x1="600.71" y1="84.34" x2="605.11" y2="79.94" stroke="#000" stroke-width="1.17"/>
<line x1="604.08" y1="80.24" x2="608.48" y2="84.64" stroke="#000" stroke-width="1.17"/>
<line x1="604.08" y1="84.64" x2="608.48" y2="80.24" stroke="#000" stroke-width="1.17"/>
<line x1="607.46" y1="80.54" x2="611.86" y2="84.94" stroke="#000" stroke-width="1.17"/>
<line x1="607.46" y1="84.94" x2="611.86" y2="80.54" stroke="#000" stroke-width="1.17"/>
<line x1="610.83" y1="80.86" x2="615.23" y2="85.26" stroke="#000" stroke-width="1.17"/>
<line x1="610.83" y1="85.26" x2="615.23" y2="80.86" stroke="#000" stroke-width="1.17"/>
<line x1="614.2" y1="81.17" x2="618.6" y2="85.57" stroke="#000" stroke-width="1.17"/>
<line x1="614.2" y1="85.57" x2="618.6" y2="81.17" stroke="#000" stroke-width="1.17"/>
<line x1="617.57" y1="81.5" x2="621.97" y2="85.9" stroke="#000" stroke-width="1.17"/>
<line x1="617.57" y1="85.9" x2="621.97" y2="81.5" stroke="#000" stroke-width="1.17"/>
<line x1="620.95" y1="81.83" x2="625.35" y2="86.23" stroke="#000" stroke-width="1.17"/>
<line x1="620.95" y1="86.23" x2="625.35" y2="81.83" stroke="#000" stroke-width="1.17"/>
<line x1="624.32" y1="82.16" x2="628.72" y2="86.56" stroke="#000" stroke-width="1.17"/>
<line x1="624.32" y1="86.56" x2="628.72" y2="82.16" stroke="#000" stroke-width="1.17"/>
<line x1="627.69" y1="82.5" x2="632.09" y2="86.9" stroke="#000" stroke-width="1.17"/>
<line x1="627.69" y1="86.9" x2="632.09" y2="82.5" stroke="#000" stroke-width="1.17"/>
<line x1="631.06" y1="82.84" x2="635.46" y2="87.24" stroke="#000" stroke-width="1.17"/>
<line x1="631.06" y1="87.24" x2="635.46" y2="82.84" stroke="#000" stroke-width="1.17"/>
<line x1="634.44" y1="83.19" x2="638.84" y2="87.59" stroke="#000" stroke-width="1.17"/>
<line x1="634.44" y1="87.59" x2="638.84" y2="83.19" stroke="#000" stroke-width="1.17"/>
<line x1="637.81" y1="83.54" x2="642.21" y2="87.94" stroke="#000" stroke-width="1.17"/>
<line x1="637.81" y1="87.94" x2="642.21" y2="83.54" stroke="#000" stroke-width="1.17"/>
<line x1="641.18" y1="83.9" x2="645.58" y2="88.3" stroke="#000" stroke-width="1.17"/>
<line x1="641.18" y1="88.3" x2="645.58" y2="83.9" stroke="#000" stroke-width="1.17"/>
<path d="M383.7 137.85L385.9 140.05L383.7 142.25L381.5 140.05Z" fill="#0d0d4a" stroke="none"/>
<path d="M387.07 137.85L389.27 140.05L387.07 142.25L384.87 140.05Z" fill="#0d0d4a" stroke="none"/>
<path d="M390.44 137.85L392.64 140.05L390.44 142.25L388.24 140.05Z" fill="#0d0d4a" stroke="none"/>
<path d="M393.82 137.85L396.02 140.05L393.82 142.25L391.62 140.05Z" fill="#0d0d4a" stroke="none"/>
<path d="M397.19 137.85L399.39 140.05L397.19 142.25L394.99 140.05Z" fill="#0d0d4a" stroke="none"/>
<path d="M400.56 137.85L402.76 140.05L400.56 142.25L398.36 140.05Z" fill="#0d0d4a" stroke="none"/>
<path d="M403.93 137.82L406.13 140.02L403.93 142.22L401.73 140.02Z" fill="#0d0d4a" stroke="none"/>
<path d="M407.31 137.73L409.51 139.93L407.31 142.13L405.11 139.93Z" fill="#0d0d4a" stroke="none"/>
<path d="M410.68 137.55L412.88 139.75L410.68 141.95L408.48 139.75Z" fill="#0d0d4a" stroke="none"/>
<path d="M414.05 137.06L416.25 139.26L414.05 141.46L411.85 139.26Z" fill="#0d0d4a" stroke="none"/>
<path d="M417.42 132.99L419.62 135.19L417.42 137.39L415.22 135.19Z" fill="#0d0d4a" stroke="none"/>
<path d="M420.8 123.14L423 125.34L420.8 127.54L418.6 125.34Z" fill="#0d0d4a" stroke="none"/>
<path d="M424.17 111.57L426.37 113.77L424.17 115.97L421.97 113.77Z" fill="#0d0d4a" stroke="none"/>
<path d="M427.54 101.6L429.74 103.8L427.54 106L425.34 103.8Z" fill="#0d0d4a" stroke="none"/>
<path d="M430.91 94.25L433.11 96.45L430.91 98.65L428.71 96.45Z" fill="#0d0d4a" stroke="none"/>
<path d="M434.29 89.62L436.49 91.82L434.29 94.02L432.09 91.82Z" fill="#0d0d4a" stroke="none"/>
<path d="M437.66 86.46L439.86 88.66L437.66 90.86L435.46 88.66Z" fill="#0d0d4a" stroke="none"/>
<path d="M441.03 84.39L443.23 86.59L441.03 88.79L438.83 86.59Z" fill="#0d0d4a" stroke="none"/>
<path d="M444.4 82.78L446.6 84.98L444.4 87.18L442.2 84.98Z" fill="#0d0d4a" stroke="none"/>
<path d="M447.78 81.64L449.98 83.84L447.78 86.04L445.58 83.84Z" fill="#0d0d4a" stroke="none"/>
<path d="M451.15 80.89L453.35 83.09L451.15 85.29L448.95 83.09Z" fill="#0d0d4a" stroke="none"/>
<path d="M454.52 80.25L456.72 82.45L454.52 84.65L452.32 82.45Z" fill="#0d0d4a" stroke="none"/>
<path d="M457.89 79.71L460.09 81.91L457.89 84.11L455.69 81.91Z" fill="#0d0d4a" stroke="none"/>
<path d="M461.27 79.26L463.47 81.46L461.27 83.66L459.07 81.46Z" fill="#0d0d4a" stroke="none"/>
<path d="M464.64 78.87L466.84 81.07L464.64 83.27L462.44 81.07Z" fill="#0d0d4a" stroke="none"/>
<path d="M468.01 78.55L470.21 80.75L468.01 82.95L465.81 80.75Z" fill="#0d0d4a" stroke="none"/>
<path d="M471.38 78.27L473.58 80.47L471.38 82.67L469.18 80.47Z" fill="#0d0d4a" stroke="none"/>
<path d="M474.76 78.01L476.96 80.21L474.76 82.41L472.56 80.21Z" fill="#0d0d4a" stroke="none"/>
<path d="M478.13 77.77L480.33 79.97L478.13 82.17L475.93 79.97Z" fill="#0d0d4a" stroke="none"/>
<path d="M481.5 77.57L483.7 79.77L481.5 81.97L479.3 79.77Z" fill="#0d0d4a" stroke="none"/>
<path d="M484.87 77.39L487.07 79.59L484.87 81.79L482.67 79.59Z" fill="#0d0d4a" stroke="none"/>
<path d="M488.25 77.24L490.45 79.44L488.25 81.64L486.05 79.44Z" fill="#0d0d4a" stroke="none"/>
<path d="M491.62 77.13L493.82 79.33L491.62 81.53L489.42 79.33Z" fill="#0d0d4a" stroke="none"/>
<path d="M494.99 77.04L497.19 79.24L494.99 81.44L492.79 79.24Z" fill="#0d0d4a" stroke="none"/>
<path d="M498.36 76.96L500.56 79.16L498.36 81.36L496.16 79.16Z" fill="#0d0d4a" stroke="none"/>
<path d="M501.74 76.89L503.94 79.09L501.74 81.29L499.54 79.09Z" fill="#0d0d4a" stroke="none"/>
<path d="M505.11 76.83L507.31 79.03L505.11 81.23L502.91 79.03Z" fill="#0d0d4a" stroke="none"/>
<path d="M508.48 76.78L510.68 78.98L508.48 81.18L506.28 78.98Z" fill="#0d0d4a" stroke="none"/>
<path d="M511.85 76.76L514.05 78.96L511.85 81.16L509.65 78.96Z" fill="#0d0d4a" stroke="none"/>
<path d="M515.23 76.75L517.43 78.95L515.23 81.15L513.03 78.95Z" fill="#0d0d4a" stroke="none"/>
<path d="M518.6 76.75L520.8 78.95L518.6 81.15L516.4 78.95Z" fill="#0d0d4a" stroke="none"/>
<path d="M521.97 76.75L524.17 78.95L521.97 81.15L519.77 78.95Z" fill="#0d0d4a" stroke="none"/>
<path d="M525.34 76.75L527.54 78.95L525.34 81.15L523.14 78.95Z" fill="#0d0d4a" stroke="none"/>
<path d="M528.72 76.75L530.92 78.95L528.72 81.15L526.52 78.95Z" fill="#0d0d4a" stroke="none"/>
<path d="M532.09 76.75L534.29 78.95L532.09 81.15L529.89 78.95Z" fill="#0d0d4a" stroke="none"/>
<path d="M535.46 76.75L537.66 78.95L535.46 81.15L533.26 78.95Z" fill="#0d0d4a" stroke="none"/>
<path d="M538.83 76.75L541.03 78.95L538.83 81.15L536.63 78.95Z" fill="#0d0d4a" stroke="none"/>
<path d="M542.21 76.75L544.41 78.95L542.21 81.15L540.01 78.95Z" fill="#0d0d4a" stroke="none"/>
<path d="M545.58 76.75L547.78 78.95L545.58 81.15L543.38 78.95Z" fill="#0d0d4a" stroke="none"/>
<path d="M548.95 76.75L551.15 78.95L548.95 81.15L546.75 78.95Z" fill="#0d0d4a" stroke="none"/>
<path d="M552.32 76.75L554.52 78.95L552.32 81.15L550.12 78.95Z" fill="#0d0d4a" stroke="none"/>
<path d="M555.7 76.75L557.9 78.95L555.7 81.15L553.5 78.95Z" fill="#0d0d4a" stroke="none"/>
<path d="M559.07 76.76L561.27 78.96L559.07 81.16L556.87 78.96Z" fill="#0d0d4a" stroke="none"/>
<path d="M562.44 76.76L564.64 78.96L562.44 81.16L560.24 78.96Z" fill="#0d0d4a" stroke="none"/>
<path d="M565.81 76.77L568.01 78.97L565.81 81.17L563.61 78.97Z" fill="#0d0d4a" stroke="none"/>
<path d="M569.19 76.79L571.39 78.99L569.19 81.19L566.99 78.99Z" fill="#0d0d4a" stroke="none"/>
<path d="M572.56 76.8L574.76 79L572.56 81.2L570.36 79Z" fill="#0d0d4a" stroke="none"/>
<path d="M575.93 76.82L578.13 79.02L575.93 81.22L573.73 79.02Z" fill="#0d0d4a" stroke="none"/>
<path d="M579.3 76.85L581.5 79.05L579.3 81.25L577.1 79.05Z" fill="#0d0d4a" stroke="none"/>
<path d="M582.68 76.87L584.88 79.07L582.68 81.27L580.48 79.07Z" fill="#0d0d4a" stroke="none"/>
<path d="M586.05 76.9L588.25 79.1L586.05 81.3L583.85 79.1Z" fill="#0d0d4a" stroke="none"/>
<path d="M589.42 76.92L591.62 79.12L589.42 81.32L587.22 79.12Z" fill="#0d0d4a" stroke="none"/>
<path d="M592.79 76.95L594.99 79.15L592.79 81.35L590.59 79.15Z" fill="#0d0d4a" stroke="none"/>
<path d="M596.17 76.97L598.37 79.17L596.17 81.37L593.97 79.17Z" fill="#0d0d4a" stroke="none"/>
<path d="M599.54 77L601.74 79.2L599.54 81.4L597.34 79.2Z" fill="#0d0d4a" stroke="none"/>
<path d="M602.91 77.02L605.11 79.22L602.91 81.42L600.71 79.22Z" fill="#0d0d4a" stroke="none"/>
<path d="M606.28 77.04L608.48 79.24L606.28 81.44L604.08 79.24Z" fill="#0d0d4a" stroke="none"/>
<path d="M609.66 77.07L611.86 79.27L609.66 81.47L607.46 79.27Z" fill="#0d0d4a" stroke="none"/>
<path d="M613.03 77.1L615.23 79.3L613.03 81.5L610.83 79.3Z" fill="#0d0d4a" stroke="none"/>
<path d="M616.4 77.12L618.6 79.32L616.4 81.52L614.2 79.32Z" fill="#0d0d4a" stroke="none"/>
<path d="M619.77 77.15L621.97 79.35L619.77 81.55L617.57 79.35Z" fill="#0d0d4a" stroke="none"/>
<path d="M623.15 77.18L625.35 79.38L623.15 81.58L620.95 79.38Z" fill="#0d0d4a" stroke="none"/>
<path d="M626.52 77.21L628.72 79.41L626.52 81.61L624.32 79.41Z" fill="#0d0d4a" stroke="none"/>
<path d="M629.89 77.24L632.09 79.44L629.89 81.64L627.69 79.44Z" fill="#0d0d4a" stroke="none"/>
<path d="M633.26 77.27L635.46 79.47L633.26 81.67L631.06 79.47Z" fill="#0d0d4a" stroke="none"/>
<path d="M636.64 77.3L638.84 79.5L636.64 81.7L634.44 79.5Z" fill="#0d0d4a" stroke="none"/>
<path d="M640.01 77.34L642.21 79.54L640.01 81.74L637.81 79.54Z" fill="#0d0d4a" stroke="none"/>
<path d="M643.38 77.37L645.58 79.57L643.38 81.77L641.18 79.57Z" fill="#0d0d4a" stroke="none"/>
<text x="395.7" y="61" font-size="14" text-anchor="start" font-weight="normal" fill="#000" letter-spacing="1">(a)</text>
<rect x="393.7" y="15" width="4.4" height="4.4" fill="#fff" stroke="#000" stroke-width="1"/>
<text x="401.7" y="21.1" font-size="10" text-anchor="start" font-weight="normal" fill="#000">F1 0</text>
<path d="M434.3 14.67L436.83 17.2L434.3 19.73L431.77 17.2Z" fill="#0d0d4a" stroke="none"/>
<text x="439.7" y="21.1" font-size="10" text-anchor="start" font-weight="normal" fill="#000">F3 0</text>
<path d="M472.1 15L474.3 17.2L472.1 19.4L469.9 17.2Z" fill="#fff" stroke="#000" stroke-width="0.95"/>
<text x="477.3" y="21.1" font-size="10" text-anchor="start" font-weight="normal" fill="#000">F5 0</text>
<path d="M509.7 14.44L512.46 19.41L506.94 19.41Z" fill="#000"/>
<text x="515.5" y="21.1" font-size="10" text-anchor="start" font-weight="normal" fill="#000">F6 0</text>
<path d="M548.5 14.9L550.8 19.04L546.2 19.04Z" fill="#fff" stroke="#000" stroke-width="0.9"/>
<text x="553.5" y="21.1" font-size="10" text-anchor="start" font-weight="normal" fill="#000">F7 0</text>
<line x1="583.4" y1="17.2" x2="588.2" y2="17.2" stroke="#000" stroke-width="1.4"/>
<text x="591.3" y="21.1" font-size="10" text-anchor="start" font-weight="normal" fill="#000">F9 0</text>
<line x1="622" y1="15" x2="626.4" y2="19.4" stroke="#000" stroke-width="0.9"/>
<line x1="622" y1="19.4" x2="626.4" y2="15" stroke="#000" stroke-width="0.9"/>
<text x="629.8" y="21.1" font-size="10" text-anchor="start" font-weight="normal" fill="#000">F10 0</text>
<line x1="382" y1="260.4" x2="663.6" y2="260.4" stroke="#444" stroke-width="1"/>
<line x1="663.6" y1="260.4" x2="663.6" y2="409.1" stroke="#333" stroke-width="1"/>
<line x1="379.4" y1="409.1" x2="385" y2="409.1" stroke="#222" stroke-width="0.9"/>
<line x1="379.4" y1="404.14" x2="382" y2="404.14" stroke="#222" stroke-width="0.9"/>
<line x1="379.4" y1="399.19" x2="382" y2="399.19" stroke="#222" stroke-width="0.9"/>
<line x1="379.4" y1="394.23" x2="382" y2="394.23" stroke="#222" stroke-width="0.9"/>
<line x1="379.4" y1="389.27" x2="382" y2="389.27" stroke="#222" stroke-width="0.9"/>
<line x1="379.4" y1="384.32" x2="385" y2="384.32" stroke="#222" stroke-width="0.9"/>
<line x1="379.4" y1="379.36" x2="382" y2="379.36" stroke="#222" stroke-width="0.9"/>
<line x1="379.4" y1="374.4" x2="382" y2="374.4" stroke="#222" stroke-width="0.9"/>
<line x1="379.4" y1="369.45" x2="382" y2="369.45" stroke="#222" stroke-width="0.9"/>
<line x1="379.4" y1="364.49" x2="382" y2="364.49" stroke="#222" stroke-width="0.9"/>
<line x1="379.4" y1="359.53" x2="385" y2="359.53" stroke="#222" stroke-width="0.9"/>
<line x1="379.4" y1="354.58" x2="382" y2="354.58" stroke="#222" stroke-width="0.9"/>
<line x1="379.4" y1="349.62" x2="382" y2="349.62" stroke="#222" stroke-width="0.9"/>
<line x1="379.4" y1="344.66" x2="382" y2="344.66" stroke="#222" stroke-width="0.9"/>
<line x1="379.4" y1="339.71" x2="382" y2="339.71" stroke="#222" stroke-width="0.9"/>
<line x1="379.4" y1="334.75" x2="385" y2="334.75" stroke="#222" stroke-width="0.9"/>
<line x1="379.4" y1="329.79" x2="382" y2="329.79" stroke="#222" stroke-width="0.9"/>
<line x1="379.4" y1="324.84" x2="382" y2="324.84" stroke="#222" stroke-width="0.9"/>
<line x1="379.4" y1="319.88" x2="382" y2="319.88" stroke="#222" stroke-width="0.9"/>
<line x1="379.4" y1="314.92" x2="382" y2="314.92" stroke="#222" stroke-width="0.9"/>
<line x1="379.4" y1="309.97" x2="385" y2="309.97" stroke="#222" stroke-width="0.9"/>
<line x1="379.4" y1="305.01" x2="382" y2="305.01" stroke="#222" stroke-width="0.9"/>
<line x1="379.4" y1="300.05" x2="382" y2="300.05" stroke="#222" stroke-width="0.9"/>
<line x1="379.4" y1="295.1" x2="382" y2="295.1" stroke="#222" stroke-width="0.9"/>
<line x1="379.4" y1="290.14" x2="382" y2="290.14" stroke="#222" stroke-width="0.9"/>
<line x1="379.4" y1="285.18" x2="385" y2="285.18" stroke="#222" stroke-width="0.9"/>
<line x1="379.4" y1="280.23" x2="382" y2="280.23" stroke="#222" stroke-width="0.9"/>
<line x1="379.4" y1="275.27" x2="382" y2="275.27" stroke="#222" stroke-width="0.9"/>
<line x1="379.4" y1="270.31" x2="382" y2="270.31" stroke="#222" stroke-width="0.9"/>
<line x1="379.4" y1="265.36" x2="382" y2="265.36" stroke="#222" stroke-width="0.9"/>
<line x1="379.4" y1="260.4" x2="385" y2="260.4" stroke="#222" stroke-width="0.9"/>
<line x1="382" y1="406.3" x2="382" y2="412" stroke="#222" stroke-width="0.9"/>
<line x1="399.31" y1="409.1" x2="399.31" y2="411.7" stroke="#222" stroke-width="0.9"/>
<line x1="416.62" y1="409.1" x2="416.62" y2="411.7" stroke="#222" stroke-width="0.9"/>
<line x1="433.94" y1="409.1" x2="433.94" y2="411.7" stroke="#222" stroke-width="0.9"/>
<line x1="451.25" y1="409.1" x2="451.25" y2="411.7" stroke="#222" stroke-width="0.9"/>
<line x1="468.56" y1="406.3" x2="468.56" y2="412" stroke="#222" stroke-width="0.9"/>
<line x1="485.87" y1="409.1" x2="485.87" y2="411.7" stroke="#222" stroke-width="0.9"/>
<line x1="503.18" y1="409.1" x2="503.18" y2="411.7" stroke="#222" stroke-width="0.9"/>
<line x1="520.5" y1="409.1" x2="520.5" y2="411.7" stroke="#222" stroke-width="0.9"/>
<line x1="537.81" y1="409.1" x2="537.81" y2="411.7" stroke="#222" stroke-width="0.9"/>
<line x1="555.12" y1="406.3" x2="555.12" y2="412" stroke="#222" stroke-width="0.9"/>
<line x1="572.43" y1="409.1" x2="572.43" y2="411.7" stroke="#222" stroke-width="0.9"/>
<line x1="589.74" y1="409.1" x2="589.74" y2="411.7" stroke="#222" stroke-width="0.9"/>
<line x1="607.06" y1="409.1" x2="607.06" y2="411.7" stroke="#222" stroke-width="0.9"/>
<line x1="624.37" y1="409.1" x2="624.37" y2="411.7" stroke="#222" stroke-width="0.9"/>
<line x1="641.68" y1="406.3" x2="641.68" y2="412" stroke="#222" stroke-width="0.9"/>
<line x1="658.99" y1="409.1" x2="658.99" y2="411.7" stroke="#222" stroke-width="0.9"/>
<line x1="382" y1="259.9" x2="382" y2="409.6" stroke="#222" stroke-width="1.2"/>
<line x1="381.5" y1="409.1" x2="664.1" y2="409.1" stroke="#222" stroke-width="1.2"/>
<text x="372.8" y="412.8" font-size="10.3" text-anchor="end" font-weight="normal" fill="#000">0</text>
<text x="372.8" y="388.02" font-size="10.3" text-anchor="end" font-weight="normal" fill="#000">0.2</text>
<text x="372.8" y="363.23" font-size="10.3" text-anchor="end" font-weight="normal" fill="#000">0.4</text>
<text x="372.8" y="338.45" font-size="10.3" text-anchor="end" font-weight="normal" fill="#000">0.6</text>
<text x="372.8" y="313.67" font-size="10.3" text-anchor="end" font-weight="normal" fill="#000">0.8</text>
<text x="372.8" y="288.88" font-size="10.3" text-anchor="end" font-weight="normal" fill="#000">1</text>
<text x="372.8" y="264.1" font-size="10.3" text-anchor="end" font-weight="normal" fill="#000">1.2</text>
<text x="382" y="425.5" font-size="10.3" text-anchor="middle" font-weight="normal" fill="#000">0</text>
<text x="468.56" y="425.5" font-size="10.3" text-anchor="middle" font-weight="normal" fill="#000">200</text>
<text x="555.12" y="425.5" font-size="10.3" text-anchor="middle" font-weight="normal" fill="#000">400</text>
<text x="641.68" y="425.5" font-size="10.3" text-anchor="middle" font-weight="normal" fill="#000">600</text>
<text x="522.8" y="440" font-size="10.5" text-anchor="middle" font-weight="normal" fill="#000">Time (mins)</text>
<text transform="translate(337.2 322.8) rotate(-90)" font-size="12.5" text-anchor="middle" fill="#000">Absorbance (234 - 650 nm)</text>
<rect x="379.8" y="360.06" width="4.4" height="4.4" fill="#fff" stroke="#000" stroke-width="1"/>
<rect x="383.17" y="360.06" width="4.4" height="4.4" fill="#fff" stroke="#000" stroke-width="1"/>
<rect x="386.54" y="360.06" width="4.4" height="4.4" fill="#fff" stroke="#000" stroke-width="1"/>
<rect x="389.92" y="360.05" width="4.4" height="4.4" fill="#fff" stroke="#000" stroke-width="1"/>
<rect x="393.29" y="360.04" width="4.4" height="4.4" fill="#fff" stroke="#000" stroke-width="1"/>
<rect x="396.66" y="360.03" width="4.4" height="4.4" fill="#fff" stroke="#000" stroke-width="1"/>
<rect x="400.03" y="360.02" width="4.4" height="4.4" fill="#fff" stroke="#000" stroke-width="1"/>
<rect x="403.41" y="360" width="4.4" height="4.4" fill="#fff" stroke="#000" stroke-width="1"/>
<rect x="406.78" y="359.98" width="4.4" height="4.4" fill="#fff" stroke="#000" stroke-width="1"/>
<rect x="410.15" y="359.96" width="4.4" height="4.4" fill="#fff" stroke="#000" stroke-width="1"/>
<rect x="413.52" y="359.93" width="4.4" height="4.4" fill="#fff" stroke="#000" stroke-width="1"/>
<rect x="416.9" y="359.89" width="4.4" height="4.4" fill="#fff" stroke="#000" stroke-width="1"/>
<rect x="420.27" y="359.85" width="4.4" height="4.4" fill="#fff" stroke="#000" stroke-width="1"/>
<rect x="423.64" y="359.79" width="4.4" height="4.4" fill="#fff" stroke="#000" stroke-width="1"/>
<rect x="427.01" y="359.16" width="4.4" height="4.4" fill="#fff" stroke="#000" stroke-width="1"/>
<rect x="430.39" y="357.92" width="4.4" height="4.4" fill="#fff" stroke="#000" stroke-width="1"/>
<rect x="433.76" y="355.98" width="4.4" height="4.4" fill="#fff" stroke="#000" stroke-width="1"/>
<rect x="437.13" y="352.48" width="4.4" height="4.4" fill="#fff" stroke="#000" stroke-width="1"/>
<rect x="440.5" y="348.69" width="4.4" height="4.4" fill="#fff" stroke="#000" stroke-width="1"/>
<rect x="443.88" y="344.55" width="4.4" height="4.4" fill="#fff" stroke="#000" stroke-width="1"/>
<rect x="447.25" y="340.14" width="4.4" height="4.4" fill="#fff" stroke="#000" stroke-width="1"/>
<rect x="450.62" y="335.62" width="4.4" height="4.4" fill="#fff" stroke="#000" stroke-width="1"/>
<rect x="453.99" y="330.83" width="4.4" height="4.4" fill="#fff" stroke="#000" stroke-width="1"/>
<rect x="457.37" y="326.05" width="4.4" height="4.4" fill="#fff" stroke="#000" stroke-width="1"/>
<rect x="460.74" y="321.68" width="4.4" height="4.4" fill="#fff" stroke="#000" stroke-width="1"/>
<rect x="464.11" y="317.61" width="4.4" height="4.4" fill="#fff" stroke="#000" stroke-width="1"/>
<rect x="467.48" y="313.76" width="4.4" height="4.4" fill="#fff" stroke="#000" stroke-width="1"/>
<rect x="470.86" y="310.23" width="4.4" height="4.4" fill="#fff" stroke="#000" stroke-width="1"/>
<rect x="474.23" y="307.02" width="4.4" height="4.4" fill="#fff" stroke="#000" stroke-width="1"/>
<rect x="477.6" y="303.99" width="4.4" height="4.4" fill="#fff" stroke="#000" stroke-width="1"/>
<rect x="480.97" y="301.21" width="4.4" height="4.4" fill="#fff" stroke="#000" stroke-width="1"/>
<rect x="484.35" y="298.78" width="4.4" height="4.4" fill="#fff" stroke="#000" stroke-width="1"/>
<rect x="487.72" y="296.7" width="4.4" height="4.4" fill="#fff" stroke="#000" stroke-width="1"/>
<rect x="491.09" y="294.84" width="4.4" height="4.4" fill="#fff" stroke="#000" stroke-width="1"/>
<rect x="494.46" y="293.29" width="4.4" height="4.4" fill="#fff" stroke="#000" stroke-width="1"/>
<rect x="497.84" y="292.13" width="4.4" height="4.4" fill="#fff" stroke="#000" stroke-width="1"/>
<rect x="501.21" y="291.12" width="4.4" height="4.4" fill="#fff" stroke="#000" stroke-width="1"/>
<rect x="504.58" y="290.27" width="4.4" height="4.4" fill="#fff" stroke="#000" stroke-width="1"/>
<rect x="507.95" y="289.64" width="4.4" height="4.4" fill="#fff" stroke="#000" stroke-width="1"/>
<rect x="511.33" y="289.25" width="4.4" height="4.4" fill="#fff" stroke="#000" stroke-width="1"/>
<rect x="514.7" y="288.92" width="4.4" height="4.4" fill="#fff" stroke="#000" stroke-width="1"/>
<rect x="518.07" y="288.65" width="4.4" height="4.4" fill="#fff" stroke="#000" stroke-width="1"/>
<rect x="521.44" y="288.44" width="4.4" height="4.4" fill="#fff" stroke="#000" stroke-width="1"/>
<rect x="524.82" y="288.33" width="4.4" height="4.4" fill="#fff" stroke="#000" stroke-width="1"/>
<rect x="528.19" y="288.32" width="4.4" height="4.4" fill="#fff" stroke="#000" stroke-width="1"/>
<rect x="531.56" y="288.39" width="4.4" height="4.4" fill="#fff" stroke="#000" stroke-width="1"/>
<rect x="534.93" y="288.52" width="4.4" height="4.4" fill="#fff" stroke="#000" stroke-width="1"/>
<rect x="538.31" y="288.71" width="4.4" height="4.4" fill="#fff" stroke="#000" stroke-width="1"/>
<rect x="541.68" y="288.93" width="4.4" height="4.4" fill="#fff" stroke="#000" stroke-width="1"/>
<rect x="545.05" y="289.18" width="4.4" height="4.4" fill="#fff" stroke="#000" stroke-width="1"/>
<rect x="548.42" y="289.44" width="4.4" height="4.4" fill="#fff" stroke="#000" stroke-width="1"/>
<rect x="551.8" y="289.71" width="4.4" height="4.4" fill="#fff" stroke="#000" stroke-width="1"/>
<rect x="555.17" y="289.99" width="4.4" height="4.4" fill="#fff" stroke="#000" stroke-width="1"/>
<rect x="558.54" y="290.34" width="4.4" height="4.4" fill="#fff" stroke="#000" stroke-width="1"/>
<rect x="561.91" y="290.74" width="4.4" height="4.4" fill="#fff" stroke="#000" stroke-width="1"/>
<rect x="565.29" y="291.19" width="4.4" height="4.4" fill="#fff" stroke="#000" stroke-width="1"/>
<rect x="568.66" y="291.66" width="4.4" height="4.4" fill="#fff" stroke="#000" stroke-width="1"/>
<rect x="572.03" y="292.16" width="4.4" height="4.4" fill="#fff" stroke="#000" stroke-width="1"/>
<rect x="575.4" y="292.68" width="4.4" height="4.4" fill="#fff" stroke="#000" stroke-width="1"/>
<rect x="578.78" y="293.27" width="4.4" height="4.4" fill="#fff" stroke="#000" stroke-width="1"/>
<rect x="582.15" y="293.9" width="4.4" height="4.4" fill="#fff" stroke="#000" stroke-width="1"/>
<rect x="585.52" y="294.56" width="4.4" height="4.4" fill="#fff" stroke="#000" stroke-width="1"/>
<rect x="588.89" y="295.22" width="4.4" height="4.4" fill="#fff" stroke="#000" stroke-width="1"/>
<rect x="592.27" y="295.88" width="4.4" height="4.4" fill="#fff" stroke="#000" stroke-width="1"/>
<rect x="595.64" y="296.51" width="4.4" height="4.4" fill="#fff" stroke="#000" stroke-width="1"/>
<rect x="599.01" y="297.11" width="4.4" height="4.4" fill="#fff" stroke="#000" stroke-width="1"/>
<rect x="602.38" y="297.7" width="4.4" height="4.4" fill="#fff" stroke="#000" stroke-width="1"/>
<rect x="605.76" y="298.28" width="4.4" height="4.4" fill="#fff" stroke="#000" stroke-width="1"/>
<rect x="609.13" y="298.85" width="4.4" height="4.4" fill="#fff" stroke="#000" stroke-width="1"/>
<rect x="612.5" y="299.42" width="4.4" height="4.4" fill="#fff" stroke="#000" stroke-width="1"/>
<rect x="615.87" y="299.99" width="4.4" height="4.4" fill="#fff" stroke="#000" stroke-width="1"/>
<rect x="619.25" y="300.57" width="4.4" height="4.4" fill="#fff" stroke="#000" stroke-width="1"/>
<rect x="622.62" y="301.15" width="4.4" height="4.4" fill="#fff" stroke="#000" stroke-width="1"/>
<rect x="625.99" y="301.73" width="4.4" height="4.4" fill="#fff" stroke="#000" stroke-width="1"/>
<rect x="629.36" y="302.31" width="4.4" height="4.4" fill="#fff" stroke="#000" stroke-width="1"/>
<rect x="632.74" y="302.89" width="4.4" height="4.4" fill="#fff" stroke="#000" stroke-width="1"/>
<rect x="636.11" y="303.47" width="4.4" height="4.4" fill="#fff" stroke="#000" stroke-width="1"/>
<rect x="639.48" y="304.05" width="4.4" height="4.4" fill="#fff" stroke="#000" stroke-width="1"/>
<path d="M382 360.31L384.2 362.51L382 364.71L379.8 362.51Z" fill="#fff" stroke="#000" stroke-width="0.95"/>
<path d="M385.37 360.31L387.57 362.51L385.37 364.71L383.17 362.51Z" fill="#fff" stroke="#000" stroke-width="0.95"/>
<path d="M388.74 360.3L390.94 362.5L388.74 364.7L386.54 362.5Z" fill="#fff" stroke="#000" stroke-width="0.95"/>
<path d="M392.12 360.3L394.32 362.5L392.12 364.7L389.92 362.5Z" fill="#fff" stroke="#000" stroke-width="0.95"/>
<path d="M395.49 360.29L397.69 362.49L395.49 364.69L393.29 362.49Z" fill="#fff" stroke="#000" stroke-width="0.95"/>
<path d="M398.86 360.28L401.06 362.48L398.86 364.68L396.66 362.48Z" fill="#fff" stroke="#000" stroke-width="0.95"/>
<path d="M402.23 360.27L404.43 362.47L402.23 364.67L400.03 362.47Z" fill="#fff" stroke="#000" stroke-width="0.95"/>
<path d="M405.61 360.26L407.81 362.46L405.61 364.66L403.41 362.46Z" fill="#fff" stroke="#000" stroke-width="0.95"/>
<path d="M408.98 360.24L411.18 362.44L408.98 364.64L406.78 362.44Z" fill="#fff" stroke="#000" stroke-width="0.95"/>
<path d="M412.35 360.21L414.55 362.41L412.35 364.61L410.15 362.41Z" fill="#fff" stroke="#000" stroke-width="0.95"/>
<path d="M415.72 360.19L417.92 362.39L415.72 364.59L413.52 362.39Z" fill="#fff" stroke="#000" stroke-width="0.95"/>
<path d="M419.1 360.16L421.3 362.36L419.1 364.56L416.9 362.36Z" fill="#fff" stroke="#000" stroke-width="0.95"/>
<path d="M422.47 360.12L424.67 362.32L422.47 364.52L420.27 362.32Z" fill="#fff" stroke="#000" stroke-width="0.95"/>
<path d="M425.84 360.08L428.04 362.28L425.84 364.48L423.64 362.28Z" fill="#fff" stroke="#000" stroke-width="0.95"/>
<path d="M429.21 360.04L431.41 362.24L429.21 364.44L427.01 362.24Z" fill="#fff" stroke="#000" stroke-width="0.95"/>
<path d="M432.59 359.99L434.79 362.19L432.59 364.39L430.39 362.19Z" fill="#fff" stroke="#000" stroke-width="0.95"/>
<path d="M435.96 359.94L438.16 362.14L435.96 364.34L433.76 362.14Z" fill="#fff" stroke="#000" stroke-width="0.95"/>
<path d="M439.33 359.88L441.53 362.08L439.33 364.28L437.13 362.08Z" fill="#fff" stroke="#000" stroke-width="0.95"/>
<path d="M442.7 359.81L444.9 362.01L442.7 364.21L440.5 362.01Z" fill="#fff" stroke="#000" stroke-width="0.95"/>
<path d="M446.08 359.26L448.28 361.46L446.08 363.66L443.88 361.46Z" fill="#fff" stroke="#000" stroke-width="0.95"/>
<path d="M449.45 358.03L451.65 360.23L449.45 362.43L447.25 360.23Z" fill="#fff" stroke="#000" stroke-width="0.95"/>
<path d="M452.82 356.4L455.02 358.6L452.82 360.8L450.62 358.6Z" fill="#fff" stroke="#000" stroke-width="0.95"/>
<path d="M456.19 353.96L458.39 356.16L456.19 358.36L453.99 356.16Z" fill="#fff" stroke="#000" stroke-width="0.95"/>
<path d="M459.57 350.73L461.77 352.93L459.57 355.13L457.37 352.93Z" fill="#fff" stroke="#000" stroke-width="0.95"/>
<path d="M462.94 347.39L465.14 349.59L462.94 351.79L460.74 349.59Z" fill="#fff" stroke="#000" stroke-width="0.95"/>
<path d="M466.31 343.78L468.51 345.98L466.31 348.18L464.11 345.98Z" fill="#fff" stroke="#000" stroke-width="0.95"/>
<path d="M469.68 339.81L471.88 342.01L469.68 344.21L467.48 342.01Z" fill="#fff" stroke="#000" stroke-width="0.95"/>
<path d="M473.06 335.39L475.26 337.59L473.06 339.79L470.86 337.59Z" fill="#fff" stroke="#000" stroke-width="0.95"/>
<path d="M476.43 330.9L478.63 333.1L476.43 335.3L474.23 333.1Z" fill="#fff" stroke="#000" stroke-width="0.95"/>
<path d="M479.8 326.52L482 328.72L479.8 330.92L477.6 328.72Z" fill="#fff" stroke="#000" stroke-width="0.95"/>
<path d="M483.17 322.17L485.37 324.37L483.17 326.57L480.97 324.37Z" fill="#fff" stroke="#000" stroke-width="0.95"/>
<path d="M486.55 318.01L488.75 320.21L486.55 322.41L484.35 320.21Z" fill="#fff" stroke="#000" stroke-width="0.95"/>
<path d="M489.92 313.8L492.12 316L489.92 318.2L487.72 316Z" fill="#fff" stroke="#000" stroke-width="0.95"/>
<path d="M493.29 309.93L495.49 312.13L493.29 314.33L491.09 312.13Z" fill="#fff" stroke="#000" stroke-width="0.95"/>
<path d="M496.66 307.28L498.86 309.48L496.66 311.68L494.46 309.48Z" fill="#fff" stroke="#000" stroke-width="0.95"/>
<path d="M500.04 305.27L502.24 307.47L500.04 309.67L497.84 307.47Z" fill="#fff" stroke="#000" stroke-width="0.95"/>
<path d="M503.41 303.56L505.61 305.76L503.41 307.96L501.21 305.76Z" fill="#fff" stroke="#000" stroke-width="0.95"/>
<path d="M506.78 302.12L508.98 304.32L506.78 306.52L504.58 304.32Z" fill="#fff" stroke="#000" stroke-width="0.95"/>
<path d="M510.15 300.89L512.35 303.09L510.15 305.29L507.95 303.09Z" fill="#fff" stroke="#000" stroke-width="0.95"/>
<path d="M513.53 299.79L515.73 301.99L513.53 304.19L511.33 301.99Z" fill="#fff" stroke="#000" stroke-width="0.95"/>
<path d="M516.9 298.74L519.1 300.94L516.9 303.14L514.7 300.94Z" fill="#fff" stroke="#000" stroke-width="0.95"/>
<path d="M520.27 297.74L522.47 299.94L520.27 302.14L518.07 299.94Z" fill="#fff" stroke="#000" stroke-width="0.95"/>
<path d="M523.64 296.83L525.84 299.03L523.64 301.23L521.44 299.03Z" fill="#fff" stroke="#000" stroke-width="0.95"/>
<path d="M527.02 296.04L529.22 298.24L527.02 300.44L524.82 298.24Z" fill="#fff" stroke="#000" stroke-width="0.95"/>
<path d="M530.39 295.39L532.59 297.59L530.39 299.79L528.19 297.59Z" fill="#fff" stroke="#000" stroke-width="0.95"/>
<path d="M533.76 294.93L535.96 297.13L533.76 299.33L531.56 297.13Z" fill="#fff" stroke="#000" stroke-width="0.95"/>
<path d="M537.13 294.65L539.33 296.85L537.13 299.05L534.93 296.85Z" fill="#fff" stroke="#000" stroke-width="0.95"/>
<path d="M540.51 294.42L542.71 296.62L540.51 298.82L538.31 296.62Z" fill="#fff" stroke="#000" stroke-width="0.95"/>
<path d="M543.88 294.22L546.08 296.42L543.88 298.62L541.68 296.42Z" fill="#fff" stroke="#000" stroke-width="0.95"/>
<path d="M547.25 294.06L549.45 296.26L547.25 298.46L545.05 296.26Z" fill="#fff" stroke="#000" stroke-width="0.95"/>
<path d="M550.62 293.95L552.82 296.15L550.62 298.35L548.42 296.15Z" fill="#fff" stroke="#000" stroke-width="0.95"/>
<path d="M554 293.89L556.2 296.09L554 298.29L551.8 296.09Z" fill="#fff" stroke="#000" stroke-width="0.95"/>
<path d="M557.37 293.92L559.57 296.12L557.37 298.32L555.17 296.12Z" fill="#fff" stroke="#000" stroke-width="0.95"/>
<path d="M560.74 294.07L562.94 296.27L560.74 298.47L558.54 296.27Z" fill="#fff" stroke="#000" stroke-width="0.95"/>
<path d="M564.11 294.31L566.31 296.51L564.11 298.71L561.91 296.51Z" fill="#fff" stroke="#000" stroke-width="0.95"/>
<path d="M567.49 294.62L569.69 296.82L567.49 299.02L565.29 296.82Z" fill="#fff" stroke="#000" stroke-width="0.95"/>
<path d="M570.86 294.96L573.06 297.16L570.86 299.36L568.66 297.16Z" fill="#fff" stroke="#000" stroke-width="0.95"/>
<path d="M574.23 295.3L576.43 297.5L574.23 299.7L572.03 297.5Z" fill="#fff" stroke="#000" stroke-width="0.95"/>
<path d="M577.6 295.64L579.8 297.84L577.6 300.04L575.4 297.84Z" fill="#fff" stroke="#000" stroke-width="0.95"/>
<path d="M580.98 296.03L583.18 298.23L580.98 300.43L578.78 298.23Z" fill="#fff" stroke="#000" stroke-width="0.95"/>
<path d="M584.35 296.47L586.55 298.67L584.35 300.87L582.15 298.67Z" fill="#fff" stroke="#000" stroke-width="0.95"/>
<path d="M587.72 296.94L589.92 299.14L587.72 301.34L585.52 299.14Z" fill="#fff" stroke="#000" stroke-width="0.95"/>
<path d="M591.09 297.43L593.29 299.63L591.09 301.83L588.89 299.63Z" fill="#fff" stroke="#000" stroke-width="0.95"/>
<path d="M594.47 297.92L596.67 300.12L594.47 302.32L592.27 300.12Z" fill="#fff" stroke="#000" stroke-width="0.95"/>
<path d="M597.84 298.4L600.04 300.6L597.84 302.8L595.64 300.6Z" fill="#fff" stroke="#000" stroke-width="0.95"/>
<path d="M601.21 298.86L603.41 301.06L601.21 303.26L599.01 301.06Z" fill="#fff" stroke="#000" stroke-width="0.95"/>
<path d="M604.58 299.32L606.78 301.52L604.58 303.72L602.38 301.52Z" fill="#fff" stroke="#000" stroke-width="0.95"/>
<path d="M607.96 299.79L610.16 301.99L607.96 304.19L605.76 301.99Z" fill="#fff" stroke="#000" stroke-width="0.95"/>
<path d="M611.33 300.27L613.53 302.47L611.33 304.67L609.13 302.47Z" fill="#fff" stroke="#000" stroke-width="0.95"/>
<path d="M614.7 300.76L616.9 302.96L614.7 305.16L612.5 302.96Z" fill="#fff" stroke="#000" stroke-width="0.95"/>
<path d="M618.07 301.27L620.27 303.47L618.07 305.67L615.87 303.47Z" fill="#fff" stroke="#000" stroke-width="0.95"/>
<path d="M621.45 301.79L623.65 303.99L621.45 306.19L619.25 303.99Z" fill="#fff" stroke="#000" stroke-width="0.95"/>
<path d="M624.82 302.33L627.02 304.53L624.82 306.73L622.62 304.53Z" fill="#fff" stroke="#000" stroke-width="0.95"/>
<path d="M628.19 302.89L630.39 305.09L628.19 307.29L625.99 305.09Z" fill="#fff" stroke="#000" stroke-width="0.95"/>
<path d="M631.56 303.47L633.76 305.67L631.56 307.87L629.36 305.67Z" fill="#fff" stroke="#000" stroke-width="0.95"/>
<path d="M634.94 304.06L637.14 306.26L634.94 308.46L632.74 306.26Z" fill="#fff" stroke="#000" stroke-width="0.95"/>
<path d="M638.31 304.67L640.51 306.87L638.31 309.07L636.11 306.87Z" fill="#fff" stroke="#000" stroke-width="0.95"/>
<path d="M641.68 305.29L643.88 307.49L641.68 309.69L639.48 307.49Z" fill="#fff" stroke="#000" stroke-width="0.95"/>
<path d="M382 359.36L384.4 363.68L379.6 363.68Z" fill="#000"/>
<path d="M385.37 359.36L387.77 363.68L382.97 363.68Z" fill="#000"/>
<path d="M388.74 359.36L391.14 363.68L386.34 363.68Z" fill="#000"/>
<path d="M392.12 359.36L394.52 363.68L389.72 363.68Z" fill="#000"/>
<path d="M395.49 359.36L397.89 363.68L393.09 363.68Z" fill="#000"/>
<path d="M398.86 359.36L401.26 363.68L396.46 363.68Z" fill="#000"/>
<path d="M402.23 359.36L404.63 363.68L399.83 363.68Z" fill="#000"/>
<path d="M405.61 359.36L408.01 363.68L403.21 363.68Z" fill="#000"/>
<path d="M408.98 359.36L411.38 363.68L406.58 363.68Z" fill="#000"/>
<path d="M412.35 359.35L414.75 363.67L409.95 363.67Z" fill="#000"/>
<path d="M415.72 359.35L418.12 363.67L413.32 363.67Z" fill="#000"/>
<path d="M419.1 359.35L421.5 363.67L416.7 363.67Z" fill="#000"/>
<path d="M422.47 359.34L424.87 363.66L420.07 363.66Z" fill="#000"/>
<path d="M425.84 359.34L428.24 363.66L423.44 363.66Z" fill="#000"/>
<path d="M429.21 359.33L431.61 363.65L426.81 363.65Z" fill="#000"/>
<path d="M432.59 359.33L434.99 363.65L430.19 363.65Z" fill="#000"/>
<path d="M435.96 359.32L438.36 363.64L433.56 363.64Z" fill="#000"/>
<path d="M439.33 359.31L441.73 363.63L436.93 363.63Z" fill="#000"/>
<path d="M442.7 359.3L445.1 363.62L440.3 363.62Z" fill="#000"/>
<path d="M446.08 359.3L448.48 363.62L443.68 363.62Z" fill="#000"/>
<path d="M449.45 359.29L451.85 363.61L447.05 363.61Z" fill="#000"/>
<path d="M452.82 359.27L455.22 363.59L450.42 363.59Z" fill="#000"/>
<path d="M456.19 359.26L458.59 363.58L453.79 363.58Z" fill="#000"/>
<path d="M459.57 359.25L461.97 363.57L457.17 363.57Z" fill="#000"/>
<path d="M462.94 359.24L465.34 363.56L460.54 363.56Z" fill="#000"/>
<path d="M466.31 359.22L468.71 363.54L463.91 363.54Z" fill="#000"/>
<path d="M469.68 359.21L472.08 363.53L467.28 363.53Z" fill="#000"/>
<path d="M473.06 359.19L475.46 363.51L470.66 363.51Z" fill="#000"/>
<path d="M476.43 359.17L478.83 363.49L474.03 363.49Z" fill="#000"/>
<path d="M479.8 359.15L482.2 363.47L477.4 363.47Z" fill="#000"/>
<path d="M483.17 359.13L485.57 363.45L480.77 363.45Z" fill="#000"/>
<path d="M486.55 359.1L488.95 363.42L484.15 363.42Z" fill="#000"/>
<path d="M489.92 358.71L492.32 363.03L487.52 363.03Z" fill="#000"/>
<path d="M493.29 357.87L495.69 362.19L490.89 362.19Z" fill="#000"/>
<path d="M496.66 356.19L499.06 360.51L494.26 360.51Z" fill="#000"/>
<path d="M500.04 351.81L502.44 356.13L497.64 356.13Z" fill="#000"/>
<path d="M503.41 348.24L505.81 352.56L501.01 352.56Z" fill="#000"/>
<path d="M506.78 344.8L509.18 349.12L504.38 349.12Z" fill="#000"/>
<path d="M510.15 341.21L512.55 345.53L507.75 345.53Z" fill="#000"/>
<path d="M513.53 337.24L515.93 341.56L511.13 341.56Z" fill="#000"/>
<path d="M516.9 333.02L519.3 337.34L514.5 337.34Z" fill="#000"/>
<path d="M520.27 328.9L522.67 333.22L517.87 333.22Z" fill="#000"/>
<path d="M523.64 324.9L526.04 329.22L521.24 329.22Z" fill="#000"/>
<path d="M527.02 320.98L529.42 325.3L524.62 325.3Z" fill="#000"/>
<path d="M530.39 317.38L532.79 321.7L527.99 321.7Z" fill="#000"/>
<path d="M533.76 314.24L536.16 318.56L531.36 318.56Z" fill="#000"/>
<path d="M537.13 311.43L539.53 315.75L534.73 315.75Z" fill="#000"/>
<path d="M540.51 309.23L542.91 313.55L538.11 313.55Z" fill="#000"/>
<path d="M543.88 307.46L546.28 311.78L541.48 311.78Z" fill="#000"/>
<path d="M547.25 305.99L549.65 310.31L544.85 310.31Z" fill="#000"/>
<path d="M550.62 304.82L553.02 309.14L548.22 309.14Z" fill="#000"/>
<path d="M554 303.79L556.4 308.11L551.6 308.11Z" fill="#000"/>
<path d="M557.37 302.91L559.77 307.23L554.97 307.23Z" fill="#000"/>
<path d="M560.74 302.18L563.14 306.5L558.34 306.5Z" fill="#000"/>
<path d="M564.11 301.59L566.51 305.91L561.71 305.91Z" fill="#000"/>
<path d="M567.49 301.03L569.89 305.35L565.09 305.35Z" fill="#000"/>
<path d="M570.86 300.58L573.26 304.9L568.46 304.9Z" fill="#000"/>
<path d="M574.23 300.38L576.63 304.7L571.83 304.7Z" fill="#000"/>
<path d="M577.6 300.4L580 304.72L575.2 304.72Z" fill="#000"/>
<path d="M580.98 300.47L583.38 304.79L578.58 304.79Z" fill="#000"/>
<path d="M584.35 300.58L586.75 304.9L581.95 304.9Z" fill="#000"/>
<path d="M587.72 300.73L590.12 305.05L585.32 305.05Z" fill="#000"/>
<path d="M591.09 300.91L593.49 305.23L588.69 305.23Z" fill="#000"/>
<path d="M594.47 301.11L596.87 305.43L592.07 305.43Z" fill="#000"/>
<path d="M597.84 301.33L600.24 305.65L595.44 305.65Z" fill="#000"/>
<path d="M601.21 301.63L603.61 305.95L598.81 305.95Z" fill="#000"/>
<path d="M604.58 302.1L606.98 306.42L602.18 306.42Z" fill="#000"/>
<path d="M607.96 302.7L610.36 307.02L605.56 307.02Z" fill="#000"/>
<path d="M611.33 303.37L613.73 307.69L608.93 307.69Z" fill="#000"/>
<path d="M614.7 304.07L617.1 308.39L612.3 308.39Z" fill="#000"/>
<path d="M618.07 304.73L620.47 309.05L615.67 309.05Z" fill="#000"/>
<path d="M621.45 305.33L623.85 309.65L619.05 309.65Z" fill="#000"/>
<path d="M624.82 305.91L627.22 310.23L622.42 310.23Z" fill="#000"/>
<path d="M628.19 306.49L630.59 310.81L625.79 310.81Z" fill="#000"/>
<path d="M631.56 307.07L633.96 311.39L629.16 311.39Z" fill="#000"/>
<path d="M634.94 307.65L637.34 311.97L632.54 311.97Z" fill="#000"/>
<path d="M638.31 308.23L640.71 312.55L635.91 312.55Z" fill="#000"/>
<path d="M641.68 308.81L644.08 313.13L639.28 313.13Z" fill="#000"/>
<path d="M382 359.71L384.3 363.85L379.7 363.85Z" fill="#fff" stroke="#000" stroke-width="0.9"/>
<path d="M385.37 359.71L387.67 363.85L383.07 363.85Z" fill="#fff" stroke="#000" stroke-width="0.9"/>
<path d="M388.74 359.71L391.04 363.85L386.44 363.85Z" fill="#fff" stroke="#000" stroke-width="0.9"/>
<path d="M392.12 359.71L394.42 363.85L389.82 363.85Z" fill="#fff" stroke="#000" stroke-width="0.9"/>
<path d="M395.49 359.71L397.79 363.85L393.19 363.85Z" fill="#fff" stroke="#000" stroke-width="0.9"/>
<path d="M398.86 359.71L401.16 363.85L396.56 363.85Z" fill="#fff" stroke="#000" stroke-width="0.9"/>
<path d="M402.23 359.71L404.53 363.85L399.93 363.85Z" fill="#fff" stroke="#000" stroke-width="0.9"/>
<path d="M405.61 359.71L407.91 363.85L403.31 363.85Z" fill="#fff" stroke="#000" stroke-width="0.9"/>
<path d="M408.98 359.71L411.28 363.85L406.68 363.85Z" fill="#fff" stroke="#000" stroke-width="0.9"/>
<path d="M412.35 359.7L414.65 363.84L410.05 363.84Z" fill="#fff" stroke="#000" stroke-width="0.9"/>
<path d="M415.72 359.7L418.02 363.84L413.42 363.84Z" fill="#fff" stroke="#000" stroke-width="0.9"/>
<path d="M419.1 359.7L421.4 363.84L416.8 363.84Z" fill="#fff" stroke="#000" stroke-width="0.9"/>
<path d="M422.47 359.7L424.77 363.84L420.17 363.84Z" fill="#fff" stroke="#000" stroke-width="0.9"/>
<path d="M425.84 359.7L428.14 363.84L423.54 363.84Z" fill="#fff" stroke="#000" stroke-width="0.9"/>
<path d="M429.21 359.7L431.51 363.84L426.91 363.84Z" fill="#fff" stroke="#000" stroke-width="0.9"/>
<path d="M432.59 359.69L434.89 363.83L430.29 363.83Z" fill="#fff" stroke="#000" stroke-width="0.9"/>
<path d="M435.96 359.69L438.26 363.83L433.66 363.83Z" fill="#fff" stroke="#000" stroke-width="0.9"/>
<path d="M439.33 359.69L441.63 363.83L437.03 363.83Z" fill="#fff" stroke="#000" stroke-width="0.9"/>
<path d="M442.7 359.68L445 363.82L440.4 363.82Z" fill="#fff" stroke="#000" stroke-width="0.9"/>
<path d="M446.08 359.68L448.38 363.82L443.78 363.82Z" fill="#fff" stroke="#000" stroke-width="0.9"/>
<path d="M449.45 359.68L451.75 363.82L447.15 363.82Z" fill="#fff" stroke="#000" stroke-width="0.9"/>
<path d="M452.82 359.67L455.12 363.81L450.52 363.81Z" fill="#fff" stroke="#000" stroke-width="0.9"/>
<path d="M456.19 359.67L458.49 363.81L453.89 363.81Z" fill="#fff" stroke="#000" stroke-width="0.9"/>
<path d="M459.57 359.67L461.87 363.81L457.27 363.81Z" fill="#fff" stroke="#000" stroke-width="0.9"/>
<path d="M462.94 359.66L465.24 363.8L460.64 363.8Z" fill="#fff" stroke="#000" stroke-width="0.9"/>
<path d="M466.31 359.66L468.61 363.8L464.01 363.8Z" fill="#fff" stroke="#000" stroke-width="0.9"/>
<path d="M469.68 359.65L471.98 363.79L467.38 363.79Z" fill="#fff" stroke="#000" stroke-width="0.9"/>
<path d="M473.06 359.65L475.36 363.79L470.76 363.79Z" fill="#fff" stroke="#000" stroke-width="0.9"/>
<path d="M476.43 359.65L478.73 363.79L474.13 363.79Z" fill="#fff" stroke="#000" stroke-width="0.9"/>
<path d="M479.8 359.64L482.1 363.78L477.5 363.78Z" fill="#fff" stroke="#000" stroke-width="0.9"/>
<path d="M483.17 359.64L485.47 363.78L480.87 363.78Z" fill="#fff" stroke="#000" stroke-width="0.9"/>
<path d="M486.55 359.63L488.85 363.77L484.25 363.77Z" fill="#fff" stroke="#000" stroke-width="0.9"/>
<path d="M489.92 359.63L492.22 363.77L487.62 363.77Z" fill="#fff" stroke="#000" stroke-width="0.9"/>
<path d="M493.29 359.62L495.59 363.76L490.99 363.76Z" fill="#fff" stroke="#000" stroke-width="0.9"/>
<path d="M496.66 359.61L498.96 363.75L494.36 363.75Z" fill="#fff" stroke="#000" stroke-width="0.9"/>
<path d="M500.04 359.61L502.34 363.75L497.74 363.75Z" fill="#fff" stroke="#000" stroke-width="0.9"/>
<path d="M503.41 359.6L505.71 363.74L501.11 363.74Z" fill="#fff" stroke="#000" stroke-width="0.9"/>
<path d="M506.78 359.6L509.08 363.74L504.48 363.74Z" fill="#fff" stroke="#000" stroke-width="0.9"/>
<path d="M510.15 359.59L512.45 363.73L507.85 363.73Z" fill="#fff" stroke="#000" stroke-width="0.9"/>
<path d="M513.53 359.58L515.83 363.72L511.23 363.72Z" fill="#fff" stroke="#000" stroke-width="0.9"/>
<path d="M516.9 359.58L519.2 363.72L514.6 363.72Z" fill="#fff" stroke="#000" stroke-width="0.9"/>
<path d="M520.27 359.57L522.57 363.71L517.97 363.71Z" fill="#fff" stroke="#000" stroke-width="0.9"/>
<path d="M523.64 359.56L525.94 363.7L521.34 363.7Z" fill="#fff" stroke="#000" stroke-width="0.9"/>
<path d="M527.02 359.55L529.32 363.69L524.72 363.69Z" fill="#fff" stroke="#000" stroke-width="0.9"/>
<path d="M530.39 359.53L532.69 363.67L528.09 363.67Z" fill="#fff" stroke="#000" stroke-width="0.9"/>
<path d="M533.76 359.52L536.06 363.66L531.46 363.66Z" fill="#fff" stroke="#000" stroke-width="0.9"/>
<path d="M537.13 359.5L539.43 363.64L534.83 363.64Z" fill="#fff" stroke="#000" stroke-width="0.9"/>
<path d="M540.51 359.47L542.81 363.61L538.21 363.61Z" fill="#fff" stroke="#000" stroke-width="0.9"/>
<path d="M543.88 359.45L546.18 363.59L541.58 363.59Z" fill="#fff" stroke="#000" stroke-width="0.9"/>
<path d="M547.25 359.42L549.55 363.56L544.95 363.56Z" fill="#fff" stroke="#000" stroke-width="0.9"/>
<path d="M550.62 359.39L552.92 363.53L548.32 363.53Z" fill="#fff" stroke="#000" stroke-width="0.9"/>
<path d="M554 359.35L556.3 363.49L551.7 363.49Z" fill="#fff" stroke="#000" stroke-width="0.9"/>
<path d="M557.37 359.31L559.67 363.45L555.07 363.45Z" fill="#fff" stroke="#000" stroke-width="0.9"/>
<path d="M560.74 359.26L563.04 363.4L558.44 363.4Z" fill="#fff" stroke="#000" stroke-width="0.9"/>
<path d="M564.11 359.21L566.41 363.35L561.81 363.35Z" fill="#fff" stroke="#000" stroke-width="0.9"/>
<path d="M567.49 359.09L569.79 363.23L565.19 363.23Z" fill="#fff" stroke="#000" stroke-width="0.9"/>
<path d="M570.86 358.86L573.16 363L568.56 363Z" fill="#fff" stroke="#000" stroke-width="0.9"/>
<path d="M574.23 358.51L576.53 362.65L571.93 362.65Z" fill="#fff" stroke="#000" stroke-width="0.9"/>
<path d="M577.6 358.06L579.9 362.2L575.3 362.2Z" fill="#fff" stroke="#000" stroke-width="0.9"/>
<path d="M580.98 357.23L583.28 361.37L578.68 361.37Z" fill="#fff" stroke="#000" stroke-width="0.9"/>
<path d="M584.35 355.52L586.65 359.66L582.05 359.66Z" fill="#fff" stroke="#000" stroke-width="0.9"/>
<path d="M587.72 353.88L590.02 358.02L585.42 358.02Z" fill="#fff" stroke="#000" stroke-width="0.9"/>
<path d="M591.09 352.21L593.39 356.35L588.79 356.35Z" fill="#fff" stroke="#000" stroke-width="0.9"/>
<path d="M594.47 350.29L596.77 354.43L592.17 354.43Z" fill="#fff" stroke="#000" stroke-width="0.9"/>
<path d="M597.84 348L600.14 352.14L595.54 352.14Z" fill="#fff" stroke="#000" stroke-width="0.9"/>
<path d="M601.21 344.96L603.51 349.1L598.91 349.1Z" fill="#fff" stroke="#000" stroke-width="0.9"/>
<path d="M604.58 341.47L606.88 345.61L602.28 345.61Z" fill="#fff" stroke="#000" stroke-width="0.9"/>
<path d="M607.96 337.85L610.26 341.99L605.66 341.99Z" fill="#fff" stroke="#000" stroke-width="0.9"/>
<path d="M611.33 334L613.63 338.14L609.03 338.14Z" fill="#fff" stroke="#000" stroke-width="0.9"/>
<path d="M614.7 330.13L617 334.27L612.4 334.27Z" fill="#fff" stroke="#000" stroke-width="0.9"/>
<path d="M618.07 326.46L620.37 330.6L615.77 330.6Z" fill="#fff" stroke="#000" stroke-width="0.9"/>
<path d="M621.45 323.98L623.75 328.12L619.15 328.12Z" fill="#fff" stroke="#000" stroke-width="0.9"/>
<path d="M624.82 321.88L627.12 326.02L622.52 326.02Z" fill="#fff" stroke="#000" stroke-width="0.9"/>
<path d="M628.19 319.82L630.49 323.96L625.89 323.96Z" fill="#fff" stroke="#000" stroke-width="0.9"/>
<path d="M631.56 317.98L633.86 322.12L629.26 322.12Z" fill="#fff" stroke="#000" stroke-width="0.9"/>
<path d="M634.94 316.33L637.24 320.47L632.64 320.47Z" fill="#fff" stroke="#000" stroke-width="0.9"/>
<path d="M638.31 315.11L640.61 319.25L636.01 319.25Z" fill="#fff" stroke="#000" stroke-width="0.9"/>
<path d="M641.68 314.23L643.98 318.37L639.38 318.37Z" fill="#fff" stroke="#000" stroke-width="0.9"/>
<line x1="376" y1="362.36" x2="382" y2="362.36" stroke="#000" stroke-width="1.4"/>
<line x1="379.37" y1="362.36" x2="385.37" y2="362.36" stroke="#000" stroke-width="1.4"/>
<line x1="382.74" y1="362.36" x2="388.74" y2="362.36" stroke="#000" stroke-width="1.4"/>
<line x1="386.12" y1="362.36" x2="392.12" y2="362.36" stroke="#000" stroke-width="1.4"/>
<line x1="389.49" y1="362.36" x2="395.49" y2="362.36" stroke="#000" stroke-width="1.4"/>
<line x1="392.86" y1="362.36" x2="398.86" y2="362.36" stroke="#000" stroke-width="1.4"/>
<line x1="396.23" y1="362.36" x2="402.23" y2="362.36" stroke="#000" stroke-width="1.4"/>
<line x1="399.61" y1="362.36" x2="405.61" y2="362.36" stroke="#000" stroke-width="1.4"/>
<line x1="402.98" y1="362.36" x2="408.98" y2="362.36" stroke="#000" stroke-width="1.4"/>
<line x1="406.35" y1="362.35" x2="412.35" y2="362.35" stroke="#000" stroke-width="1.4"/>
<line x1="409.72" y1="362.35" x2="415.72" y2="362.35" stroke="#000" stroke-width="1.4"/>
<line x1="413.1" y1="362.35" x2="419.1" y2="362.35" stroke="#000" stroke-width="1.4"/>
<line x1="416.47" y1="362.34" x2="422.47" y2="362.34" stroke="#000" stroke-width="1.4"/>
<line x1="419.84" y1="362.34" x2="425.84" y2="362.34" stroke="#000" stroke-width="1.4"/>
<line x1="423.21" y1="362.33" x2="429.21" y2="362.33" stroke="#000" stroke-width="1.4"/>
<line x1="426.59" y1="362.33" x2="432.59" y2="362.33" stroke="#000" stroke-width="1.4"/>
<line x1="429.96" y1="362.32" x2="435.96" y2="362.32" stroke="#000" stroke-width="1.4"/>
<line x1="433.33" y1="362.31" x2="439.33" y2="362.31" stroke="#000" stroke-width="1.4"/>
<line x1="436.7" y1="362.3" x2="442.7" y2="362.3" stroke="#000" stroke-width="1.4"/>
<line x1="440.08" y1="362.3" x2="446.08" y2="362.3" stroke="#000" stroke-width="1.4"/>
<line x1="443.45" y1="362.29" x2="449.45" y2="362.29" stroke="#000" stroke-width="1.4"/>
<line x1="446.82" y1="362.27" x2="452.82" y2="362.27" stroke="#000" stroke-width="1.4"/>
<line x1="450.19" y1="362.26" x2="456.19" y2="362.26" stroke="#000" stroke-width="1.4"/>
<line x1="453.57" y1="362.25" x2="459.57" y2="362.25" stroke="#000" stroke-width="1.4"/>
<line x1="456.94" y1="362.24" x2="462.94" y2="362.24" stroke="#000" stroke-width="1.4"/>
<line x1="460.31" y1="362.22" x2="466.31" y2="362.22" stroke="#000" stroke-width="1.4"/>
<line x1="463.68" y1="362.21" x2="469.68" y2="362.21" stroke="#000" stroke-width="1.4"/>
<line x1="467.06" y1="362.19" x2="473.06" y2="362.19" stroke="#000" stroke-width="1.4"/>
<line x1="470.43" y1="362.17" x2="476.43" y2="362.17" stroke="#000" stroke-width="1.4"/>
<line x1="473.8" y1="362.15" x2="479.8" y2="362.15" stroke="#000" stroke-width="1.4"/>
<line x1="477.17" y1="362.13" x2="483.17" y2="362.13" stroke="#000" stroke-width="1.4"/>
<line x1="480.55" y1="362.1" x2="486.55" y2="362.1" stroke="#000" stroke-width="1.4"/>
<line x1="483.92" y1="361.71" x2="489.92" y2="361.71" stroke="#000" stroke-width="1.4"/>
<line x1="487.29" y1="360.87" x2="493.29" y2="360.87" stroke="#000" stroke-width="1.4"/>
<line x1="490.66" y1="359.19" x2="496.66" y2="359.19" stroke="#000" stroke-width="1.4"/>
<line x1="494.04" y1="354.81" x2="500.04" y2="354.81" stroke="#000" stroke-width="1.4"/>
<line x1="497.41" y1="351.24" x2="503.41" y2="351.24" stroke="#000" stroke-width="1.4"/>
<line x1="500.78" y1="347.8" x2="506.78" y2="347.8" stroke="#000" stroke-width="1.4"/>
<line x1="504.15" y1="344.21" x2="510.15" y2="344.21" stroke="#000" stroke-width="1.4"/>
<line x1="507.53" y1="340.24" x2="513.53" y2="340.24" stroke="#000" stroke-width="1.4"/>
<line x1="510.9" y1="336.02" x2="516.9" y2="336.02" stroke="#000" stroke-width="1.4"/>
<line x1="514.27" y1="331.9" x2="520.27" y2="331.9" stroke="#000" stroke-width="1.4"/>
<line x1="517.64" y1="327.9" x2="523.64" y2="327.9" stroke="#000" stroke-width="1.4"/>
<line x1="521.02" y1="323.98" x2="527.02" y2="323.98" stroke="#000" stroke-width="1.4"/>
<line x1="524.39" y1="320.38" x2="530.39" y2="320.38" stroke="#000" stroke-width="1.4"/>
<line x1="527.76" y1="317.24" x2="533.76" y2="317.24" stroke="#000" stroke-width="1.4"/>
<line x1="531.13" y1="314.43" x2="537.13" y2="314.43" stroke="#000" stroke-width="1.4"/>
<line x1="534.51" y1="312.23" x2="540.51" y2="312.23" stroke="#000" stroke-width="1.4"/>
<line x1="537.88" y1="310.46" x2="543.88" y2="310.46" stroke="#000" stroke-width="1.4"/>
<line x1="541.25" y1="308.99" x2="547.25" y2="308.99" stroke="#000" stroke-width="1.4"/>
<line x1="544.62" y1="307.82" x2="550.62" y2="307.82" stroke="#000" stroke-width="1.4"/>
<line x1="548" y1="306.79" x2="554" y2="306.79" stroke="#000" stroke-width="1.4"/>
<line x1="551.37" y1="305.91" x2="557.37" y2="305.91" stroke="#000" stroke-width="1.4"/>
<line x1="554.74" y1="305.18" x2="560.74" y2="305.18" stroke="#000" stroke-width="1.4"/>
<line x1="558.11" y1="304.59" x2="564.11" y2="304.59" stroke="#000" stroke-width="1.4"/>
<line x1="561.49" y1="304.03" x2="567.49" y2="304.03" stroke="#000" stroke-width="1.4"/>
<line x1="564.86" y1="303.58" x2="570.86" y2="303.58" stroke="#000" stroke-width="1.4"/>
<line x1="568.23" y1="303.38" x2="574.23" y2="303.38" stroke="#000" stroke-width="1.4"/>
<line x1="571.6" y1="303.4" x2="577.6" y2="303.4" stroke="#000" stroke-width="1.4"/>
<line x1="574.98" y1="303.47" x2="580.98" y2="303.47" stroke="#000" stroke-width="1.4"/>
<line x1="578.35" y1="303.58" x2="584.35" y2="303.58" stroke="#000" stroke-width="1.4"/>
<line x1="581.72" y1="303.73" x2="587.72" y2="303.73" stroke="#000" stroke-width="1.4"/>
<line x1="585.09" y1="303.91" x2="591.09" y2="303.91" stroke="#000" stroke-width="1.4"/>
<line x1="588.47" y1="304.11" x2="594.47" y2="304.11" stroke="#000" stroke-width="1.4"/>
<line x1="591.84" y1="304.33" x2="597.84" y2="304.33" stroke="#000" stroke-width="1.4"/>
<line x1="595.21" y1="304.63" x2="601.21" y2="304.63" stroke="#000" stroke-width="1.4"/>
<line x1="598.58" y1="305.1" x2="604.58" y2="305.1" stroke="#000" stroke-width="1.4"/>
<line x1="601.96" y1="305.7" x2="607.96" y2="305.7" stroke="#000" stroke-width="1.4"/>
<line x1="605.33" y1="306.37" x2="611.33" y2="306.37" stroke="#000" stroke-width="1.4"/>
<line x1="608.7" y1="307.07" x2="614.7" y2="307.07" stroke="#000" stroke-width="1.4"/>
<line x1="612.07" y1="307.73" x2="618.07" y2="307.73" stroke="#000" stroke-width="1.4"/>
<line x1="615.45" y1="308.33" x2="621.45" y2="308.33" stroke="#000" stroke-width="1.4"/>
<line x1="618.82" y1="308.91" x2="624.82" y2="308.91" stroke="#000" stroke-width="1.4"/>
<line x1="622.19" y1="309.49" x2="628.19" y2="309.49" stroke="#000" stroke-width="1.4"/>
<line x1="625.56" y1="310.07" x2="631.56" y2="310.07" stroke="#000" stroke-width="1.4"/>
<line x1="628.94" y1="310.65" x2="634.94" y2="310.65" stroke="#000" stroke-width="1.4"/>
<line x1="632.31" y1="311.23" x2="638.31" y2="311.23" stroke="#000" stroke-width="1.4"/>
<line x1="635.68" y1="311.81" x2="641.68" y2="311.81" stroke="#000" stroke-width="1.4"/>
<line x1="379.8" y1="359.19" x2="384.2" y2="363.59" stroke="#000" stroke-width="0.9"/>
<line x1="379.8" y1="363.59" x2="384.2" y2="359.19" stroke="#000" stroke-width="0.9"/>
<line x1="383.17" y1="359.19" x2="387.57" y2="363.59" stroke="#000" stroke-width="0.9"/>
<line x1="383.17" y1="363.59" x2="387.57" y2="359.19" stroke="#000" stroke-width="0.9"/>
<line x1="386.54" y1="359.19" x2="390.94" y2="363.59" stroke="#000" stroke-width="0.9"/>
<line x1="386.54" y1="363.59" x2="390.94" y2="359.19" stroke="#000" stroke-width="0.9"/>
<line x1="389.92" y1="359.19" x2="394.32" y2="363.59" stroke="#000" stroke-width="0.9"/>
<line x1="389.92" y1="363.59" x2="394.32" y2="359.19" stroke="#000" stroke-width="0.9"/>
<line x1="393.29" y1="359.19" x2="397.69" y2="363.59" stroke="#000" stroke-width="0.9"/>
<line x1="393.29" y1="363.59" x2="397.69" y2="359.19" stroke="#000" stroke-width="0.9"/>
<line x1="396.66" y1="359.18" x2="401.06" y2="363.58" stroke="#000" stroke-width="0.9"/>
<line x1="396.66" y1="363.58" x2="401.06" y2="359.18" stroke="#000" stroke-width="0.9"/>
<line x1="400.03" y1="359.18" x2="404.43" y2="363.58" stroke="#000" stroke-width="0.9"/>
<line x1="400.03" y1="363.58" x2="404.43" y2="359.18" stroke="#000" stroke-width="0.9"/>
<line x1="403.41" y1="359.18" x2="407.81" y2="363.58" stroke="#000" stroke-width="0.9"/>
<line x1="403.41" y1="363.58" x2="407.81" y2="359.18" stroke="#000" stroke-width="0.9"/>
<line x1="406.78" y1="359.17" x2="411.18" y2="363.57" stroke="#000" stroke-width="0.9"/>
<line x1="406.78" y1="363.57" x2="411.18" y2="359.17" stroke="#000" stroke-width="0.9"/>
<line x1="410.15" y1="359.16" x2="414.55" y2="363.56" stroke="#000" stroke-width="0.9"/>
<line x1="410.15" y1="363.56" x2="414.55" y2="359.16" stroke="#000" stroke-width="0.9"/>
<line x1="413.52" y1="359.16" x2="417.92" y2="363.56" stroke="#000" stroke-width="0.9"/>
<line x1="413.52" y1="363.56" x2="417.92" y2="359.16" stroke="#000" stroke-width="0.9"/>
<line x1="416.9" y1="359.15" x2="421.3" y2="363.55" stroke="#000" stroke-width="0.9"/>
<line x1="416.9" y1="363.55" x2="421.3" y2="359.15" stroke="#000" stroke-width="0.9"/>
<line x1="420.27" y1="359.14" x2="424.67" y2="363.54" stroke="#000" stroke-width="0.9"/>
<line x1="420.27" y1="363.54" x2="424.67" y2="359.14" stroke="#000" stroke-width="0.9"/>
<line x1="423.64" y1="359.13" x2="428.04" y2="363.53" stroke="#000" stroke-width="0.9"/>
<line x1="423.64" y1="363.53" x2="428.04" y2="359.13" stroke="#000" stroke-width="0.9"/>
<line x1="427.01" y1="359.11" x2="431.41" y2="363.51" stroke="#000" stroke-width="0.9"/>
<line x1="427.01" y1="363.51" x2="431.41" y2="359.11" stroke="#000" stroke-width="0.9"/>
<line x1="430.39" y1="359.1" x2="434.79" y2="363.5" stroke="#000" stroke-width="0.9"/>
<line x1="430.39" y1="363.5" x2="434.79" y2="359.1" stroke="#000" stroke-width="0.9"/>
<line x1="433.76" y1="359.08" x2="438.16" y2="363.48" stroke="#000" stroke-width="0.9"/>
<line x1="433.76" y1="363.48" x2="438.16" y2="359.08" stroke="#000" stroke-width="0.9"/>
<line x1="437.13" y1="359.06" x2="441.53" y2="363.46" stroke="#000" stroke-width="0.9"/>
<line x1="437.13" y1="363.46" x2="441.53" y2="359.06" stroke="#000" stroke-width="0.9"/>
<line x1="440.5" y1="359.04" x2="444.9" y2="363.44" stroke="#000" stroke-width="0.9"/>
<line x1="440.5" y1="363.44" x2="444.9" y2="359.04" stroke="#000" stroke-width="0.9"/>
<line x1="443.88" y1="359.02" x2="448.28" y2="363.42" stroke="#000" stroke-width="0.9"/>
<line x1="443.88" y1="363.42" x2="448.28" y2="359.02" stroke="#000" stroke-width="0.9"/>
<line x1="447.25" y1="359" x2="451.65" y2="363.4" stroke="#000" stroke-width="0.9"/>
<line x1="447.25" y1="363.4" x2="451.65" y2="359" stroke="#000" stroke-width="0.9"/>
<line x1="450.62" y1="358.97" x2="455.02" y2="363.37" stroke="#000" stroke-width="0.9"/>
<line x1="450.62" y1="363.37" x2="455.02" y2="358.97" stroke="#000" stroke-width="0.9"/>
<line x1="453.99" y1="358.94" x2="458.39" y2="363.34" stroke="#000" stroke-width="0.9"/>
<line x1="453.99" y1="363.34" x2="458.39" y2="358.94" stroke="#000" stroke-width="0.9"/>
<line x1="457.37" y1="358.91" x2="461.77" y2="363.31" stroke="#000" stroke-width="0.9"/>
<line x1="457.37" y1="363.31" x2="461.77" y2="358.91" stroke="#000" stroke-width="0.9"/>
<line x1="460.74" y1="358.88" x2="465.14" y2="363.28" stroke="#000" stroke-width="0.9"/>
<line x1="460.74" y1="363.28" x2="465.14" y2="358.88" stroke="#000" stroke-width="0.9"/>
<line x1="464.11" y1="358.84" x2="468.51" y2="363.24" stroke="#000" stroke-width="0.9"/>
<line x1="464.11" y1="363.24" x2="468.51" y2="358.84" stroke="#000" stroke-width="0.9"/>
<line x1="467.48" y1="358.78" x2="471.88" y2="363.18" stroke="#000" stroke-width="0.9"/>
<line x1="467.48" y1="363.18" x2="471.88" y2="358.78" stroke="#000" stroke-width="0.9"/>
<line x1="470.86" y1="358.35" x2="475.26" y2="362.75" stroke="#000" stroke-width="0.9"/>
<line x1="470.86" y1="362.75" x2="475.26" y2="358.35" stroke="#000" stroke-width="0.9"/>
<line x1="474.23" y1="357.57" x2="478.63" y2="361.97" stroke="#000" stroke-width="0.9"/>
<line x1="474.23" y1="361.97" x2="478.63" y2="357.57" stroke="#000" stroke-width="0.9"/>
<line x1="477.6" y1="356.58" x2="482" y2="360.98" stroke="#000" stroke-width="0.9"/>
<line x1="477.6" y1="360.98" x2="482" y2="356.58" stroke="#000" stroke-width="0.9"/>
<line x1="480.97" y1="354.85" x2="485.37" y2="359.25" stroke="#000" stroke-width="0.9"/>
<line x1="480.97" y1="359.25" x2="485.37" y2="354.85" stroke="#000" stroke-width="0.9"/>
<line x1="484.35" y1="352.31" x2="488.75" y2="356.71" stroke="#000" stroke-width="0.9"/>
<line x1="484.35" y1="356.71" x2="488.75" y2="352.31" stroke="#000" stroke-width="0.9"/>
<line x1="487.72" y1="348.54" x2="492.12" y2="352.94" stroke="#000" stroke-width="0.9"/>
<line x1="487.72" y1="352.94" x2="492.12" y2="348.54" stroke="#000" stroke-width="0.9"/>
<line x1="491.09" y1="343.95" x2="495.49" y2="348.35" stroke="#000" stroke-width="0.9"/>
<line x1="491.09" y1="348.35" x2="495.49" y2="343.95" stroke="#000" stroke-width="0.9"/>
<line x1="494.46" y1="339.1" x2="498.86" y2="343.5" stroke="#000" stroke-width="0.9"/>
<line x1="494.46" y1="343.5" x2="498.86" y2="339.1" stroke="#000" stroke-width="0.9"/>
<line x1="497.84" y1="333.45" x2="502.24" y2="337.85" stroke="#000" stroke-width="0.9"/>
<line x1="497.84" y1="337.85" x2="502.24" y2="333.45" stroke="#000" stroke-width="0.9"/>
<line x1="501.21" y1="327.72" x2="505.61" y2="332.12" stroke="#000" stroke-width="0.9"/>
<line x1="501.21" y1="332.12" x2="505.61" y2="327.72" stroke="#000" stroke-width="0.9"/>
<line x1="504.58" y1="322.96" x2="508.98" y2="327.36" stroke="#000" stroke-width="0.9"/>
<line x1="504.58" y1="327.36" x2="508.98" y2="322.96" stroke="#000" stroke-width="0.9"/>
<line x1="507.95" y1="318.87" x2="512.35" y2="323.27" stroke="#000" stroke-width="0.9"/>
<line x1="507.95" y1="323.27" x2="512.35" y2="318.87" stroke="#000" stroke-width="0.9"/>
<line x1="511.33" y1="315.3" x2="515.73" y2="319.7" stroke="#000" stroke-width="0.9"/>
<line x1="511.33" y1="319.7" x2="515.73" y2="315.3" stroke="#000" stroke-width="0.9"/>
<line x1="514.7" y1="312.42" x2="519.1" y2="316.82" stroke="#000" stroke-width="0.9"/>
<line x1="514.7" y1="316.82" x2="519.1" y2="312.42" stroke="#000" stroke-width="0.9"/>
<line x1="518.07" y1="309.95" x2="522.47" y2="314.35" stroke="#000" stroke-width="0.9"/>
<line x1="518.07" y1="314.35" x2="522.47" y2="309.95" stroke="#000" stroke-width="0.9"/>
<line x1="521.44" y1="307.83" x2="525.84" y2="312.23" stroke="#000" stroke-width="0.9"/>
<line x1="521.44" y1="312.23" x2="525.84" y2="307.83" stroke="#000" stroke-width="0.9"/>
<line x1="524.82" y1="306.09" x2="529.22" y2="310.49" stroke="#000" stroke-width="0.9"/>
<line x1="524.82" y1="310.49" x2="529.22" y2="306.09" stroke="#000" stroke-width="0.9"/>
<line x1="528.19" y1="304.71" x2="532.59" y2="309.11" stroke="#000" stroke-width="0.9"/>
<line x1="528.19" y1="309.11" x2="532.59" y2="304.71" stroke="#000" stroke-width="0.9"/>
<line x1="531.56" y1="303.6" x2="535.96" y2="308" stroke="#000" stroke-width="0.9"/>
<line x1="531.56" y1="308" x2="535.96" y2="303.6" stroke="#000" stroke-width="0.9"/>
<line x1="534.93" y1="302.67" x2="539.33" y2="307.07" stroke="#000" stroke-width="0.9"/>
<line x1="534.93" y1="307.07" x2="539.33" y2="302.67" stroke="#000" stroke-width="0.9"/>
<line x1="538.31" y1="301.84" x2="542.71" y2="306.24" stroke="#000" stroke-width="0.9"/>
<line x1="538.31" y1="306.24" x2="542.71" y2="301.84" stroke="#000" stroke-width="0.9"/>
<line x1="541.68" y1="301.11" x2="546.08" y2="305.51" stroke="#000" stroke-width="0.9"/>
<line x1="541.68" y1="305.51" x2="546.08" y2="301.11" stroke="#000" stroke-width="0.9"/>
<line x1="545.05" y1="300.43" x2="549.45" y2="304.83" stroke="#000" stroke-width="0.9"/>
<line x1="545.05" y1="304.83" x2="549.45" y2="300.43" stroke="#000" stroke-width="0.9"/>
<line x1="548.42" y1="299.78" x2="552.82" y2="304.18" stroke="#000" stroke-width="0.9"/>
<line x1="548.42" y1="304.18" x2="552.82" y2="299.78" stroke="#000" stroke-width="0.9"/>
<line x1="551.8" y1="299.11" x2="556.2" y2="303.51" stroke="#000" stroke-width="0.9"/>
<line x1="551.8" y1="303.51" x2="556.2" y2="299.11" stroke="#000" stroke-width="0.9"/>
<line x1="555.17" y1="298.5" x2="559.57" y2="302.9" stroke="#000" stroke-width="0.9"/>
<line x1="555.17" y1="302.9" x2="559.57" y2="298.5" stroke="#000" stroke-width="0.9"/>
<line x1="558.54" y1="298.02" x2="562.94" y2="302.42" stroke="#000" stroke-width="0.9"/>
<line x1="558.54" y1="302.42" x2="562.94" y2="298.02" stroke="#000" stroke-width="0.9"/>
<line x1="561.91" y1="297.73" x2="566.31" y2="302.13" stroke="#000" stroke-width="0.9"/>
<line x1="561.91" y1="302.13" x2="566.31" y2="297.73" stroke="#000" stroke-width="0.9"/>
<line x1="565.29" y1="297.49" x2="569.69" y2="301.89" stroke="#000" stroke-width="0.9"/>
<line x1="565.29" y1="301.89" x2="569.69" y2="297.49" stroke="#000" stroke-width="0.9"/>
<line x1="568.66" y1="297.31" x2="573.06" y2="301.71" stroke="#000" stroke-width="0.9"/>
<line x1="568.66" y1="301.71" x2="573.06" y2="297.31" stroke="#000" stroke-width="0.9"/>
<line x1="572.03" y1="297.23" x2="576.43" y2="301.63" stroke="#000" stroke-width="0.9"/>
<line x1="572.03" y1="301.63" x2="576.43" y2="297.23" stroke="#000" stroke-width="0.9"/>
<line x1="575.4" y1="297.28" x2="579.8" y2="301.68" stroke="#000" stroke-width="0.9"/>
<line x1="575.4" y1="301.68" x2="579.8" y2="297.28" stroke="#000" stroke-width="0.9"/>
<line x1="578.78" y1="297.43" x2="583.18" y2="301.83" stroke="#000" stroke-width="0.9"/>
<line x1="578.78" y1="301.83" x2="583.18" y2="297.43" stroke="#000" stroke-width="0.9"/>
<line x1="582.15" y1="297.66" x2="586.55" y2="302.06" stroke="#000" stroke-width="0.9"/>
<line x1="582.15" y1="302.06" x2="586.55" y2="297.66" stroke="#000" stroke-width="0.9"/>
<line x1="585.52" y1="297.96" x2="589.92" y2="302.36" stroke="#000" stroke-width="0.9"/>
<line x1="585.52" y1="302.36" x2="589.92" y2="297.96" stroke="#000" stroke-width="0.9"/>
<line x1="588.89" y1="298.3" x2="593.29" y2="302.7" stroke="#000" stroke-width="0.9"/>
<line x1="588.89" y1="302.7" x2="593.29" y2="298.3" stroke="#000" stroke-width="0.9"/>
<line x1="592.27" y1="298.66" x2="596.67" y2="303.06" stroke="#000" stroke-width="0.9"/>
<line x1="592.27" y1="303.06" x2="596.67" y2="298.66" stroke="#000" stroke-width="0.9"/>
<line x1="595.64" y1="299.03" x2="600.04" y2="303.43" stroke="#000" stroke-width="0.9"/>
<line x1="595.64" y1="303.43" x2="600.04" y2="299.03" stroke="#000" stroke-width="0.9"/>
<line x1="599.01" y1="299.44" x2="603.41" y2="303.84" stroke="#000" stroke-width="0.9"/>
<line x1="599.01" y1="303.84" x2="603.41" y2="299.44" stroke="#000" stroke-width="0.9"/>
<line x1="602.38" y1="299.95" x2="606.78" y2="304.35" stroke="#000" stroke-width="0.9"/>
<line x1="602.38" y1="304.35" x2="606.78" y2="299.95" stroke="#000" stroke-width="0.9"/>
<line x1="605.76" y1="300.54" x2="610.16" y2="304.94" stroke="#000" stroke-width="0.9"/>
<line x1="605.76" y1="304.94" x2="610.16" y2="300.54" stroke="#000" stroke-width="0.9"/>
<line x1="609.13" y1="301.18" x2="613.53" y2="305.58" stroke="#000" stroke-width="0.9"/>
<line x1="609.13" y1="305.58" x2="613.53" y2="301.18" stroke="#000" stroke-width="0.9"/>
<line x1="612.5" y1="301.83" x2="616.9" y2="306.23" stroke="#000" stroke-width="0.9"/>
<line x1="612.5" y1="306.23" x2="616.9" y2="301.83" stroke="#000" stroke-width="0.9"/>
<line x1="615.87" y1="302.46" x2="620.27" y2="306.86" stroke="#000" stroke-width="0.9"/>
<line x1="615.87" y1="306.86" x2="620.27" y2="302.46" stroke="#000" stroke-width="0.9"/>
<line x1="619.25" y1="303.05" x2="623.65" y2="307.45" stroke="#000" stroke-width="0.9"/>
<line x1="619.25" y1="307.45" x2="623.65" y2="303.05" stroke="#000" stroke-width="0.9"/>
<line x1="622.62" y1="303.63" x2="627.02" y2="308.03" stroke="#000" stroke-width="0.9"/>
<line x1="622.62" y1="308.03" x2="627.02" y2="303.63" stroke="#000" stroke-width="0.9"/>
<line x1="625.99" y1="304.21" x2="630.39" y2="308.61" stroke="#000" stroke-width="0.9"/>
<line x1="625.99" y1="308.61" x2="630.39" y2="304.21" stroke="#000" stroke-width="0.9"/>
<line x1="629.36" y1="304.79" x2="633.76" y2="309.19" stroke="#000" stroke-width="0.9"/>
<line x1="629.36" y1="309.19" x2="633.76" y2="304.79" stroke="#000" stroke-width="0.9"/>
<line x1="632.74" y1="305.37" x2="637.14" y2="309.77" stroke="#000" stroke-width="0.9"/>
<line x1="632.74" y1="309.77" x2="637.14" y2="305.37" stroke="#000" stroke-width="0.9"/>
<line x1="636.11" y1="305.95" x2="640.51" y2="310.35" stroke="#000" stroke-width="0.9"/>
<line x1="636.11" y1="310.35" x2="640.51" y2="305.95" stroke="#000" stroke-width="0.9"/>
<line x1="639.48" y1="306.53" x2="643.88" y2="310.93" stroke="#000" stroke-width="0.9"/>
<line x1="639.48" y1="310.93" x2="643.88" y2="306.53" stroke="#000" stroke-width="0.9"/>
<path d="M382 353.37L384.2 355.57L382 357.77L379.8 355.57Z" fill="#0d0d4a" stroke="none"/>
<path d="M385.37 353.43L387.57 355.63L385.37 357.83L383.17 355.63Z" fill="#0d0d4a" stroke="none"/>
<path d="M388.74 353.5L390.94 355.7L388.74 357.9L386.54 355.7Z" fill="#0d0d4a" stroke="none"/>
<path d="M392.12 353.57L394.32 355.77L392.12 357.97L389.92 355.77Z" fill="#0d0d4a" stroke="none"/>
<path d="M395.49 353.65L397.69 355.85L395.49 358.05L393.29 355.85Z" fill="#0d0d4a" stroke="none"/>
<path d="M398.86 353.74L401.06 355.94L398.86 358.14L396.66 355.94Z" fill="#0d0d4a" stroke="none"/>
<path d="M402.23 353.83L404.43 356.03L402.23 358.23L400.03 356.03Z" fill="#0d0d4a" stroke="none"/>
<path d="M405.61 353.92L407.81 356.12L405.61 358.32L403.41 356.12Z" fill="#0d0d4a" stroke="none"/>
<path d="M408.98 354.02L411.18 356.22L408.98 358.42L406.78 356.22Z" fill="#0d0d4a" stroke="none"/>
<path d="M412.35 354.13L414.55 356.33L412.35 358.53L410.15 356.33Z" fill="#0d0d4a" stroke="none"/>
<path d="M415.72 354.25L417.92 356.45L415.72 358.65L413.52 356.45Z" fill="#0d0d4a" stroke="none"/>
<path d="M419.1 354.39L421.3 356.59L419.1 358.79L416.9 356.59Z" fill="#0d0d4a" stroke="none"/>
<path d="M422.47 354.53L424.67 356.73L422.47 358.93L420.27 356.73Z" fill="#0d0d4a" stroke="none"/>
<path d="M425.84 354.67L428.04 356.87L425.84 359.07L423.64 356.87Z" fill="#0d0d4a" stroke="none"/>
<path d="M429.21 354.8L431.41 357L429.21 359.2L427.01 357Z" fill="#0d0d4a" stroke="none"/>
<path d="M432.59 354.93L434.79 357.13L432.59 359.33L430.39 357.13Z" fill="#0d0d4a" stroke="none"/>
<path d="M435.96 355.04L438.16 357.24L435.96 359.44L433.76 357.24Z" fill="#0d0d4a" stroke="none"/>
<path d="M439.33 355.13L441.53 357.33L439.33 359.53L437.13 357.33Z" fill="#0d0d4a" stroke="none"/>
<path d="M442.7 355.22L444.9 357.42L442.7 359.62L440.5 357.42Z" fill="#0d0d4a" stroke="none"/>
<path d="M446.08 355.3L448.28 357.5L446.08 359.7L443.88 357.5Z" fill="#0d0d4a" stroke="none"/>
<path d="M449.45 355.38L451.65 357.58L449.45 359.78L447.25 357.58Z" fill="#0d0d4a" stroke="none"/>
<path d="M452.82 355.46L455.02 357.66L452.82 359.86L450.62 357.66Z" fill="#0d0d4a" stroke="none"/>
<path d="M456.19 355.54L458.39 357.74L456.19 359.94L453.99 357.74Z" fill="#0d0d4a" stroke="none"/>
<path d="M459.57 355.61L461.77 357.81L459.57 360.01L457.37 357.81Z" fill="#0d0d4a" stroke="none"/>
<path d="M462.94 355.68L465.14 357.88L462.94 360.08L460.74 357.88Z" fill="#0d0d4a" stroke="none"/>
<path d="M466.31 355.74L468.51 357.94L466.31 360.14L464.11 357.94Z" fill="#0d0d4a" stroke="none"/>
<path d="M469.68 355.81L471.88 358.01L469.68 360.21L467.48 358.01Z" fill="#0d0d4a" stroke="none"/>
<path d="M473.06 355.87L475.26 358.07L473.06 360.27L470.86 358.07Z" fill="#0d0d4a" stroke="none"/>
<path d="M476.43 355.92L478.63 358.12L476.43 360.32L474.23 358.12Z" fill="#0d0d4a" stroke="none"/>
<path d="M479.8 355.97L482 358.17L479.8 360.37L477.6 358.17Z" fill="#0d0d4a" stroke="none"/>
<path d="M483.17 356.02L485.37 358.22L483.17 360.42L480.97 358.22Z" fill="#0d0d4a" stroke="none"/>
<path d="M486.55 356.06L488.75 358.26L486.55 360.46L484.35 358.26Z" fill="#0d0d4a" stroke="none"/>
<path d="M489.92 356.09L492.12 358.29L489.92 360.49L487.72 358.29Z" fill="#0d0d4a" stroke="none"/>
<path d="M493.29 356.12L495.49 358.32L493.29 360.52L491.09 358.32Z" fill="#0d0d4a" stroke="none"/>
<path d="M496.66 356.16L498.86 358.36L496.66 360.56L494.46 358.36Z" fill="#0d0d4a" stroke="none"/>
<path d="M500.04 356.19L502.24 358.39L500.04 360.59L497.84 358.39Z" fill="#0d0d4a" stroke="none"/>
<path d="M503.41 356.22L505.61 358.42L503.41 360.62L501.21 358.42Z" fill="#0d0d4a" stroke="none"/>
<path d="M506.78 356.25L508.98 358.45L506.78 360.65L504.58 358.45Z" fill="#0d0d4a" stroke="none"/>
<path d="M510.15 356.28L512.35 358.48L510.15 360.68L507.95 358.48Z" fill="#0d0d4a" stroke="none"/>
<path d="M513.53 356.31L515.73 358.51L513.53 360.71L511.33 358.51Z" fill="#0d0d4a" stroke="none"/>
<path d="M516.9 356.33L519.1 358.53L516.9 360.73L514.7 358.53Z" fill="#0d0d4a" stroke="none"/>
<path d="M520.27 356.36L522.47 358.56L520.27 360.76L518.07 358.56Z" fill="#0d0d4a" stroke="none"/>
<path d="M523.64 356.39L525.84 358.59L523.64 360.79L521.44 358.59Z" fill="#0d0d4a" stroke="none"/>
<path d="M527.02 356.41L529.22 358.61L527.02 360.81L524.82 358.61Z" fill="#0d0d4a" stroke="none"/>
<path d="M530.39 356.43L532.59 358.63L530.39 360.83L528.19 358.63Z" fill="#0d0d4a" stroke="none"/>
<path d="M533.76 356.46L535.96 358.66L533.76 360.86L531.56 358.66Z" fill="#0d0d4a" stroke="none"/>
<path d="M537.13 356.48L539.33 358.68L537.13 360.88L534.93 358.68Z" fill="#0d0d4a" stroke="none"/>
<path d="M540.51 356.5L542.71 358.7L540.51 360.9L538.31 358.7Z" fill="#0d0d4a" stroke="none"/>
<path d="M543.88 356.51L546.08 358.71L543.88 360.91L541.68 358.71Z" fill="#0d0d4a" stroke="none"/>
<path d="M547.25 356.53L549.45 358.73L547.25 360.93L545.05 358.73Z" fill="#0d0d4a" stroke="none"/>
<path d="M550.62 356.54L552.82 358.74L550.62 360.94L548.42 358.74Z" fill="#0d0d4a" stroke="none"/>
<path d="M554 356.56L556.2 358.76L554 360.96L551.8 358.76Z" fill="#0d0d4a" stroke="none"/>
<path d="M557.37 356.57L559.57 358.77L557.37 360.97L555.17 358.77Z" fill="#0d0d4a" stroke="none"/>
<path d="M560.74 356.58L562.94 358.78L560.74 360.98L558.54 358.78Z" fill="#0d0d4a" stroke="none"/>
<path d="M564.11 356.58L566.31 358.78L564.11 360.98L561.91 358.78Z" fill="#0d0d4a" stroke="none"/>
<path d="M567.49 356.59L569.69 358.79L567.49 360.99L565.29 358.79Z" fill="#0d0d4a" stroke="none"/>
<path d="M570.86 356.59L573.06 358.79L570.86 360.99L568.66 358.79Z" fill="#0d0d4a" stroke="none"/>
<path d="M574.23 356.5L576.43 358.7L574.23 360.9L572.03 358.7Z" fill="#0d0d4a" stroke="none"/>
<path d="M577.6 356.01L579.8 358.21L577.6 360.41L575.4 358.21Z" fill="#0d0d4a" stroke="none"/>
<path d="M580.98 355.35L583.18 357.55L580.98 359.75L578.78 357.55Z" fill="#0d0d4a" stroke="none"/>
<path d="M584.35 354.8L586.55 357L584.35 359.2L582.15 357Z" fill="#0d0d4a" stroke="none"/>
<path d="M587.72 354.27L589.92 356.47L587.72 358.67L585.52 356.47Z" fill="#0d0d4a" stroke="none"/>
<path d="M591.09 353.69L593.29 355.89L591.09 358.09L588.89 355.89Z" fill="#0d0d4a" stroke="none"/>
<path d="M594.47 353.02L596.67 355.22L594.47 357.42L592.27 355.22Z" fill="#0d0d4a" stroke="none"/>
<path d="M597.84 352.26L600.04 354.46L597.84 356.66L595.64 354.46Z" fill="#0d0d4a" stroke="none"/>
<path d="M601.21 351.32L603.41 353.52L601.21 355.72L599.01 353.52Z" fill="#0d0d4a" stroke="none"/>
<path d="M604.58 350.06L606.78 352.26L604.58 354.46L602.38 352.26Z" fill="#0d0d4a" stroke="none"/>
<path d="M607.96 348.43L610.16 350.63L607.96 352.83L605.76 350.63Z" fill="#0d0d4a" stroke="none"/>
<path d="M611.33 346.23L613.53 348.43L611.33 350.63L609.13 348.43Z" fill="#0d0d4a" stroke="none"/>
<path d="M614.7 343.75L616.9 345.95L614.7 348.15L612.5 345.95Z" fill="#0d0d4a" stroke="none"/>
<path d="M618.07 340.96L620.27 343.16L618.07 345.36L615.87 343.16Z" fill="#0d0d4a" stroke="none"/>
<path d="M621.45 337.85L623.65 340.05L621.45 342.25L619.25 340.05Z" fill="#0d0d4a" stroke="none"/>
<path d="M624.82 334.45L627.02 336.65L624.82 338.85L622.62 336.65Z" fill="#0d0d4a" stroke="none"/>
<path d="M628.19 330.89L630.39 333.09L628.19 335.29L625.99 333.09Z" fill="#0d0d4a" stroke="none"/>
<path d="M631.56 327.62L633.76 329.82L631.56 332.02L629.36 329.82Z" fill="#0d0d4a" stroke="none"/>
<path d="M634.94 325.14L637.14 327.34L634.94 329.54L632.74 327.34Z" fill="#0d0d4a" stroke="none"/>
<path d="M638.31 323.08L640.51 325.28L638.31 327.48L636.11 325.28Z" fill="#0d0d4a" stroke="none"/>
<path d="M641.68 321.4L643.88 323.6L641.68 325.8L639.48 323.6Z" fill="#0d0d4a" stroke="none"/>
<text x="394.6" y="240.42" font-size="14" fill="#000" letter-spacing="1.3" transform="scale(1 1.2)">(b)</text>
<rect x="385.8" y="241.1" width="4.4" height="4.4" fill="#fff" stroke="#000" stroke-width="1"/>
<text x="394.3" y="247.2" font-size="10" text-anchor="start" font-weight="normal" fill="#000">F1 50</text>
<path d="M428.7 240.77L431.23 243.3L428.7 245.83L426.17 243.3Z" fill="#0d0d4a" stroke="none"/>
<text x="433.5" y="247.2" font-size="10" text-anchor="start" font-weight="normal" fill="#000">F3 50</text>
<path d="M468 241.1L470.2 243.3L468 245.5L465.8 243.3Z" fill="#fff" stroke="#000" stroke-width="0.95"/>
<text x="472.4" y="247.2" font-size="10" text-anchor="start" font-weight="normal" fill="#000">F5 50</text>
<path d="M507.2 240.54L509.96 245.51L504.44 245.51Z" fill="#000"/>
<text x="513.7" y="247.2" font-size="10" text-anchor="start" font-weight="normal" fill="#000">F6 50</text>
<path d="M547.5 241L549.8 245.14L545.2 245.14Z" fill="#fff" stroke="#000" stroke-width="0.9"/>
<text x="553.1" y="247.2" font-size="10" text-anchor="start" font-weight="normal" fill="#000">F7 50</text>
<line x1="585" y1="243.3" x2="589.8" y2="243.3" stroke="#000" stroke-width="1.4"/>
<text x="592.6" y="247.2" font-size="10" text-anchor="start" font-weight="normal" fill="#000">F9 50</text>
<line x1="625.3" y1="241.1" x2="629.7" y2="245.5" stroke="#000" stroke-width="0.9"/>
<line x1="625.3" y1="245.5" x2="629.7" y2="241.1" stroke="#000" stroke-width="0.9"/>
<text x="632.7" y="247.2" font-size="10" text-anchor="start" font-weight="normal" fill="#000">F10 50</text>
</svg>
</body></html>
